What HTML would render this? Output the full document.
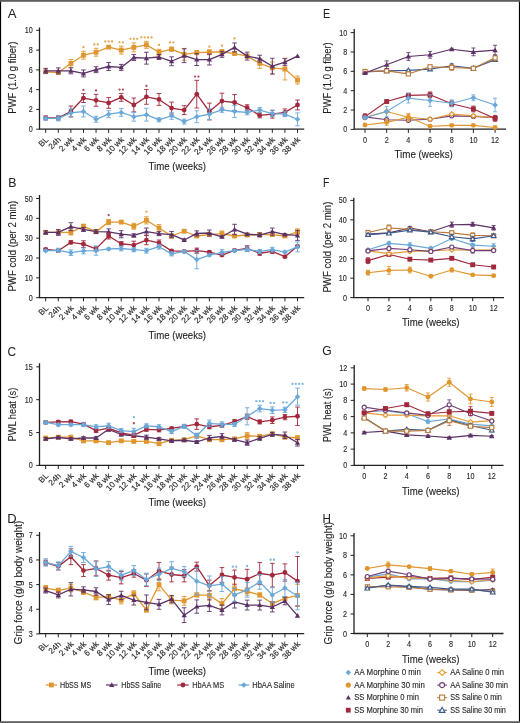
<!DOCTYPE html>
<html><head><meta charset="utf-8"><style>
html,body{margin:0;padding:0;background:#fff;width:520px;height:723px;overflow:hidden}
text{stroke:#231F20}
svg{display:block;will-change:transform}
text{font-family:"Liberation Sans",sans-serif}
</style></head><body>
<svg width="520" height="723" viewBox="0 0 520 723">
<rect x="0" y="0" width="520" height="723" fill="#fff"/>
<path d="M39.5 27.5V129.2H304.2" stroke="#231F20" stroke-width="1.3" fill="none"/>
<path d="M36.2 129.2H39.5" stroke="#231F20" stroke-width="1" fill="none"/>
<text x="32.8" y="132.2" font-size="8.4" text-anchor="end" fill="#231F20" stroke-width="0.12" textLength="4.02" lengthAdjust="spacingAndGlyphs">0</text>
<path d="M36.2 109.42H39.5" stroke="#231F20" stroke-width="1" fill="none"/>
<text x="32.8" y="112.42" font-size="8.4" text-anchor="end" fill="#231F20" stroke-width="0.12" textLength="4.02" lengthAdjust="spacingAndGlyphs">2</text>
<path d="M36.2 89.64H39.5" stroke="#231F20" stroke-width="1" fill="none"/>
<text x="32.8" y="92.64" font-size="8.4" text-anchor="end" fill="#231F20" stroke-width="0.12" textLength="4.02" lengthAdjust="spacingAndGlyphs">4</text>
<path d="M36.2 69.86H39.5" stroke="#231F20" stroke-width="1" fill="none"/>
<text x="32.8" y="72.86" font-size="8.4" text-anchor="end" fill="#231F20" stroke-width="0.12" textLength="4.02" lengthAdjust="spacingAndGlyphs">6</text>
<path d="M36.2 50.08H39.5" stroke="#231F20" stroke-width="1" fill="none"/>
<text x="32.8" y="53.08" font-size="8.4" text-anchor="end" fill="#231F20" stroke-width="0.12" textLength="4.02" lengthAdjust="spacingAndGlyphs">8</text>
<path d="M36.2 30.3H39.5" stroke="#231F20" stroke-width="1" fill="none"/>
<text x="32.8" y="33.3" font-size="8.4" text-anchor="end" fill="#231F20" stroke-width="0.12" textLength="8.03" lengthAdjust="spacingAndGlyphs">10</text>
<path d="M45.7 129.2V132.8" stroke="#231F20" stroke-width="1" fill="none"/>
<text x="48.9" y="140.2" font-size="8.2" text-anchor="end" fill="#231F20" stroke-width="0.14" transform="rotate(-45 48.9 140.2)">BL</text>
<path d="M58.29 129.2V132.8" stroke="#231F20" stroke-width="1" fill="none"/>
<text x="61.49" y="140.2" font-size="8.2" text-anchor="end" fill="#231F20" stroke-width="0.14" transform="rotate(-45 61.49 140.2)">24h</text>
<path d="M70.88 129.2V132.8" stroke="#231F20" stroke-width="1" fill="none"/>
<text x="74.08" y="140.2" font-size="8.2" text-anchor="end" fill="#231F20" stroke-width="0.14" transform="rotate(-45 74.08 140.2)">2 wk</text>
<path d="M83.47 129.2V132.8" stroke="#231F20" stroke-width="1" fill="none"/>
<text x="86.67" y="140.2" font-size="8.2" text-anchor="end" fill="#231F20" stroke-width="0.14" transform="rotate(-45 86.67 140.2)">4 wk</text>
<path d="M96.06 129.2V132.8" stroke="#231F20" stroke-width="1" fill="none"/>
<text x="99.26" y="140.2" font-size="8.2" text-anchor="end" fill="#231F20" stroke-width="0.14" transform="rotate(-45 99.26 140.2)">6 wk</text>
<path d="M108.65 129.2V132.8" stroke="#231F20" stroke-width="1" fill="none"/>
<text x="111.85" y="140.2" font-size="8.2" text-anchor="end" fill="#231F20" stroke-width="0.14" transform="rotate(-45 111.85 140.2)">8 wk</text>
<path d="M121.24 129.2V132.8" stroke="#231F20" stroke-width="1" fill="none"/>
<text x="124.44" y="140.2" font-size="8.2" text-anchor="end" fill="#231F20" stroke-width="0.14" transform="rotate(-45 124.44 140.2)">10 wk</text>
<path d="M133.83 129.2V132.8" stroke="#231F20" stroke-width="1" fill="none"/>
<text x="137.03" y="140.2" font-size="8.2" text-anchor="end" fill="#231F20" stroke-width="0.14" transform="rotate(-45 137.03 140.2)">12 wk</text>
<path d="M146.42 129.2V132.8" stroke="#231F20" stroke-width="1" fill="none"/>
<text x="149.62" y="140.2" font-size="8.2" text-anchor="end" fill="#231F20" stroke-width="0.14" transform="rotate(-45 149.62 140.2)">14 wk</text>
<path d="M159.01 129.2V132.8" stroke="#231F20" stroke-width="1" fill="none"/>
<text x="162.21" y="140.2" font-size="8.2" text-anchor="end" fill="#231F20" stroke-width="0.14" transform="rotate(-45 162.21 140.2)">16 wk</text>
<path d="M171.6 129.2V132.8" stroke="#231F20" stroke-width="1" fill="none"/>
<text x="174.8" y="140.2" font-size="8.2" text-anchor="end" fill="#231F20" stroke-width="0.14" transform="rotate(-45 174.8 140.2)">18 wk</text>
<path d="M184.19 129.2V132.8" stroke="#231F20" stroke-width="1" fill="none"/>
<text x="187.39" y="140.2" font-size="8.2" text-anchor="end" fill="#231F20" stroke-width="0.14" transform="rotate(-45 187.39 140.2)">20 wk</text>
<path d="M196.78 129.2V132.8" stroke="#231F20" stroke-width="1" fill="none"/>
<text x="199.98" y="140.2" font-size="8.2" text-anchor="end" fill="#231F20" stroke-width="0.14" transform="rotate(-45 199.98 140.2)">22 wk</text>
<path d="M209.37 129.2V132.8" stroke="#231F20" stroke-width="1" fill="none"/>
<text x="212.57" y="140.2" font-size="8.2" text-anchor="end" fill="#231F20" stroke-width="0.14" transform="rotate(-45 212.57 140.2)">24 wk</text>
<path d="M221.96 129.2V132.8" stroke="#231F20" stroke-width="1" fill="none"/>
<text x="225.16" y="140.2" font-size="8.2" text-anchor="end" fill="#231F20" stroke-width="0.14" transform="rotate(-45 225.16 140.2)">26 wk</text>
<path d="M234.55 129.2V132.8" stroke="#231F20" stroke-width="1" fill="none"/>
<text x="237.75" y="140.2" font-size="8.2" text-anchor="end" fill="#231F20" stroke-width="0.14" transform="rotate(-45 237.75 140.2)">28 wk</text>
<path d="M247.14 129.2V132.8" stroke="#231F20" stroke-width="1" fill="none"/>
<text x="250.34" y="140.2" font-size="8.2" text-anchor="end" fill="#231F20" stroke-width="0.14" transform="rotate(-45 250.34 140.2)">30 wk</text>
<path d="M259.73 129.2V132.8" stroke="#231F20" stroke-width="1" fill="none"/>
<text x="262.93" y="140.2" font-size="8.2" text-anchor="end" fill="#231F20" stroke-width="0.14" transform="rotate(-45 262.93 140.2)">32 wk</text>
<path d="M272.32 129.2V132.8" stroke="#231F20" stroke-width="1" fill="none"/>
<text x="275.52" y="140.2" font-size="8.2" text-anchor="end" fill="#231F20" stroke-width="0.14" transform="rotate(-45 275.52 140.2)">34 wk</text>
<path d="M284.91 129.2V132.8" stroke="#231F20" stroke-width="1" fill="none"/>
<text x="288.11" y="140.2" font-size="8.2" text-anchor="end" fill="#231F20" stroke-width="0.14" transform="rotate(-45 288.11 140.2)">36 wk</text>
<path d="M297.5 129.2V132.8" stroke="#231F20" stroke-width="1" fill="none"/>
<text x="300.7" y="140.2" font-size="8.2" text-anchor="end" fill="#231F20" stroke-width="0.14" transform="rotate(-45 300.7 140.2)">38 wk</text>
<text x="0" y="0" font-size="10.3" text-anchor="middle" fill="#231F20" stroke-width="0.12" textLength="72" lengthAdjust="spacingAndGlyphs" transform="translate(16.2 77.7) rotate(-90)">PWF (1.0 g fiber)</text>
<text x="7.8" y="17.6" font-size="13.3" text-anchor="start" fill="#231F20" stroke-width="0.05" textLength="8.8" lengthAdjust="spacingAndGlyphs">A</text>
<text x="148.5" y="169.8" font-size="10.6" text-anchor="start" fill="#231F20" stroke-width="0.12" textLength="57.5" lengthAdjust="spacingAndGlyphs">Time (weeks)</text>
<path d="M45.7 70.26V73.22M43.4 70.26H48M43.4 73.22H48" stroke="#E0962E" stroke-width="0.9" fill="none"/>
<path d="M58.29 71.05V74.01M55.99 71.05H60.59M55.99 74.01H60.59" stroke="#E0962E" stroke-width="0.9" fill="none"/>
<path d="M70.88 59.48V67.39M68.58 59.48H73.18M68.58 67.39H73.18" stroke="#E0962E" stroke-width="0.9" fill="none"/>
<path d="M83.47 51.27V59.18M81.17 51.27H85.77M81.17 59.18H85.77" stroke="#E0962E" stroke-width="0.9" fill="none"/>
<path d="M96.06 48.3V56.21M93.76 48.3H98.36M93.76 56.21H98.36" stroke="#E0962E" stroke-width="0.9" fill="none"/>
<path d="M108.65 46.12V48.1M106.35 46.12H110.95M106.35 48.1H110.95" stroke="#E0962E" stroke-width="0.9" fill="none"/>
<path d="M121.24 46.12V54.04M118.94 46.12H123.54M118.94 54.04H123.54" stroke="#E0962E" stroke-width="0.9" fill="none"/>
<path d="M133.83 42.96V51.86M131.53 42.96H136.13M131.53 51.86H136.13" stroke="#E0962E" stroke-width="0.9" fill="none"/>
<path d="M146.42 41.38V48.3M144.12 41.38H148.72M144.12 48.3H148.72" stroke="#E0962E" stroke-width="0.9" fill="none"/>
<path d="M159.01 49.29V55.22M156.71 49.29H161.31M156.71 55.22H161.31" stroke="#E0962E" stroke-width="0.9" fill="none"/>
<path d="M171.6 47.21V51.17M169.3 47.21H173.9M169.3 51.17H173.9" stroke="#E0962E" stroke-width="0.9" fill="none"/>
<path d="M184.19 48.4V60.27M181.89 48.4H186.49M181.89 60.27H186.49" stroke="#E0962E" stroke-width="0.9" fill="none"/>
<path d="M196.78 50.67V54.63M194.48 50.67H199.08M194.48 54.63H199.08" stroke="#E0962E" stroke-width="0.9" fill="none"/>
<path d="M209.37 49.78V54.73M207.07 49.78H211.67M207.07 54.73H211.67" stroke="#E0962E" stroke-width="0.9" fill="none"/>
<path d="M221.96 49.78V53.74M219.66 49.78H224.26M219.66 53.74H224.26" stroke="#E0962E" stroke-width="0.9" fill="none"/>
<path d="M234.55 52.55V54.53M232.25 52.55H236.85M232.25 54.53H236.85" stroke="#E0962E" stroke-width="0.9" fill="none"/>
<path d="M247.14 54.13V58.09M244.84 54.13H249.44M244.84 58.09H249.44" stroke="#E0962E" stroke-width="0.9" fill="none"/>
<path d="M259.73 58.49V68.38M257.43 58.49H262.03M257.43 68.38H262.03" stroke="#E0962E" stroke-width="0.9" fill="none"/>
<path d="M272.32 61.95V73.82M270.02 61.95H274.62M270.02 73.82H274.62" stroke="#E0962E" stroke-width="0.9" fill="none"/>
<path d="M284.91 58.19V79.95M282.61 58.19H287.21M282.61 79.95H287.21" stroke="#E0962E" stroke-width="0.9" fill="none"/>
<path d="M297.5 76.09V84M295.2 76.09H299.8M295.2 84H299.8" stroke="#E0962E" stroke-width="0.9" fill="none"/>
<path d="M45.7 71.74 L58.29 72.53 L70.88 63.43 L83.47 55.22 L96.06 52.26 L108.65 47.11 L121.24 50.08 L133.83 47.41 L146.42 44.84 L159.01 52.26 L171.6 49.19 L184.19 54.33 L196.78 52.65 L209.37 52.26 L221.96 51.76 L234.55 53.54 L247.14 56.11 L259.73 63.43 L272.32 67.88 L284.91 69.07 L297.5 80.05" stroke="#E0962E" stroke-width="1.3" fill="none" stroke-linejoin="round"/>
<rect x="43.3" y="69.34" width="4.8" height="4.8" fill="#E0962E"/>
<rect x="55.89" y="70.13" width="4.8" height="4.8" fill="#E0962E"/>
<rect x="68.48" y="61.03" width="4.8" height="4.8" fill="#E0962E"/>
<rect x="81.07" y="52.82" width="4.8" height="4.8" fill="#E0962E"/>
<rect x="93.66" y="49.86" width="4.8" height="4.8" fill="#E0962E"/>
<rect x="106.25" y="44.71" width="4.8" height="4.8" fill="#E0962E"/>
<rect x="118.84" y="47.68" width="4.8" height="4.8" fill="#E0962E"/>
<rect x="131.43" y="45.01" width="4.8" height="4.8" fill="#E0962E"/>
<rect x="144.02" y="42.44" width="4.8" height="4.8" fill="#E0962E"/>
<rect x="156.61" y="49.86" width="4.8" height="4.8" fill="#E0962E"/>
<rect x="169.2" y="46.79" width="4.8" height="4.8" fill="#E0962E"/>
<rect x="181.79" y="51.93" width="4.8" height="4.8" fill="#E0962E"/>
<rect x="194.38" y="50.25" width="4.8" height="4.8" fill="#E0962E"/>
<rect x="206.97" y="49.86" width="4.8" height="4.8" fill="#E0962E"/>
<rect x="219.56" y="49.36" width="4.8" height="4.8" fill="#E0962E"/>
<rect x="232.15" y="51.14" width="4.8" height="4.8" fill="#E0962E"/>
<rect x="244.74" y="53.71" width="4.8" height="4.8" fill="#E0962E"/>
<rect x="257.33" y="61.03" width="4.8" height="4.8" fill="#E0962E"/>
<rect x="269.92" y="65.48" width="4.8" height="4.8" fill="#E0962E"/>
<rect x="282.51" y="66.67" width="4.8" height="4.8" fill="#E0962E"/>
<rect x="295.1" y="77.65" width="4.8" height="4.8" fill="#E0962E"/>
<path d="M45.7 68.38V73.32M43.4 68.38H48M43.4 73.32H48" stroke="#5C3166" stroke-width="0.9" fill="none"/>
<path d="M58.29 67.88V73.82M55.99 67.88H60.59M55.99 73.82H60.59" stroke="#5C3166" stroke-width="0.9" fill="none"/>
<path d="M70.88 67.88V73.82M68.58 67.88H73.18M68.58 73.82H73.18" stroke="#5C3166" stroke-width="0.9" fill="none"/>
<path d="M83.47 69.96V76.88M81.17 69.96H85.77M81.17 76.88H85.77" stroke="#5C3166" stroke-width="0.9" fill="none"/>
<path d="M96.06 66.7V72.63M93.76 66.7H98.36M93.76 72.63H98.36" stroke="#5C3166" stroke-width="0.9" fill="none"/>
<path d="M108.65 62.54V70.45M106.35 62.54H110.95M106.35 70.45H110.95" stroke="#5C3166" stroke-width="0.9" fill="none"/>
<path d="M121.24 64.42V70.35M118.94 64.42H123.54M118.94 70.35H123.54" stroke="#5C3166" stroke-width="0.9" fill="none"/>
<path d="M133.83 54.53V60.46M131.53 54.53H136.13M131.53 60.46H136.13" stroke="#5C3166" stroke-width="0.9" fill="none"/>
<path d="M146.42 52.26V64.12M144.12 52.26H148.72M144.12 64.12H148.72" stroke="#5C3166" stroke-width="0.9" fill="none"/>
<path d="M159.01 54.53V59.48M156.71 54.53H161.31M156.71 59.48H161.31" stroke="#5C3166" stroke-width="0.9" fill="none"/>
<path d="M171.6 56.81V65.71M169.3 56.81H173.9M169.3 65.71H173.9" stroke="#5C3166" stroke-width="0.9" fill="none"/>
<path d="M184.19 48.79V62.64M181.89 48.79H186.49M181.89 62.64H186.49" stroke="#5C3166" stroke-width="0.9" fill="none"/>
<path d="M196.78 53.64V65.51M194.48 53.64H199.08M194.48 65.51H199.08" stroke="#5C3166" stroke-width="0.9" fill="none"/>
<path d="M209.37 54.13V65.01M207.07 54.13H211.67M207.07 65.01H211.67" stroke="#5C3166" stroke-width="0.9" fill="none"/>
<path d="M221.96 51.37V57.3M219.66 51.37H224.26M219.66 57.3H224.26" stroke="#5C3166" stroke-width="0.9" fill="none"/>
<path d="M234.55 42.96V51.86M232.25 42.96H236.85M232.25 51.86H236.85" stroke="#5C3166" stroke-width="0.9" fill="none"/>
<path d="M247.14 52.16V60.07M244.84 52.16H249.44M244.84 60.07H249.44" stroke="#5C3166" stroke-width="0.9" fill="none"/>
<path d="M259.73 55.22V62.15M257.43 55.22H262.03M257.43 62.15H262.03" stroke="#5C3166" stroke-width="0.9" fill="none"/>
<path d="M272.32 58.29V74.11M270.02 58.29H274.62M270.02 74.11H274.62" stroke="#5C3166" stroke-width="0.9" fill="none"/>
<path d="M284.91 58.68V65.61M282.61 58.68H287.21M282.61 65.61H287.21" stroke="#5C3166" stroke-width="0.9" fill="none"/>
<path d="M45.7 70.85 L58.29 70.85 L70.88 70.85 L83.47 73.42 L96.06 69.66 L108.65 66.5 L121.24 67.39 L133.83 57.5 L146.42 58.19 L159.01 57 L171.6 61.26 L184.19 55.72 L196.78 59.57 L209.37 59.57 L221.96 54.33 L234.55 47.41 L247.14 56.11 L259.73 58.68 L272.32 66.2 L284.91 62.15 L297.5 56.11" stroke="#5C3166" stroke-width="1.3" fill="none" stroke-linejoin="round"/>
<polygon points="45.7,68.21 48.34,72.83 43.06,72.83" fill="#5C3166"/>
<polygon points="58.29,68.21 60.93,72.83 55.65,72.83" fill="#5C3166"/>
<polygon points="70.88,68.21 73.52,72.83 68.24,72.83" fill="#5C3166"/>
<polygon points="83.47,70.78 86.11,75.4 80.83,75.4" fill="#5C3166"/>
<polygon points="96.06,67.02 98.7,71.64 93.42,71.64" fill="#5C3166"/>
<polygon points="108.65,63.86 111.29,68.48 106.01,68.48" fill="#5C3166"/>
<polygon points="121.24,64.75 123.88,69.37 118.6,69.37" fill="#5C3166"/>
<polygon points="133.83,54.86 136.47,59.48 131.19,59.48" fill="#5C3166"/>
<polygon points="146.42,55.55 149.06,60.17 143.78,60.17" fill="#5C3166"/>
<polygon points="159.01,54.36 161.65,58.98 156.37,58.98" fill="#5C3166"/>
<polygon points="171.6,58.62 174.24,63.24 168.96,63.24" fill="#5C3166"/>
<polygon points="184.19,53.08 186.83,57.7 181.55,57.7" fill="#5C3166"/>
<polygon points="196.78,56.93 199.42,61.55 194.14,61.55" fill="#5C3166"/>
<polygon points="209.37,56.93 212.01,61.55 206.73,61.55" fill="#5C3166"/>
<polygon points="221.96,51.69 224.6,56.31 219.32,56.31" fill="#5C3166"/>
<polygon points="234.55,44.77 237.19,49.39 231.91,49.39" fill="#5C3166"/>
<polygon points="247.14,53.47 249.78,58.09 244.5,58.09" fill="#5C3166"/>
<polygon points="259.73,56.04 262.37,60.66 257.09,60.66" fill="#5C3166"/>
<polygon points="272.32,63.56 274.96,68.18 269.68,68.18" fill="#5C3166"/>
<polygon points="284.91,59.51 287.55,64.13 282.27,64.13" fill="#5C3166"/>
<polygon points="297.5,53.47 300.14,58.09 294.86,58.09" fill="#5C3166"/>
<path d="M45.7 115.95V119.9M43.4 115.95H48M43.4 119.9H48" stroke="#A2283C" stroke-width="0.9" fill="none"/>
<path d="M58.29 115.95V119.9M55.99 115.95H60.59M55.99 119.9H60.59" stroke="#A2283C" stroke-width="0.9" fill="none"/>
<path d="M70.88 106.06V116.94M68.58 106.06H73.18M68.58 116.94H73.18" stroke="#A2283C" stroke-width="0.9" fill="none"/>
<path d="M83.47 93.6V102.5M81.17 93.6H85.77M81.17 102.5H85.77" stroke="#A2283C" stroke-width="0.9" fill="none"/>
<path d="M96.06 94.39V106.26M93.76 94.39H98.36M93.76 106.26H98.36" stroke="#A2283C" stroke-width="0.9" fill="none"/>
<path d="M108.65 97.45V108.33M106.35 97.45H110.95M106.35 108.33H110.95" stroke="#A2283C" stroke-width="0.9" fill="none"/>
<path d="M121.24 93.4V101.31M118.94 93.4H123.54M118.94 101.31H123.54" stroke="#A2283C" stroke-width="0.9" fill="none"/>
<path d="M133.83 98.05V111.89M131.53 98.05H136.13M131.53 111.89H136.13" stroke="#A2283C" stroke-width="0.9" fill="none"/>
<path d="M146.42 89.44V104.28M144.12 89.44H148.72M144.12 104.28H148.72" stroke="#A2283C" stroke-width="0.9" fill="none"/>
<path d="M159.01 93.5V105.37M156.71 93.5H161.31M156.71 105.37H161.31" stroke="#A2283C" stroke-width="0.9" fill="none"/>
<path d="M171.6 102.1V113.97M169.3 102.1H173.9M169.3 113.97H173.9" stroke="#A2283C" stroke-width="0.9" fill="none"/>
<path d="M184.19 105.66V114.56M181.89 105.66H186.49M181.89 114.56H186.49" stroke="#A2283C" stroke-width="0.9" fill="none"/>
<path d="M196.78 80.34V108.04M194.48 80.34H199.08M194.48 108.04H199.08" stroke="#A2283C" stroke-width="0.9" fill="none"/>
<path d="M209.37 103.09V119.9M207.07 103.09H211.67M207.07 119.9H211.67" stroke="#A2283C" stroke-width="0.9" fill="none"/>
<path d="M221.96 93.2V109.02M219.66 93.2H224.26M219.66 109.02H224.26" stroke="#A2283C" stroke-width="0.9" fill="none"/>
<path d="M234.55 94.58V110.41M232.25 94.58H236.85M232.25 110.41H236.85" stroke="#A2283C" stroke-width="0.9" fill="none"/>
<path d="M247.14 104.77V110.71M244.84 104.77H249.44M244.84 110.71H249.44" stroke="#A2283C" stroke-width="0.9" fill="none"/>
<path d="M259.73 112.88V117.83M257.43 112.88H262.03M257.43 117.83H262.03" stroke="#A2283C" stroke-width="0.9" fill="none"/>
<path d="M272.32 110.21V118.12M270.02 110.21H274.62M270.02 118.12H274.62" stroke="#A2283C" stroke-width="0.9" fill="none"/>
<path d="M284.91 108.93V115.85M282.61 108.93H287.21M282.61 115.85H287.21" stroke="#A2283C" stroke-width="0.9" fill="none"/>
<path d="M297.5 100.02V109.91M295.2 100.02H299.8M295.2 109.91H299.8" stroke="#A2283C" stroke-width="0.9" fill="none"/>
<path d="M45.7 117.93 L58.29 117.93 L70.88 111.5 L83.47 98.05 L96.06 100.32 L108.65 102.89 L121.24 97.35 L133.83 104.97 L146.42 96.86 L159.01 99.43 L171.6 108.04 L184.19 110.11 L196.78 94.19 L209.37 111.5 L221.96 101.11 L234.55 102.5 L247.14 107.74 L259.73 115.35 L272.32 114.17 L284.91 112.39 L297.5 104.97" stroke="#A2283C" stroke-width="1.3" fill="none" stroke-linejoin="round"/>
<circle cx="45.7" cy="117.93" r="2.4" fill="#A2283C"/>
<circle cx="58.29" cy="117.93" r="2.4" fill="#A2283C"/>
<circle cx="70.88" cy="111.5" r="2.4" fill="#A2283C"/>
<circle cx="83.47" cy="98.05" r="2.4" fill="#A2283C"/>
<circle cx="96.06" cy="100.32" r="2.4" fill="#A2283C"/>
<circle cx="108.65" cy="102.89" r="2.4" fill="#A2283C"/>
<circle cx="121.24" cy="97.35" r="2.4" fill="#A2283C"/>
<circle cx="133.83" cy="104.97" r="2.4" fill="#A2283C"/>
<circle cx="146.42" cy="96.86" r="2.4" fill="#A2283C"/>
<circle cx="159.01" cy="99.43" r="2.4" fill="#A2283C"/>
<circle cx="171.6" cy="108.04" r="2.4" fill="#A2283C"/>
<circle cx="184.19" cy="110.11" r="2.4" fill="#A2283C"/>
<circle cx="196.78" cy="94.19" r="2.4" fill="#A2283C"/>
<circle cx="209.37" cy="111.5" r="2.4" fill="#A2283C"/>
<circle cx="221.96" cy="101.11" r="2.4" fill="#A2283C"/>
<circle cx="234.55" cy="102.5" r="2.4" fill="#A2283C"/>
<circle cx="247.14" cy="107.74" r="2.4" fill="#A2283C"/>
<circle cx="259.73" cy="115.35" r="2.4" fill="#A2283C"/>
<circle cx="272.32" cy="114.17" r="2.4" fill="#A2283C"/>
<circle cx="284.91" cy="112.39" r="2.4" fill="#A2283C"/>
<circle cx="297.5" cy="104.97" r="2.4" fill="#A2283C"/>
<path d="M45.7 116.94V119.9M43.4 116.94H48M43.4 119.9H48" stroke="#6AA8DA" stroke-width="0.9" fill="none"/>
<path d="M58.29 115.95V120.89M55.99 115.95H60.59M55.99 120.89H60.59" stroke="#6AA8DA" stroke-width="0.9" fill="none"/>
<path d="M70.88 108.93V116.84M68.58 108.93H73.18M68.58 116.84H73.18" stroke="#6AA8DA" stroke-width="0.9" fill="none"/>
<path d="M83.47 106.06V116.94M81.17 106.06H85.77M81.17 116.94H85.77" stroke="#6AA8DA" stroke-width="0.9" fill="none"/>
<path d="M96.06 116.34V122.28M93.76 116.34H98.36M93.76 122.28H98.36" stroke="#6AA8DA" stroke-width="0.9" fill="none"/>
<path d="M108.65 110.71V117.63M106.35 110.71H110.95M106.35 117.63H110.95" stroke="#6AA8DA" stroke-width="0.9" fill="none"/>
<path d="M121.24 108.43V116.34M118.94 108.43H123.54M118.94 116.34H123.54" stroke="#6AA8DA" stroke-width="0.9" fill="none"/>
<path d="M133.83 112.29V121.19M131.53 112.29H136.13M131.53 121.19H136.13" stroke="#6AA8DA" stroke-width="0.9" fill="none"/>
<path d="M146.42 108.23V121.09M144.12 108.23H148.72M144.12 121.09H148.72" stroke="#6AA8DA" stroke-width="0.9" fill="none"/>
<path d="M159.01 117.83V121.78M156.71 117.83H161.31M156.71 121.78H161.31" stroke="#6AA8DA" stroke-width="0.9" fill="none"/>
<path d="M171.6 112.39V119.31M169.3 112.39H173.9M169.3 119.31H173.9" stroke="#6AA8DA" stroke-width="0.9" fill="none"/>
<path d="M184.19 119.11V124.06M181.89 119.11H186.49M181.89 124.06H186.49" stroke="#6AA8DA" stroke-width="0.9" fill="none"/>
<path d="M196.78 110.8V122.67M194.48 110.8H199.08M194.48 122.67H199.08" stroke="#6AA8DA" stroke-width="0.9" fill="none"/>
<path d="M209.37 108.73V119.61M207.07 108.73H211.67M207.07 119.61H211.67" stroke="#6AA8DA" stroke-width="0.9" fill="none"/>
<path d="M221.96 107.34V112.29M219.66 107.34H224.26M219.66 112.29H224.26" stroke="#6AA8DA" stroke-width="0.9" fill="none"/>
<path d="M234.55 105.56V117.43M232.25 105.56H236.85M232.25 117.43H236.85" stroke="#6AA8DA" stroke-width="0.9" fill="none"/>
<path d="M247.14 109.91V114.86M244.84 109.91H249.44M244.84 114.86H249.44" stroke="#6AA8DA" stroke-width="0.9" fill="none"/>
<path d="M259.73 107.64V112.58M257.43 107.64H262.03M257.43 112.58H262.03" stroke="#6AA8DA" stroke-width="0.9" fill="none"/>
<path d="M272.32 110.61V116.54M270.02 110.61H274.62M270.02 116.54H274.62" stroke="#6AA8DA" stroke-width="0.9" fill="none"/>
<path d="M284.91 111.69V116.64M282.61 111.69H287.21M282.61 116.64H287.21" stroke="#6AA8DA" stroke-width="0.9" fill="none"/>
<path d="M297.5 112.88V125.74M295.2 112.88H299.8M295.2 125.74H299.8" stroke="#6AA8DA" stroke-width="0.9" fill="none"/>
<path d="M45.7 118.42 L58.29 118.42 L70.88 112.88 L83.47 111.5 L96.06 119.31 L108.65 114.17 L121.24 112.39 L133.83 116.74 L146.42 114.66 L159.01 119.8 L171.6 115.85 L184.19 121.58 L196.78 116.74 L209.37 114.17 L221.96 109.82 L234.55 111.5 L247.14 112.39 L259.73 110.11 L272.32 113.57 L284.91 114.17 L297.5 119.31" stroke="#6AA8DA" stroke-width="1.3" fill="none" stroke-linejoin="round"/>
<polygon points="45.7,115.66 48.46,118.42 45.7,121.18 42.94,118.42" fill="#6AA8DA"/>
<polygon points="58.29,115.66 61.05,118.42 58.29,121.18 55.53,118.42" fill="#6AA8DA"/>
<polygon points="70.88,110.12 73.64,112.88 70.88,115.64 68.12,112.88" fill="#6AA8DA"/>
<polygon points="83.47,108.74 86.23,111.5 83.47,114.26 80.71,111.5" fill="#6AA8DA"/>
<polygon points="96.06,116.55 98.82,119.31 96.06,122.07 93.3,119.31" fill="#6AA8DA"/>
<polygon points="108.65,111.41 111.41,114.17 108.65,116.93 105.89,114.17" fill="#6AA8DA"/>
<polygon points="121.24,109.63 124,112.39 121.24,115.15 118.48,112.39" fill="#6AA8DA"/>
<polygon points="133.83,113.98 136.59,116.74 133.83,119.5 131.07,116.74" fill="#6AA8DA"/>
<polygon points="146.42,111.9 149.18,114.66 146.42,117.42 143.66,114.66" fill="#6AA8DA"/>
<polygon points="159.01,117.04 161.77,119.8 159.01,122.56 156.25,119.8" fill="#6AA8DA"/>
<polygon points="171.6,113.09 174.36,115.85 171.6,118.61 168.84,115.85" fill="#6AA8DA"/>
<polygon points="184.19,118.82 186.95,121.58 184.19,124.34 181.43,121.58" fill="#6AA8DA"/>
<polygon points="196.78,113.98 199.54,116.74 196.78,119.5 194.02,116.74" fill="#6AA8DA"/>
<polygon points="209.37,111.41 212.13,114.17 209.37,116.93 206.61,114.17" fill="#6AA8DA"/>
<polygon points="221.96,107.06 224.72,109.82 221.96,112.58 219.2,109.82" fill="#6AA8DA"/>
<polygon points="234.55,108.74 237.31,111.5 234.55,114.26 231.79,111.5" fill="#6AA8DA"/>
<polygon points="247.14,109.63 249.9,112.39 247.14,115.15 244.38,112.39" fill="#6AA8DA"/>
<polygon points="259.73,107.35 262.49,110.11 259.73,112.87 256.97,110.11" fill="#6AA8DA"/>
<polygon points="272.32,110.81 275.08,113.57 272.32,116.33 269.56,113.57" fill="#6AA8DA"/>
<polygon points="284.91,111.41 287.67,114.17 284.91,116.93 282.15,114.17" fill="#6AA8DA"/>
<polygon points="297.5,116.55 300.26,119.31 297.5,122.07 294.74,119.31" fill="#6AA8DA"/>
<circle cx="83.47" cy="47.15" r="1.15" fill="#E0962E" opacity="0.85"/>
<circle cx="94.36" cy="44.38" r="1.15" fill="#E0962E" opacity="0.85"/>
<circle cx="97.76" cy="44.38" r="1.15" fill="#E0962E" opacity="0.85"/>
<circle cx="105.25" cy="41.44" r="1.15" fill="#E0962E" opacity="0.85"/>
<circle cx="108.65" cy="41.44" r="1.15" fill="#E0962E" opacity="0.85"/>
<circle cx="112.05" cy="41.44" r="1.15" fill="#E0962E" opacity="0.85"/>
<circle cx="119.54" cy="42.31" r="1.15" fill="#E0962E" opacity="0.85"/>
<circle cx="122.94" cy="42.31" r="1.15" fill="#E0962E" opacity="0.85"/>
<circle cx="130.43" cy="38.85" r="1.15" fill="#E0962E" opacity="0.85"/>
<circle cx="133.83" cy="38.85" r="1.15" fill="#E0962E" opacity="0.85"/>
<circle cx="137.23" cy="38.85" r="1.15" fill="#E0962E" opacity="0.85"/>
<circle cx="141.32" cy="37.46" r="1.15" fill="#E0962E" opacity="0.85"/>
<circle cx="144.72" cy="37.46" r="1.15" fill="#E0962E" opacity="0.85"/>
<circle cx="148.12" cy="37.46" r="1.15" fill="#E0962E" opacity="0.85"/>
<circle cx="151.52" cy="37.46" r="1.15" fill="#E0962E" opacity="0.85"/>
<circle cx="159.01" cy="44.9" r="1.15" fill="#E0962E" opacity="0.85"/>
<circle cx="169.9" cy="42.31" r="1.15" fill="#E0962E" opacity="0.85"/>
<circle cx="173.3" cy="42.31" r="1.15" fill="#E0962E" opacity="0.85"/>
<circle cx="209.37" cy="46.63" r="1.15" fill="#E0962E" opacity="0.85"/>
<circle cx="221.96" cy="45.77" r="1.15" fill="#E0962E" opacity="0.85"/>
<circle cx="234.55" cy="38.5" r="1.15" fill="#E0962E" opacity="0.85"/>
<circle cx="83.47" cy="89.9" r="1.15" fill="#A2283C" opacity="0.85"/>
<circle cx="96.06" cy="90.42" r="1.15" fill="#A2283C" opacity="0.85"/>
<circle cx="119.54" cy="89.56" r="1.15" fill="#A2283C" opacity="0.85"/>
<circle cx="122.94" cy="89.56" r="1.15" fill="#A2283C" opacity="0.85"/>
<circle cx="146.42" cy="85.92" r="1.15" fill="#A2283C" opacity="0.85"/>
<circle cx="195.08" cy="76.57" r="1.15" fill="#A2283C" opacity="0.85"/>
<circle cx="198.48" cy="76.57" r="1.15" fill="#A2283C" opacity="0.85"/>
<path d="M39.5 195V297.7H304.2" stroke="#231F20" stroke-width="1.3" fill="none"/>
<path d="M36.2 297.7H39.5" stroke="#231F20" stroke-width="1" fill="none"/>
<text x="32.8" y="300.7" font-size="8.4" text-anchor="end" fill="#231F20" stroke-width="0.12" textLength="4.02" lengthAdjust="spacingAndGlyphs">0</text>
<path d="M36.2 277.86H39.5" stroke="#231F20" stroke-width="1" fill="none"/>
<text x="32.8" y="280.86" font-size="8.4" text-anchor="end" fill="#231F20" stroke-width="0.12" textLength="8.03" lengthAdjust="spacingAndGlyphs">10</text>
<path d="M36.2 258.02H39.5" stroke="#231F20" stroke-width="1" fill="none"/>
<text x="32.8" y="261.02" font-size="8.4" text-anchor="end" fill="#231F20" stroke-width="0.12" textLength="8.03" lengthAdjust="spacingAndGlyphs">20</text>
<path d="M36.2 238.18H39.5" stroke="#231F20" stroke-width="1" fill="none"/>
<text x="32.8" y="241.18" font-size="8.4" text-anchor="end" fill="#231F20" stroke-width="0.12" textLength="8.03" lengthAdjust="spacingAndGlyphs">30</text>
<path d="M36.2 218.34H39.5" stroke="#231F20" stroke-width="1" fill="none"/>
<text x="32.8" y="221.34" font-size="8.4" text-anchor="end" fill="#231F20" stroke-width="0.12" textLength="8.03" lengthAdjust="spacingAndGlyphs">40</text>
<path d="M36.2 198.5H39.5" stroke="#231F20" stroke-width="1" fill="none"/>
<text x="32.8" y="201.5" font-size="8.4" text-anchor="end" fill="#231F20" stroke-width="0.12" textLength="8.03" lengthAdjust="spacingAndGlyphs">50</text>
<path d="M45.7 297.7V301.3" stroke="#231F20" stroke-width="1" fill="none"/>
<text x="48.9" y="308.7" font-size="8.2" text-anchor="end" fill="#231F20" stroke-width="0.14" transform="rotate(-45 48.9 308.7)">BL</text>
<path d="M58.29 297.7V301.3" stroke="#231F20" stroke-width="1" fill="none"/>
<text x="61.49" y="308.7" font-size="8.2" text-anchor="end" fill="#231F20" stroke-width="0.14" transform="rotate(-45 61.49 308.7)">24h</text>
<path d="M70.88 297.7V301.3" stroke="#231F20" stroke-width="1" fill="none"/>
<text x="74.08" y="308.7" font-size="8.2" text-anchor="end" fill="#231F20" stroke-width="0.14" transform="rotate(-45 74.08 308.7)">2 wk</text>
<path d="M83.47 297.7V301.3" stroke="#231F20" stroke-width="1" fill="none"/>
<text x="86.67" y="308.7" font-size="8.2" text-anchor="end" fill="#231F20" stroke-width="0.14" transform="rotate(-45 86.67 308.7)">4 wk</text>
<path d="M96.06 297.7V301.3" stroke="#231F20" stroke-width="1" fill="none"/>
<text x="99.26" y="308.7" font-size="8.2" text-anchor="end" fill="#231F20" stroke-width="0.14" transform="rotate(-45 99.26 308.7)">6 wk</text>
<path d="M108.65 297.7V301.3" stroke="#231F20" stroke-width="1" fill="none"/>
<text x="111.85" y="308.7" font-size="8.2" text-anchor="end" fill="#231F20" stroke-width="0.14" transform="rotate(-45 111.85 308.7)">8 wk</text>
<path d="M121.24 297.7V301.3" stroke="#231F20" stroke-width="1" fill="none"/>
<text x="124.44" y="308.7" font-size="8.2" text-anchor="end" fill="#231F20" stroke-width="0.14" transform="rotate(-45 124.44 308.7)">10 wk</text>
<path d="M133.83 297.7V301.3" stroke="#231F20" stroke-width="1" fill="none"/>
<text x="137.03" y="308.7" font-size="8.2" text-anchor="end" fill="#231F20" stroke-width="0.14" transform="rotate(-45 137.03 308.7)">12 wk</text>
<path d="M146.42 297.7V301.3" stroke="#231F20" stroke-width="1" fill="none"/>
<text x="149.62" y="308.7" font-size="8.2" text-anchor="end" fill="#231F20" stroke-width="0.14" transform="rotate(-45 149.62 308.7)">14 wk</text>
<path d="M159.01 297.7V301.3" stroke="#231F20" stroke-width="1" fill="none"/>
<text x="162.21" y="308.7" font-size="8.2" text-anchor="end" fill="#231F20" stroke-width="0.14" transform="rotate(-45 162.21 308.7)">16 wk</text>
<path d="M171.6 297.7V301.3" stroke="#231F20" stroke-width="1" fill="none"/>
<text x="174.8" y="308.7" font-size="8.2" text-anchor="end" fill="#231F20" stroke-width="0.14" transform="rotate(-45 174.8 308.7)">18 wk</text>
<path d="M184.19 297.7V301.3" stroke="#231F20" stroke-width="1" fill="none"/>
<text x="187.39" y="308.7" font-size="8.2" text-anchor="end" fill="#231F20" stroke-width="0.14" transform="rotate(-45 187.39 308.7)">20 wk</text>
<path d="M196.78 297.7V301.3" stroke="#231F20" stroke-width="1" fill="none"/>
<text x="199.98" y="308.7" font-size="8.2" text-anchor="end" fill="#231F20" stroke-width="0.14" transform="rotate(-45 199.98 308.7)">22 wk</text>
<path d="M209.37 297.7V301.3" stroke="#231F20" stroke-width="1" fill="none"/>
<text x="212.57" y="308.7" font-size="8.2" text-anchor="end" fill="#231F20" stroke-width="0.14" transform="rotate(-45 212.57 308.7)">24 wk</text>
<path d="M221.96 297.7V301.3" stroke="#231F20" stroke-width="1" fill="none"/>
<text x="225.16" y="308.7" font-size="8.2" text-anchor="end" fill="#231F20" stroke-width="0.14" transform="rotate(-45 225.16 308.7)">26 wk</text>
<path d="M234.55 297.7V301.3" stroke="#231F20" stroke-width="1" fill="none"/>
<text x="237.75" y="308.7" font-size="8.2" text-anchor="end" fill="#231F20" stroke-width="0.14" transform="rotate(-45 237.75 308.7)">28 wk</text>
<path d="M247.14 297.7V301.3" stroke="#231F20" stroke-width="1" fill="none"/>
<text x="250.34" y="308.7" font-size="8.2" text-anchor="end" fill="#231F20" stroke-width="0.14" transform="rotate(-45 250.34 308.7)">30 wk</text>
<path d="M259.73 297.7V301.3" stroke="#231F20" stroke-width="1" fill="none"/>
<text x="262.93" y="308.7" font-size="8.2" text-anchor="end" fill="#231F20" stroke-width="0.14" transform="rotate(-45 262.93 308.7)">32 wk</text>
<path d="M272.32 297.7V301.3" stroke="#231F20" stroke-width="1" fill="none"/>
<text x="275.52" y="308.7" font-size="8.2" text-anchor="end" fill="#231F20" stroke-width="0.14" transform="rotate(-45 275.52 308.7)">34 wk</text>
<path d="M284.91 297.7V301.3" stroke="#231F20" stroke-width="1" fill="none"/>
<text x="288.11" y="308.7" font-size="8.2" text-anchor="end" fill="#231F20" stroke-width="0.14" transform="rotate(-45 288.11 308.7)">36 wk</text>
<path d="M297.5 297.7V301.3" stroke="#231F20" stroke-width="1" fill="none"/>
<text x="300.7" y="308.7" font-size="8.2" text-anchor="end" fill="#231F20" stroke-width="0.14" transform="rotate(-45 300.7 308.7)">38 wk</text>
<text x="0" y="0" font-size="10.3" text-anchor="middle" fill="#231F20" stroke-width="0.12" textLength="90.8" lengthAdjust="spacingAndGlyphs" transform="translate(16.4 246.2) rotate(-90)">PWF cold (per 2 min)</text>
<text x="8.2" y="187.2" font-size="13.3" text-anchor="start" fill="#231F20" stroke-width="0.05" textLength="8.2" lengthAdjust="spacingAndGlyphs">B</text>
<text x="148.5" y="338.6" font-size="10.6" text-anchor="start" fill="#231F20" stroke-width="0.12" textLength="57.5" lengthAdjust="spacingAndGlyphs">Time (weeks)</text>
<path d="M45.7 231.43V233.42M43.4 231.43H48M43.4 233.42H48" stroke="#E0962E" stroke-width="0.9" fill="none"/>
<path d="M58.29 231.43V233.42M55.99 231.43H60.59M55.99 233.42H60.59" stroke="#E0962E" stroke-width="0.9" fill="none"/>
<path d="M70.88 229.85V235.01M68.58 229.85H73.18M68.58 235.01H73.18" stroke="#E0962E" stroke-width="0.9" fill="none"/>
<path d="M83.47 224.29V228.26M81.17 224.29H85.77M81.17 228.26H85.77" stroke="#E0962E" stroke-width="0.9" fill="none"/>
<path d="M96.06 230.64V232.62M93.76 230.64H98.36M93.76 232.62H98.36" stroke="#E0962E" stroke-width="0.9" fill="none"/>
<path d="M108.65 219.53V224.69M106.35 219.53H110.95M106.35 224.69H110.95" stroke="#E0962E" stroke-width="0.9" fill="none"/>
<path d="M121.24 221.12V223.1M118.94 221.12H123.54M118.94 223.1H123.54" stroke="#E0962E" stroke-width="0.9" fill="none"/>
<path d="M133.83 223.3V229.25M131.53 223.3H136.13M131.53 229.25H136.13" stroke="#E0962E" stroke-width="0.9" fill="none"/>
<path d="M146.42 216.75V223.9M144.12 216.75H148.72M144.12 223.9H148.72" stroke="#E0962E" stroke-width="0.9" fill="none"/>
<path d="M159.01 224.49V231.63M156.71 224.49H161.31M156.71 231.63H161.31" stroke="#E0962E" stroke-width="0.9" fill="none"/>
<path d="M171.6 234.01V237.98M169.3 234.01H173.9M169.3 237.98H173.9" stroke="#E0962E" stroke-width="0.9" fill="none"/>
<path d="M184.19 230.24V232.23M181.89 230.24H186.49M181.89 232.23H186.49" stroke="#E0962E" stroke-width="0.9" fill="none"/>
<path d="M196.78 234.41V237.58M194.48 234.41H199.08M194.48 237.58H199.08" stroke="#E0962E" stroke-width="0.9" fill="none"/>
<path d="M209.37 233.62V235.6M207.07 233.62H211.67M207.07 235.6H211.67" stroke="#E0962E" stroke-width="0.9" fill="none"/>
<path d="M221.96 231.04V236.2M219.66 231.04H224.26M219.66 236.2H224.26" stroke="#E0962E" stroke-width="0.9" fill="none"/>
<path d="M234.55 235.01V236.99M232.25 235.01H236.85M232.25 236.99H236.85" stroke="#E0962E" stroke-width="0.9" fill="none"/>
<path d="M247.14 234.01V236M244.84 234.01H249.44M244.84 236H249.44" stroke="#E0962E" stroke-width="0.9" fill="none"/>
<path d="M259.73 232.62V236.59M257.43 232.62H262.03M257.43 236.59H262.03" stroke="#E0962E" stroke-width="0.9" fill="none"/>
<path d="M272.32 233.62V235.6M270.02 233.62H274.62M270.02 235.6H274.62" stroke="#E0962E" stroke-width="0.9" fill="none"/>
<path d="M284.91 235.01V236.99M282.61 235.01H287.21M282.61 236.99H287.21" stroke="#E0962E" stroke-width="0.9" fill="none"/>
<path d="M297.5 228.86V234.81M295.2 228.86H299.8M295.2 234.81H299.8" stroke="#E0962E" stroke-width="0.9" fill="none"/>
<path d="M45.7 232.43 L58.29 232.43 L70.88 232.43 L83.47 226.28 L96.06 231.63 L108.65 222.11 L121.24 222.11 L133.83 226.28 L146.42 220.32 L159.01 228.06 L171.6 236 L184.19 231.24 L196.78 236 L209.37 234.61 L221.96 233.62 L234.55 236 L247.14 235.01 L259.73 234.61 L272.32 234.61 L284.91 236 L297.5 231.83" stroke="#E0962E" stroke-width="1.3" fill="none" stroke-linejoin="round"/>
<rect x="43.3" y="230.03" width="4.8" height="4.8" fill="#E0962E"/>
<rect x="55.89" y="230.03" width="4.8" height="4.8" fill="#E0962E"/>
<rect x="68.48" y="230.03" width="4.8" height="4.8" fill="#E0962E"/>
<rect x="81.07" y="223.88" width="4.8" height="4.8" fill="#E0962E"/>
<rect x="93.66" y="229.23" width="4.8" height="4.8" fill="#E0962E"/>
<rect x="106.25" y="219.71" width="4.8" height="4.8" fill="#E0962E"/>
<rect x="118.84" y="219.71" width="4.8" height="4.8" fill="#E0962E"/>
<rect x="131.43" y="223.88" width="4.8" height="4.8" fill="#E0962E"/>
<rect x="144.02" y="217.92" width="4.8" height="4.8" fill="#E0962E"/>
<rect x="156.61" y="225.66" width="4.8" height="4.8" fill="#E0962E"/>
<rect x="169.2" y="233.6" width="4.8" height="4.8" fill="#E0962E"/>
<rect x="181.79" y="228.84" width="4.8" height="4.8" fill="#E0962E"/>
<rect x="194.38" y="233.6" width="4.8" height="4.8" fill="#E0962E"/>
<rect x="206.97" y="232.21" width="4.8" height="4.8" fill="#E0962E"/>
<rect x="219.56" y="231.22" width="4.8" height="4.8" fill="#E0962E"/>
<rect x="232.15" y="233.6" width="4.8" height="4.8" fill="#E0962E"/>
<rect x="244.74" y="232.61" width="4.8" height="4.8" fill="#E0962E"/>
<rect x="257.33" y="232.21" width="4.8" height="4.8" fill="#E0962E"/>
<rect x="269.92" y="232.21" width="4.8" height="4.8" fill="#E0962E"/>
<rect x="282.51" y="233.6" width="4.8" height="4.8" fill="#E0962E"/>
<rect x="295.1" y="229.43" width="4.8" height="4.8" fill="#E0962E"/>
<path d="M45.7 230.84V234.01M43.4 230.84H48M43.4 234.01H48" stroke="#5C3166" stroke-width="0.9" fill="none"/>
<path d="M58.29 229.45V235.4M55.99 229.45H60.59M55.99 235.4H60.59" stroke="#5C3166" stroke-width="0.9" fill="none"/>
<path d="M70.88 222.7V230.64M68.58 222.7H73.18M68.58 230.64H73.18" stroke="#5C3166" stroke-width="0.9" fill="none"/>
<path d="M83.47 227.47V231.43M81.17 227.47H85.77M81.17 231.43H85.77" stroke="#5C3166" stroke-width="0.9" fill="none"/>
<path d="M96.06 229.65V233.62M93.76 229.65H98.36M93.76 233.62H98.36" stroke="#5C3166" stroke-width="0.9" fill="none"/>
<path d="M108.65 228.86V234.81M106.35 228.86H110.95M106.35 234.81H110.95" stroke="#5C3166" stroke-width="0.9" fill="none"/>
<path d="M121.24 230.64V237.78M118.94 230.64H123.54M118.94 237.78H123.54" stroke="#5C3166" stroke-width="0.9" fill="none"/>
<path d="M133.83 233.82V236.99M131.53 233.82H136.13M131.53 236.99H136.13" stroke="#5C3166" stroke-width="0.9" fill="none"/>
<path d="M146.42 228.06V235.2M144.12 228.06H148.72M144.12 235.2H148.72" stroke="#5C3166" stroke-width="0.9" fill="none"/>
<path d="M159.01 231.63V235.6M156.71 231.63H161.31M156.71 235.6H161.31" stroke="#5C3166" stroke-width="0.9" fill="none"/>
<path d="M171.6 231.43V237.78M169.3 231.43H173.9M169.3 237.78H173.9" stroke="#5C3166" stroke-width="0.9" fill="none"/>
<path d="M184.19 238.97V240.96M181.89 238.97H186.49M181.89 240.96H186.49" stroke="#5C3166" stroke-width="0.9" fill="none"/>
<path d="M196.78 230.84V236M194.48 230.84H199.08M194.48 236H199.08" stroke="#5C3166" stroke-width="0.9" fill="none"/>
<path d="M209.37 230.05V236M207.07 230.05H211.67M207.07 236H211.67" stroke="#5C3166" stroke-width="0.9" fill="none"/>
<path d="M221.96 235.8V237.78M219.66 235.8H224.26M219.66 237.78H224.26" stroke="#5C3166" stroke-width="0.9" fill="none"/>
<path d="M234.55 224.29V234.61M232.25 224.29H236.85M232.25 234.61H236.85" stroke="#5C3166" stroke-width="0.9" fill="none"/>
<path d="M247.14 233.22V235.2M244.84 233.22H249.44M244.84 235.2H249.44" stroke="#5C3166" stroke-width="0.9" fill="none"/>
<path d="M259.73 233.02V236.99M257.43 233.02H262.03M257.43 236.99H262.03" stroke="#5C3166" stroke-width="0.9" fill="none"/>
<path d="M272.32 228.06V235.2M270.02 228.06H274.62M270.02 235.2H274.62" stroke="#5C3166" stroke-width="0.9" fill="none"/>
<path d="M284.91 233.62V235.6M282.61 233.62H287.21M282.61 235.6H287.21" stroke="#5C3166" stroke-width="0.9" fill="none"/>
<path d="M297.5 230.44V240.36M295.2 230.44H299.8M295.2 240.36H299.8" stroke="#5C3166" stroke-width="0.9" fill="none"/>
<path d="M45.7 232.43 L58.29 232.43 L70.88 226.67 L83.47 229.45 L96.06 231.63 L108.65 231.83 L121.24 234.21 L133.83 235.4 L146.42 231.63 L159.01 233.62 L171.6 234.61 L184.19 239.97 L196.78 233.42 L209.37 233.02 L221.96 236.79 L234.55 229.45 L247.14 234.21 L259.73 235.01 L272.32 231.63 L284.91 234.61 L297.5 235.4" stroke="#5C3166" stroke-width="1.3" fill="none" stroke-linejoin="round"/>
<polygon points="45.7,229.79 48.34,234.41 43.06,234.41" fill="#5C3166"/>
<polygon points="58.29,229.79 60.93,234.41 55.65,234.41" fill="#5C3166"/>
<polygon points="70.88,224.03 73.52,228.65 68.24,228.65" fill="#5C3166"/>
<polygon points="83.47,226.81 86.11,231.43 80.83,231.43" fill="#5C3166"/>
<polygon points="96.06,228.99 98.7,233.61 93.42,233.61" fill="#5C3166"/>
<polygon points="108.65,229.19 111.29,233.81 106.01,233.81" fill="#5C3166"/>
<polygon points="121.24,231.57 123.88,236.19 118.6,236.19" fill="#5C3166"/>
<polygon points="133.83,232.76 136.47,237.38 131.19,237.38" fill="#5C3166"/>
<polygon points="146.42,228.99 149.06,233.61 143.78,233.61" fill="#5C3166"/>
<polygon points="159.01,230.98 161.65,235.6 156.37,235.6" fill="#5C3166"/>
<polygon points="171.6,231.97 174.24,236.59 168.96,236.59" fill="#5C3166"/>
<polygon points="184.19,237.33 186.83,241.95 181.55,241.95" fill="#5C3166"/>
<polygon points="196.78,230.78 199.42,235.4 194.14,235.4" fill="#5C3166"/>
<polygon points="209.37,230.38 212.01,235 206.73,235" fill="#5C3166"/>
<polygon points="221.96,234.15 224.6,238.77 219.32,238.77" fill="#5C3166"/>
<polygon points="234.55,226.81 237.19,231.43 231.91,231.43" fill="#5C3166"/>
<polygon points="247.14,231.57 249.78,236.19 244.5,236.19" fill="#5C3166"/>
<polygon points="259.73,232.37 262.37,236.99 257.09,236.99" fill="#5C3166"/>
<polygon points="272.32,228.99 274.96,233.61 269.68,233.61" fill="#5C3166"/>
<polygon points="284.91,231.97 287.55,236.59 282.27,236.59" fill="#5C3166"/>
<polygon points="297.5,232.76 300.14,237.38 294.86,237.38" fill="#5C3166"/>
<path d="M45.7 248.3V250.28M43.4 248.3H48M43.4 250.28H48" stroke="#A2283C" stroke-width="0.9" fill="none"/>
<path d="M58.29 249.69V251.67M55.99 249.69H60.59M55.99 251.67H60.59" stroke="#A2283C" stroke-width="0.9" fill="none"/>
<path d="M70.88 240.76V243.93M68.58 240.76H73.18M68.58 243.93H73.18" stroke="#A2283C" stroke-width="0.9" fill="none"/>
<path d="M83.47 240.76V247.5M81.17 240.76H85.77M81.17 247.5H85.77" stroke="#A2283C" stroke-width="0.9" fill="none"/>
<path d="M96.06 246.31V251.47M93.76 246.31H98.36M93.76 251.47H98.36" stroke="#A2283C" stroke-width="0.9" fill="none"/>
<path d="M108.65 233.02V238.97M106.35 233.02H110.95M106.35 238.97H110.95" stroke="#A2283C" stroke-width="0.9" fill="none"/>
<path d="M121.24 241.75V245.72M118.94 241.75H123.54M118.94 245.72H123.54" stroke="#A2283C" stroke-width="0.9" fill="none"/>
<path d="M133.83 241.16V249.09M131.53 241.16H136.13M131.53 249.09H136.13" stroke="#A2283C" stroke-width="0.9" fill="none"/>
<path d="M146.42 235.6V244.73M144.12 235.6H148.72M144.12 244.73H148.72" stroke="#A2283C" stroke-width="0.9" fill="none"/>
<path d="M159.01 239.97V245.92M156.71 239.97H161.31M156.71 245.92H161.31" stroke="#A2283C" stroke-width="0.9" fill="none"/>
<path d="M171.6 249.89V251.87M169.3 249.89H173.9M169.3 251.87H173.9" stroke="#A2283C" stroke-width="0.9" fill="none"/>
<path d="M184.19 250.48V252.46M181.89 250.48H186.49M181.89 252.46H186.49" stroke="#A2283C" stroke-width="0.9" fill="none"/>
<path d="M196.78 248.1V253.26M194.48 248.1H199.08M194.48 253.26H199.08" stroke="#A2283C" stroke-width="0.9" fill="none"/>
<path d="M209.37 251.08V253.06M207.07 251.08H211.67M207.07 253.06H211.67" stroke="#A2283C" stroke-width="0.9" fill="none"/>
<path d="M221.96 254.05V256.04M219.66 254.05H224.26M219.66 256.04H224.26" stroke="#A2283C" stroke-width="0.9" fill="none"/>
<path d="M234.55 249.29V251.27M232.25 249.29H236.85M232.25 251.27H236.85" stroke="#A2283C" stroke-width="0.9" fill="none"/>
<path d="M247.14 245.72V251.27M244.84 245.72H249.44M244.84 251.27H249.44" stroke="#A2283C" stroke-width="0.9" fill="none"/>
<path d="M259.73 251.27V255.24M257.43 251.27H262.03M257.43 255.24H262.03" stroke="#A2283C" stroke-width="0.9" fill="none"/>
<path d="M272.32 249.49V253.46M270.02 249.49H274.62M270.02 253.46H274.62" stroke="#A2283C" stroke-width="0.9" fill="none"/>
<path d="M284.91 255.64V257.62M282.61 255.64H287.21M282.61 257.62H287.21" stroke="#A2283C" stroke-width="0.9" fill="none"/>
<path d="M297.5 245.32V247.31M295.2 245.32H299.8M295.2 247.31H299.8" stroke="#A2283C" stroke-width="0.9" fill="none"/>
<path d="M45.7 249.29 L58.29 250.68 L70.88 242.35 L83.47 244.13 L96.06 248.89 L108.65 236 L121.24 243.74 L133.83 245.12 L146.42 240.16 L159.01 242.94 L171.6 250.88 L184.19 251.47 L196.78 250.68 L209.37 252.07 L221.96 255.04 L234.55 250.28 L247.14 248.5 L259.73 253.26 L272.32 251.47 L284.91 256.63 L297.5 246.31" stroke="#A2283C" stroke-width="1.3" fill="none" stroke-linejoin="round"/>
<circle cx="45.7" cy="249.29" r="2.4" fill="#A2283C"/>
<circle cx="58.29" cy="250.68" r="2.4" fill="#A2283C"/>
<circle cx="70.88" cy="242.35" r="2.4" fill="#A2283C"/>
<circle cx="83.47" cy="244.13" r="2.4" fill="#A2283C"/>
<circle cx="96.06" cy="248.89" r="2.4" fill="#A2283C"/>
<circle cx="108.65" cy="236" r="2.4" fill="#A2283C"/>
<circle cx="121.24" cy="243.74" r="2.4" fill="#A2283C"/>
<circle cx="133.83" cy="245.12" r="2.4" fill="#A2283C"/>
<circle cx="146.42" cy="240.16" r="2.4" fill="#A2283C"/>
<circle cx="159.01" cy="242.94" r="2.4" fill="#A2283C"/>
<circle cx="171.6" cy="250.88" r="2.4" fill="#A2283C"/>
<circle cx="184.19" cy="251.47" r="2.4" fill="#A2283C"/>
<circle cx="196.78" cy="250.68" r="2.4" fill="#A2283C"/>
<circle cx="209.37" cy="252.07" r="2.4" fill="#A2283C"/>
<circle cx="221.96" cy="255.04" r="2.4" fill="#A2283C"/>
<circle cx="234.55" cy="250.28" r="2.4" fill="#A2283C"/>
<circle cx="247.14" cy="248.5" r="2.4" fill="#A2283C"/>
<circle cx="259.73" cy="253.26" r="2.4" fill="#A2283C"/>
<circle cx="272.32" cy="251.47" r="2.4" fill="#A2283C"/>
<circle cx="284.91" cy="256.63" r="2.4" fill="#A2283C"/>
<circle cx="297.5" cy="246.31" r="2.4" fill="#A2283C"/>
<path d="M45.7 249.69V251.67M43.4 249.69H48M43.4 251.67H48" stroke="#6AA8DA" stroke-width="0.9" fill="none"/>
<path d="M58.29 248.3V252.27M55.99 248.3H60.59M55.99 252.27H60.59" stroke="#6AA8DA" stroke-width="0.9" fill="none"/>
<path d="M70.88 249.89V255.44M68.58 249.89H73.18M68.58 255.44H73.18" stroke="#6AA8DA" stroke-width="0.9" fill="none"/>
<path d="M83.47 247.9V253.85M81.17 247.9H85.77M81.17 253.85H85.77" stroke="#6AA8DA" stroke-width="0.9" fill="none"/>
<path d="M96.06 246.12V255.24M93.76 246.12H98.36M93.76 255.24H98.36" stroke="#6AA8DA" stroke-width="0.9" fill="none"/>
<path d="M108.65 247.9V249.89M106.35 247.9H110.95M106.35 249.89H110.95" stroke="#6AA8DA" stroke-width="0.9" fill="none"/>
<path d="M121.24 246.12V250.88M118.94 246.12H123.54M118.94 250.88H123.54" stroke="#6AA8DA" stroke-width="0.9" fill="none"/>
<path d="M133.83 247.7V251.67M131.53 247.7H136.13M131.53 251.67H136.13" stroke="#6AA8DA" stroke-width="0.9" fill="none"/>
<path d="M146.42 248.3V253.06M144.12 248.3H148.72M144.12 253.06H148.72" stroke="#6AA8DA" stroke-width="0.9" fill="none"/>
<path d="M159.01 244.33V249.09M156.71 244.33H161.31M156.71 249.09H161.31" stroke="#6AA8DA" stroke-width="0.9" fill="none"/>
<path d="M171.6 251.87V255.84M169.3 251.87H173.9M169.3 255.84H173.9" stroke="#6AA8DA" stroke-width="0.9" fill="none"/>
<path d="M184.19 250.48V252.46M181.89 250.48H186.49M181.89 252.46H186.49" stroke="#6AA8DA" stroke-width="0.9" fill="none"/>
<path d="M196.78 250.48V268.73M194.48 250.48H199.08M194.48 268.73H199.08" stroke="#6AA8DA" stroke-width="0.9" fill="none"/>
<path d="M209.37 254.05V256.04M207.07 254.05H211.67M207.07 256.04H211.67" stroke="#6AA8DA" stroke-width="0.9" fill="none"/>
<path d="M221.96 249.69V254.85M219.66 249.69H224.26M219.66 254.85H224.26" stroke="#6AA8DA" stroke-width="0.9" fill="none"/>
<path d="M234.55 249.69V251.67M232.25 249.69H236.85M232.25 251.67H236.85" stroke="#6AA8DA" stroke-width="0.9" fill="none"/>
<path d="M247.14 246.91V251.67M244.84 246.91H249.44M244.84 251.67H249.44" stroke="#6AA8DA" stroke-width="0.9" fill="none"/>
<path d="M259.73 249.49V253.46M257.43 249.49H262.03M257.43 253.46H262.03" stroke="#6AA8DA" stroke-width="0.9" fill="none"/>
<path d="M272.32 247.31V252.07M270.02 247.31H274.62M270.02 252.07H274.62" stroke="#6AA8DA" stroke-width="0.9" fill="none"/>
<path d="M284.91 251.08V253.06M282.61 251.08H287.21M282.61 253.06H287.21" stroke="#6AA8DA" stroke-width="0.9" fill="none"/>
<path d="M297.5 241.95V251.87M295.2 241.95H299.8M295.2 251.87H299.8" stroke="#6AA8DA" stroke-width="0.9" fill="none"/>
<path d="M45.7 250.68 L58.29 250.28 L70.88 252.66 L83.47 250.88 L96.06 250.68 L108.65 248.89 L121.24 248.5 L133.83 249.69 L146.42 250.68 L159.01 246.71 L171.6 253.85 L184.19 251.47 L196.78 259.61 L209.37 255.04 L221.96 252.27 L234.55 250.68 L247.14 249.29 L259.73 251.47 L272.32 249.69 L284.91 252.07 L297.5 246.91" stroke="#6AA8DA" stroke-width="1.3" fill="none" stroke-linejoin="round"/>
<polygon points="45.7,247.92 48.46,250.68 45.7,253.44 42.94,250.68" fill="#6AA8DA"/>
<polygon points="58.29,247.52 61.05,250.28 58.29,253.04 55.53,250.28" fill="#6AA8DA"/>
<polygon points="70.88,249.9 73.64,252.66 70.88,255.42 68.12,252.66" fill="#6AA8DA"/>
<polygon points="83.47,248.12 86.23,250.88 83.47,253.64 80.71,250.88" fill="#6AA8DA"/>
<polygon points="96.06,247.92 98.82,250.68 96.06,253.44 93.3,250.68" fill="#6AA8DA"/>
<polygon points="108.65,246.13 111.41,248.89 108.65,251.65 105.89,248.89" fill="#6AA8DA"/>
<polygon points="121.24,245.74 124,248.5 121.24,251.26 118.48,248.5" fill="#6AA8DA"/>
<polygon points="133.83,246.93 136.59,249.69 133.83,252.45 131.07,249.69" fill="#6AA8DA"/>
<polygon points="146.42,247.92 149.18,250.68 146.42,253.44 143.66,250.68" fill="#6AA8DA"/>
<polygon points="159.01,243.95 161.77,246.71 159.01,249.47 156.25,246.71" fill="#6AA8DA"/>
<polygon points="171.6,251.09 174.36,253.85 171.6,256.61 168.84,253.85" fill="#6AA8DA"/>
<polygon points="184.19,248.71 186.95,251.47 184.19,254.23 181.43,251.47" fill="#6AA8DA"/>
<polygon points="196.78,256.85 199.54,259.61 196.78,262.37 194.02,259.61" fill="#6AA8DA"/>
<polygon points="209.37,252.28 212.13,255.04 209.37,257.8 206.61,255.04" fill="#6AA8DA"/>
<polygon points="221.96,249.51 224.72,252.27 221.96,255.03 219.2,252.27" fill="#6AA8DA"/>
<polygon points="234.55,247.92 237.31,250.68 234.55,253.44 231.79,250.68" fill="#6AA8DA"/>
<polygon points="247.14,246.53 249.9,249.29 247.14,252.05 244.38,249.29" fill="#6AA8DA"/>
<polygon points="259.73,248.71 262.49,251.47 259.73,254.23 256.97,251.47" fill="#6AA8DA"/>
<polygon points="272.32,246.93 275.08,249.69 272.32,252.45 269.56,249.69" fill="#6AA8DA"/>
<polygon points="284.91,249.31 287.67,252.07 284.91,254.83 282.15,252.07" fill="#6AA8DA"/>
<polygon points="297.5,244.15 300.26,246.91 297.5,249.67 294.74,246.91" fill="#6AA8DA"/>
<circle cx="108.65" cy="215.1" r="1.15" fill="#A2283C" opacity="0.85"/>
<circle cx="146.42" cy="211.63" r="1.15" fill="#E0962E" opacity="0.85"/>
<path d="M39.5 363.3V465.4H304.2" stroke="#231F20" stroke-width="1.3" fill="none"/>
<path d="M36.2 465.4H39.5" stroke="#231F20" stroke-width="1" fill="none"/>
<text x="32.8" y="468.4" font-size="8.4" text-anchor="end" fill="#231F20" stroke-width="0.12" textLength="4.02" lengthAdjust="spacingAndGlyphs">0</text>
<path d="M36.2 432.55H39.5" stroke="#231F20" stroke-width="1" fill="none"/>
<text x="32.8" y="435.55" font-size="8.4" text-anchor="end" fill="#231F20" stroke-width="0.12" textLength="4.02" lengthAdjust="spacingAndGlyphs">5</text>
<path d="M36.2 399.7H39.5" stroke="#231F20" stroke-width="1" fill="none"/>
<text x="32.8" y="402.7" font-size="8.4" text-anchor="end" fill="#231F20" stroke-width="0.12" textLength="8.03" lengthAdjust="spacingAndGlyphs">10</text>
<path d="M36.2 366.85H39.5" stroke="#231F20" stroke-width="1" fill="none"/>
<text x="32.8" y="369.85" font-size="8.4" text-anchor="end" fill="#231F20" stroke-width="0.12" textLength="8.03" lengthAdjust="spacingAndGlyphs">15</text>
<path d="M45.7 465.4V469" stroke="#231F20" stroke-width="1" fill="none"/>
<text x="48.9" y="476.4" font-size="8.2" text-anchor="end" fill="#231F20" stroke-width="0.14" transform="rotate(-45 48.9 476.4)">BL</text>
<path d="M58.29 465.4V469" stroke="#231F20" stroke-width="1" fill="none"/>
<text x="61.49" y="476.4" font-size="8.2" text-anchor="end" fill="#231F20" stroke-width="0.14" transform="rotate(-45 61.49 476.4)">24h</text>
<path d="M70.88 465.4V469" stroke="#231F20" stroke-width="1" fill="none"/>
<text x="74.08" y="476.4" font-size="8.2" text-anchor="end" fill="#231F20" stroke-width="0.14" transform="rotate(-45 74.08 476.4)">2 wk</text>
<path d="M83.47 465.4V469" stroke="#231F20" stroke-width="1" fill="none"/>
<text x="86.67" y="476.4" font-size="8.2" text-anchor="end" fill="#231F20" stroke-width="0.14" transform="rotate(-45 86.67 476.4)">4 wk</text>
<path d="M96.06 465.4V469" stroke="#231F20" stroke-width="1" fill="none"/>
<text x="99.26" y="476.4" font-size="8.2" text-anchor="end" fill="#231F20" stroke-width="0.14" transform="rotate(-45 99.26 476.4)">6 wk</text>
<path d="M108.65 465.4V469" stroke="#231F20" stroke-width="1" fill="none"/>
<text x="111.85" y="476.4" font-size="8.2" text-anchor="end" fill="#231F20" stroke-width="0.14" transform="rotate(-45 111.85 476.4)">8 wk</text>
<path d="M121.24 465.4V469" stroke="#231F20" stroke-width="1" fill="none"/>
<text x="124.44" y="476.4" font-size="8.2" text-anchor="end" fill="#231F20" stroke-width="0.14" transform="rotate(-45 124.44 476.4)">10 wk</text>
<path d="M133.83 465.4V469" stroke="#231F20" stroke-width="1" fill="none"/>
<text x="137.03" y="476.4" font-size="8.2" text-anchor="end" fill="#231F20" stroke-width="0.14" transform="rotate(-45 137.03 476.4)">12 wk</text>
<path d="M146.42 465.4V469" stroke="#231F20" stroke-width="1" fill="none"/>
<text x="149.62" y="476.4" font-size="8.2" text-anchor="end" fill="#231F20" stroke-width="0.14" transform="rotate(-45 149.62 476.4)">14 wk</text>
<path d="M159.01 465.4V469" stroke="#231F20" stroke-width="1" fill="none"/>
<text x="162.21" y="476.4" font-size="8.2" text-anchor="end" fill="#231F20" stroke-width="0.14" transform="rotate(-45 162.21 476.4)">16 wk</text>
<path d="M171.6 465.4V469" stroke="#231F20" stroke-width="1" fill="none"/>
<text x="174.8" y="476.4" font-size="8.2" text-anchor="end" fill="#231F20" stroke-width="0.14" transform="rotate(-45 174.8 476.4)">18 wk</text>
<path d="M184.19 465.4V469" stroke="#231F20" stroke-width="1" fill="none"/>
<text x="187.39" y="476.4" font-size="8.2" text-anchor="end" fill="#231F20" stroke-width="0.14" transform="rotate(-45 187.39 476.4)">20 wk</text>
<path d="M196.78 465.4V469" stroke="#231F20" stroke-width="1" fill="none"/>
<text x="199.98" y="476.4" font-size="8.2" text-anchor="end" fill="#231F20" stroke-width="0.14" transform="rotate(-45 199.98 476.4)">22 wk</text>
<path d="M209.37 465.4V469" stroke="#231F20" stroke-width="1" fill="none"/>
<text x="212.57" y="476.4" font-size="8.2" text-anchor="end" fill="#231F20" stroke-width="0.14" transform="rotate(-45 212.57 476.4)">24 wk</text>
<path d="M221.96 465.4V469" stroke="#231F20" stroke-width="1" fill="none"/>
<text x="225.16" y="476.4" font-size="8.2" text-anchor="end" fill="#231F20" stroke-width="0.14" transform="rotate(-45 225.16 476.4)">26 wk</text>
<path d="M234.55 465.4V469" stroke="#231F20" stroke-width="1" fill="none"/>
<text x="237.75" y="476.4" font-size="8.2" text-anchor="end" fill="#231F20" stroke-width="0.14" transform="rotate(-45 237.75 476.4)">28 wk</text>
<path d="M247.14 465.4V469" stroke="#231F20" stroke-width="1" fill="none"/>
<text x="250.34" y="476.4" font-size="8.2" text-anchor="end" fill="#231F20" stroke-width="0.14" transform="rotate(-45 250.34 476.4)">30 wk</text>
<path d="M259.73 465.4V469" stroke="#231F20" stroke-width="1" fill="none"/>
<text x="262.93" y="476.4" font-size="8.2" text-anchor="end" fill="#231F20" stroke-width="0.14" transform="rotate(-45 262.93 476.4)">32 wk</text>
<path d="M272.32 465.4V469" stroke="#231F20" stroke-width="1" fill="none"/>
<text x="275.52" y="476.4" font-size="8.2" text-anchor="end" fill="#231F20" stroke-width="0.14" transform="rotate(-45 275.52 476.4)">34 wk</text>
<path d="M284.91 465.4V469" stroke="#231F20" stroke-width="1" fill="none"/>
<text x="288.11" y="476.4" font-size="8.2" text-anchor="end" fill="#231F20" stroke-width="0.14" transform="rotate(-45 288.11 476.4)">36 wk</text>
<path d="M297.5 465.4V469" stroke="#231F20" stroke-width="1" fill="none"/>
<text x="300.7" y="476.4" font-size="8.2" text-anchor="end" fill="#231F20" stroke-width="0.14" transform="rotate(-45 300.7 476.4)">38 wk</text>
<text x="0" y="0" font-size="10.3" text-anchor="middle" fill="#231F20" stroke-width="0.12" textLength="53.7" lengthAdjust="spacingAndGlyphs" transform="translate(16.3 414.6) rotate(-90)">PWL heat (s)</text>
<text x="7.4" y="356" font-size="13.3" text-anchor="start" fill="#231F20" stroke-width="0.05" textLength="8.6" lengthAdjust="spacingAndGlyphs">C</text>
<text x="148.5" y="506.3" font-size="10.6" text-anchor="start" fill="#231F20" stroke-width="0.12" textLength="57.5" lengthAdjust="spacingAndGlyphs">Time (weeks)</text>
<path d="M45.7 436.69V439.32M43.4 436.69H48M43.4 439.32H48" stroke="#E0962E" stroke-width="0.9" fill="none"/>
<path d="M58.29 435.83V438.46M55.99 435.83H60.59M55.99 438.46H60.59" stroke="#E0962E" stroke-width="0.9" fill="none"/>
<path d="M70.88 435.83V438.46M68.58 435.83H73.18M68.58 438.46H73.18" stroke="#E0962E" stroke-width="0.9" fill="none"/>
<path d="M83.47 439.58V442.21M81.17 439.58H85.77M81.17 442.21H85.77" stroke="#E0962E" stroke-width="0.9" fill="none"/>
<path d="M96.06 439.58V442.21M93.76 439.58H98.36M93.76 442.21H98.36" stroke="#E0962E" stroke-width="0.9" fill="none"/>
<path d="M108.65 441.35V443.98M106.35 441.35H110.95M106.35 443.98H110.95" stroke="#E0962E" stroke-width="0.9" fill="none"/>
<path d="M121.24 439.58V442.21M118.94 439.58H123.54M118.94 442.21H123.54" stroke="#E0962E" stroke-width="0.9" fill="none"/>
<path d="M133.83 440.11V442.73M131.53 440.11H136.13M131.53 442.73H136.13" stroke="#E0962E" stroke-width="0.9" fill="none"/>
<path d="M146.42 440.11V442.73M144.12 440.11H148.72M144.12 442.73H148.72" stroke="#E0962E" stroke-width="0.9" fill="none"/>
<path d="M159.01 442.4V445.03M156.71 442.4H161.31M156.71 445.03H161.31" stroke="#E0962E" stroke-width="0.9" fill="none"/>
<path d="M171.6 438.92V441.55M169.3 438.92H173.9M169.3 441.55H173.9" stroke="#E0962E" stroke-width="0.9" fill="none"/>
<path d="M184.19 438.4V441.03M181.89 438.4H186.49M181.89 441.03H186.49" stroke="#E0962E" stroke-width="0.9" fill="none"/>
<path d="M196.78 433.8V437.74M194.48 433.8H199.08M194.48 437.74H199.08" stroke="#E0962E" stroke-width="0.9" fill="none"/>
<path d="M209.37 438.4V441.03M207.07 438.4H211.67M207.07 441.03H211.67" stroke="#E0962E" stroke-width="0.9" fill="none"/>
<path d="M221.96 438.4V441.03M219.66 438.4H224.26M219.66 441.03H224.26" stroke="#E0962E" stroke-width="0.9" fill="none"/>
<path d="M234.55 437.54V440.17M232.25 437.54H236.85M232.25 440.17H236.85" stroke="#E0962E" stroke-width="0.9" fill="none"/>
<path d="M247.14 432.48V439.05M244.84 432.48H249.44M244.84 439.05H249.44" stroke="#E0962E" stroke-width="0.9" fill="none"/>
<path d="M259.73 434.98V437.61M257.43 434.98H262.03M257.43 437.61H262.03" stroke="#E0962E" stroke-width="0.9" fill="none"/>
<path d="M272.32 432.35V434.98M270.02 432.35H274.62M270.02 434.98H274.62" stroke="#E0962E" stroke-width="0.9" fill="none"/>
<path d="M284.91 435.05V438.99M282.61 435.05H287.21M282.61 438.99H287.21" stroke="#E0962E" stroke-width="0.9" fill="none"/>
<path d="M297.5 435.9V439.84M295.2 435.9H299.8M295.2 439.84H299.8" stroke="#E0962E" stroke-width="0.9" fill="none"/>
<path d="M45.7 438 L58.29 437.15 L70.88 437.15 L83.47 440.89 L96.06 440.89 L108.65 442.67 L121.24 440.89 L133.83 441.42 L146.42 441.42 L159.01 443.72 L171.6 440.24 L184.19 439.71 L196.78 435.77 L209.37 439.71 L221.96 439.71 L234.55 438.86 L247.14 435.77 L259.73 436.29 L272.32 433.67 L284.91 437.02 L297.5 437.87" stroke="#E0962E" stroke-width="1.3" fill="none" stroke-linejoin="round"/>
<rect x="43.3" y="435.6" width="4.8" height="4.8" fill="#E0962E"/>
<rect x="55.89" y="434.75" width="4.8" height="4.8" fill="#E0962E"/>
<rect x="68.48" y="434.75" width="4.8" height="4.8" fill="#E0962E"/>
<rect x="81.07" y="438.49" width="4.8" height="4.8" fill="#E0962E"/>
<rect x="93.66" y="438.49" width="4.8" height="4.8" fill="#E0962E"/>
<rect x="106.25" y="440.27" width="4.8" height="4.8" fill="#E0962E"/>
<rect x="118.84" y="438.49" width="4.8" height="4.8" fill="#E0962E"/>
<rect x="131.43" y="439.02" width="4.8" height="4.8" fill="#E0962E"/>
<rect x="144.02" y="439.02" width="4.8" height="4.8" fill="#E0962E"/>
<rect x="156.61" y="441.32" width="4.8" height="4.8" fill="#E0962E"/>
<rect x="169.2" y="437.84" width="4.8" height="4.8" fill="#E0962E"/>
<rect x="181.79" y="437.31" width="4.8" height="4.8" fill="#E0962E"/>
<rect x="194.38" y="433.37" width="4.8" height="4.8" fill="#E0962E"/>
<rect x="206.97" y="437.31" width="4.8" height="4.8" fill="#E0962E"/>
<rect x="219.56" y="437.31" width="4.8" height="4.8" fill="#E0962E"/>
<rect x="232.15" y="436.46" width="4.8" height="4.8" fill="#E0962E"/>
<rect x="244.74" y="433.37" width="4.8" height="4.8" fill="#E0962E"/>
<rect x="257.33" y="433.89" width="4.8" height="4.8" fill="#E0962E"/>
<rect x="269.92" y="431.27" width="4.8" height="4.8" fill="#E0962E"/>
<rect x="282.51" y="434.62" width="4.8" height="4.8" fill="#E0962E"/>
<rect x="295.1" y="435.47" width="4.8" height="4.8" fill="#E0962E"/>
<path d="M45.7 437.54V440.17M43.4 437.54H48M43.4 440.17H48" stroke="#5C3166" stroke-width="0.9" fill="none"/>
<path d="M58.29 436.16V438.79M55.99 436.16H60.59M55.99 438.79H60.59" stroke="#5C3166" stroke-width="0.9" fill="none"/>
<path d="M70.88 437.54V440.17M68.58 437.54H73.18M68.58 440.17H73.18" stroke="#5C3166" stroke-width="0.9" fill="none"/>
<path d="M83.47 436.69V439.32M81.17 436.69H85.77M81.17 439.32H85.77" stroke="#5C3166" stroke-width="0.9" fill="none"/>
<path d="M96.06 436.69V439.32M93.76 436.69H98.36M93.76 439.32H98.36" stroke="#5C3166" stroke-width="0.9" fill="none"/>
<path d="M108.65 427.36V431.3M106.35 427.36H110.95M106.35 431.3H110.95" stroke="#5C3166" stroke-width="0.9" fill="none"/>
<path d="M121.24 433.21V435.83M118.94 433.21H123.54M118.94 435.83H123.54" stroke="#5C3166" stroke-width="0.9" fill="none"/>
<path d="M133.83 434.46V437.08M131.53 434.46H136.13M131.53 437.08H136.13" stroke="#5C3166" stroke-width="0.9" fill="none"/>
<path d="M146.42 435.18V439.12M144.12 435.18H148.72M144.12 439.12H148.72" stroke="#5C3166" stroke-width="0.9" fill="none"/>
<path d="M159.01 437.54V440.17M156.71 437.54H161.31M156.71 440.17H161.31" stroke="#5C3166" stroke-width="0.9" fill="none"/>
<path d="M171.6 439.58V442.21M169.3 439.58H173.9M169.3 442.21H173.9" stroke="#5C3166" stroke-width="0.9" fill="none"/>
<path d="M184.19 438.92V441.55M181.89 438.92H186.49M181.89 441.55H186.49" stroke="#5C3166" stroke-width="0.9" fill="none"/>
<path d="M196.78 440.63V443.26M194.48 440.63H199.08M194.48 443.26H199.08" stroke="#5C3166" stroke-width="0.9" fill="none"/>
<path d="M209.37 435.38V440.63M207.07 435.38H211.67M207.07 440.63H211.67" stroke="#5C3166" stroke-width="0.9" fill="none"/>
<path d="M221.96 433.67V438.92M219.66 433.67H224.26M219.66 438.92H224.26" stroke="#5C3166" stroke-width="0.9" fill="none"/>
<path d="M234.55 438.4V441.03M232.25 438.4H236.85M232.25 441.03H236.85" stroke="#5C3166" stroke-width="0.9" fill="none"/>
<path d="M247.14 440.04V445.3M244.84 440.04H249.44M244.84 445.3H249.44" stroke="#5C3166" stroke-width="0.9" fill="none"/>
<path d="M259.73 436.36V440.3M257.43 436.36H262.03M257.43 440.3H262.03" stroke="#5C3166" stroke-width="0.9" fill="none"/>
<path d="M272.32 432.42V436.36M270.02 432.42H274.62M270.02 436.36H274.62" stroke="#5C3166" stroke-width="0.9" fill="none"/>
<path d="M284.91 432.02V438.59M282.61 432.02H287.21M282.61 438.59H287.21" stroke="#5C3166" stroke-width="0.9" fill="none"/>
<path d="M297.5 439.45V446.02M295.2 439.45H299.8M295.2 446.02H299.8" stroke="#5C3166" stroke-width="0.9" fill="none"/>
<path d="M45.7 438.86 L58.29 437.48 L70.88 438.86 L83.47 438 L96.06 438 L108.65 429.33 L121.24 434.52 L133.83 435.77 L146.42 437.15 L159.01 438.86 L171.6 440.89 L184.19 440.24 L196.78 441.95 L209.37 438 L221.96 436.29 L234.55 439.71 L247.14 442.67 L259.73 438.33 L272.32 434.39 L284.91 435.31 L297.5 442.73" stroke="#5C3166" stroke-width="1.3" fill="none" stroke-linejoin="round"/>
<polygon points="45.7,436.22 48.34,440.84 43.06,440.84" fill="#5C3166"/>
<polygon points="58.29,434.84 60.93,439.46 55.65,439.46" fill="#5C3166"/>
<polygon points="70.88,436.22 73.52,440.84 68.24,440.84" fill="#5C3166"/>
<polygon points="83.47,435.36 86.11,439.98 80.83,439.98" fill="#5C3166"/>
<polygon points="96.06,435.36 98.7,439.98 93.42,439.98" fill="#5C3166"/>
<polygon points="108.65,426.69 111.29,431.31 106.01,431.31" fill="#5C3166"/>
<polygon points="121.24,431.88 123.88,436.5 118.6,436.5" fill="#5C3166"/>
<polygon points="133.83,433.13 136.47,437.75 131.19,437.75" fill="#5C3166"/>
<polygon points="146.42,434.51 149.06,439.13 143.78,439.13" fill="#5C3166"/>
<polygon points="159.01,436.22 161.65,440.84 156.37,440.84" fill="#5C3166"/>
<polygon points="171.6,438.25 174.24,442.87 168.96,442.87" fill="#5C3166"/>
<polygon points="184.19,437.6 186.83,442.22 181.55,442.22" fill="#5C3166"/>
<polygon points="196.78,439.31 199.42,443.93 194.14,443.93" fill="#5C3166"/>
<polygon points="209.37,435.36 212.01,439.98 206.73,439.98" fill="#5C3166"/>
<polygon points="221.96,433.65 224.6,438.27 219.32,438.27" fill="#5C3166"/>
<polygon points="234.55,437.07 237.19,441.69 231.91,441.69" fill="#5C3166"/>
<polygon points="247.14,440.03 249.78,444.65 244.5,444.65" fill="#5C3166"/>
<polygon points="259.73,435.69 262.37,440.31 257.09,440.31" fill="#5C3166"/>
<polygon points="272.32,431.75 274.96,436.37 269.68,436.37" fill="#5C3166"/>
<polygon points="284.91,432.67 287.55,437.29 282.27,437.29" fill="#5C3166"/>
<polygon points="297.5,440.09 300.14,444.71 294.86,444.71" fill="#5C3166"/>
<path d="M45.7 421.12V423.75M43.4 421.12H48M43.4 423.75H48" stroke="#A2283C" stroke-width="0.9" fill="none"/>
<path d="M58.29 420.59V423.22M55.99 420.59H60.59M55.99 423.22H60.59" stroke="#A2283C" stroke-width="0.9" fill="none"/>
<path d="M70.88 420.26V422.89M68.58 420.26H73.18M68.58 422.89H73.18" stroke="#A2283C" stroke-width="0.9" fill="none"/>
<path d="M83.47 422.83V425.45M81.17 422.83H85.77M81.17 425.45H85.77" stroke="#A2283C" stroke-width="0.9" fill="none"/>
<path d="M96.06 428.61V432.55M93.76 428.61H98.36M93.76 432.55H98.36" stroke="#A2283C" stroke-width="0.9" fill="none"/>
<path d="M108.65 425.52V430.78M106.35 425.52H110.95M106.35 430.78H110.95" stroke="#A2283C" stroke-width="0.9" fill="none"/>
<path d="M121.24 430.84V434.78M118.94 430.84H123.54M118.94 434.78H123.54" stroke="#A2283C" stroke-width="0.9" fill="none"/>
<path d="M133.83 433.08V437.02M131.53 433.08H136.13M131.53 437.02H136.13" stroke="#A2283C" stroke-width="0.9" fill="none"/>
<path d="M146.42 427.36V431.3M144.12 427.36H148.72M144.12 431.3H148.72" stroke="#A2283C" stroke-width="0.9" fill="none"/>
<path d="M159.01 427.89V431.83M156.71 427.89H161.31M156.71 431.83H161.31" stroke="#A2283C" stroke-width="0.9" fill="none"/>
<path d="M171.6 427.16V429.79M169.3 427.16H173.9M169.3 429.79H173.9" stroke="#A2283C" stroke-width="0.9" fill="none"/>
<path d="M184.19 425.06V427.69M181.89 425.06H186.49M181.89 427.69H186.49" stroke="#A2283C" stroke-width="0.9" fill="none"/>
<path d="M196.78 418.88V429.4M194.48 418.88H199.08M194.48 429.4H199.08" stroke="#A2283C" stroke-width="0.9" fill="none"/>
<path d="M209.37 424.8V428.74M207.07 424.8H211.67M207.07 428.74H211.67" stroke="#A2283C" stroke-width="0.9" fill="none"/>
<path d="M221.96 423.35V427.29M219.66 423.35H224.26M219.66 427.29H224.26" stroke="#A2283C" stroke-width="0.9" fill="none"/>
<path d="M234.55 419.61V423.55M232.25 419.61H236.85M232.25 423.55H236.85" stroke="#A2283C" stroke-width="0.9" fill="none"/>
<path d="M247.14 414.09V419.34M244.84 414.09H249.44M244.84 419.34H249.44" stroke="#A2283C" stroke-width="0.9" fill="none"/>
<path d="M259.73 419.94V423.88M257.43 419.94H262.03M257.43 423.88H262.03" stroke="#A2283C" stroke-width="0.9" fill="none"/>
<path d="M272.32 416.91V423.48M270.02 416.91H274.62M270.02 423.48H274.62" stroke="#A2283C" stroke-width="0.9" fill="none"/>
<path d="M284.91 414.48V419.74M282.61 414.48H287.21M282.61 419.74H287.21" stroke="#A2283C" stroke-width="0.9" fill="none"/>
<path d="M297.5 407.06V425.45M295.2 407.06H299.8M295.2 425.45H299.8" stroke="#A2283C" stroke-width="0.9" fill="none"/>
<path d="M45.7 422.43 L58.29 421.91 L70.88 421.58 L83.47 424.14 L96.06 430.58 L108.65 428.15 L121.24 432.81 L133.83 435.05 L146.42 429.33 L159.01 429.86 L171.6 428.48 L184.19 426.37 L196.78 424.14 L209.37 426.77 L221.96 425.32 L234.55 421.58 L247.14 416.72 L259.73 421.91 L272.32 420.2 L284.91 417.11 L297.5 416.26" stroke="#A2283C" stroke-width="1.3" fill="none" stroke-linejoin="round"/>
<circle cx="45.7" cy="422.43" r="2.4" fill="#A2283C"/>
<circle cx="58.29" cy="421.91" r="2.4" fill="#A2283C"/>
<circle cx="70.88" cy="421.58" r="2.4" fill="#A2283C"/>
<circle cx="83.47" cy="424.14" r="2.4" fill="#A2283C"/>
<circle cx="96.06" cy="430.58" r="2.4" fill="#A2283C"/>
<circle cx="108.65" cy="428.15" r="2.4" fill="#A2283C"/>
<circle cx="121.24" cy="432.81" r="2.4" fill="#A2283C"/>
<circle cx="133.83" cy="435.05" r="2.4" fill="#A2283C"/>
<circle cx="146.42" cy="429.33" r="2.4" fill="#A2283C"/>
<circle cx="159.01" cy="429.86" r="2.4" fill="#A2283C"/>
<circle cx="171.6" cy="428.48" r="2.4" fill="#A2283C"/>
<circle cx="184.19" cy="426.37" r="2.4" fill="#A2283C"/>
<circle cx="196.78" cy="424.14" r="2.4" fill="#A2283C"/>
<circle cx="209.37" cy="426.77" r="2.4" fill="#A2283C"/>
<circle cx="221.96" cy="425.32" r="2.4" fill="#A2283C"/>
<circle cx="234.55" cy="421.58" r="2.4" fill="#A2283C"/>
<circle cx="247.14" cy="416.72" r="2.4" fill="#A2283C"/>
<circle cx="259.73" cy="421.91" r="2.4" fill="#A2283C"/>
<circle cx="272.32" cy="420.2" r="2.4" fill="#A2283C"/>
<circle cx="284.91" cy="417.11" r="2.4" fill="#A2283C"/>
<circle cx="297.5" cy="416.26" r="2.4" fill="#A2283C"/>
<path d="M45.7 421.12V423.75M43.4 421.12H48M43.4 423.75H48" stroke="#6AA8DA" stroke-width="0.9" fill="none"/>
<path d="M58.29 423.35V425.98M55.99 423.35H60.59M55.99 425.98H60.59" stroke="#6AA8DA" stroke-width="0.9" fill="none"/>
<path d="M70.88 423.35V425.98M68.58 423.35H73.18M68.58 425.98H73.18" stroke="#6AA8DA" stroke-width="0.9" fill="none"/>
<path d="M83.47 422.69V426.64M81.17 422.69H85.77M81.17 426.64H85.77" stroke="#6AA8DA" stroke-width="0.9" fill="none"/>
<path d="M96.06 424.8V428.74M93.76 424.8H98.36M93.76 428.74H98.36" stroke="#6AA8DA" stroke-width="0.9" fill="none"/>
<path d="M108.65 423.22V428.48M106.35 423.22H110.95M106.35 428.48H110.95" stroke="#6AA8DA" stroke-width="0.9" fill="none"/>
<path d="M121.24 428.61V432.55M118.94 428.61H123.54M118.94 432.55H123.54" stroke="#6AA8DA" stroke-width="0.9" fill="none"/>
<path d="M133.83 428.28V434.85M131.53 428.28H136.13M131.53 434.85H136.13" stroke="#6AA8DA" stroke-width="0.9" fill="none"/>
<path d="M146.42 423.88V427.82M144.12 423.88H148.72M144.12 427.82H148.72" stroke="#6AA8DA" stroke-width="0.9" fill="none"/>
<path d="M159.01 424.8V428.74M156.71 424.8H161.31M156.71 428.74H161.31" stroke="#6AA8DA" stroke-width="0.9" fill="none"/>
<path d="M171.6 429.59V433.54M169.3 429.59H173.9M169.3 433.54H173.9" stroke="#6AA8DA" stroke-width="0.9" fill="none"/>
<path d="M184.19 424.4V428.35M181.89 424.4H186.49M181.89 428.35H186.49" stroke="#6AA8DA" stroke-width="0.9" fill="none"/>
<path d="M196.78 433.14V438.4M194.48 433.14H199.08M194.48 438.4H199.08" stroke="#6AA8DA" stroke-width="0.9" fill="none"/>
<path d="M209.37 420V426.57M207.07 420H211.67M207.07 426.57H211.67" stroke="#6AA8DA" stroke-width="0.9" fill="none"/>
<path d="M221.96 421.84V427.1M219.66 421.84H224.26M219.66 427.1H224.26" stroke="#6AA8DA" stroke-width="0.9" fill="none"/>
<path d="M234.55 422.5V426.44M232.25 422.5H236.85M232.25 426.44H236.85" stroke="#6AA8DA" stroke-width="0.9" fill="none"/>
<path d="M247.14 407.78V424.86M244.84 407.78H249.44M244.84 424.86H249.44" stroke="#6AA8DA" stroke-width="0.9" fill="none"/>
<path d="M259.73 405.28V411.85M257.43 405.28H262.03M257.43 411.85H262.03" stroke="#6AA8DA" stroke-width="0.9" fill="none"/>
<path d="M272.32 406.93V413.5M270.02 406.93H274.62M270.02 413.5H274.62" stroke="#6AA8DA" stroke-width="0.9" fill="none"/>
<path d="M284.91 407.19V412.45M282.61 407.19H287.21M282.61 412.45H287.21" stroke="#6AA8DA" stroke-width="0.9" fill="none"/>
<path d="M297.5 388.14V405.22M295.2 388.14H299.8M295.2 405.22H299.8" stroke="#6AA8DA" stroke-width="0.9" fill="none"/>
<path d="M45.7 422.43 L58.29 424.67 L70.88 424.67 L83.47 424.67 L96.06 426.77 L108.65 425.85 L121.24 430.58 L133.83 431.56 L146.42 425.85 L159.01 426.77 L171.6 431.56 L184.19 426.37 L196.78 435.77 L209.37 423.29 L221.96 424.47 L234.55 424.47 L247.14 416.32 L259.73 408.57 L272.32 410.21 L284.91 409.82 L297.5 396.68" stroke="#6AA8DA" stroke-width="1.3" fill="none" stroke-linejoin="round"/>
<polygon points="45.7,419.67 48.46,422.43 45.7,425.19 42.94,422.43" fill="#6AA8DA"/>
<polygon points="58.29,421.91 61.05,424.67 58.29,427.43 55.53,424.67" fill="#6AA8DA"/>
<polygon points="70.88,421.91 73.64,424.67 70.88,427.43 68.12,424.67" fill="#6AA8DA"/>
<polygon points="83.47,421.91 86.23,424.67 83.47,427.43 80.71,424.67" fill="#6AA8DA"/>
<polygon points="96.06,424.01 98.82,426.77 96.06,429.53 93.3,426.77" fill="#6AA8DA"/>
<polygon points="108.65,423.09 111.41,425.85 108.65,428.61 105.89,425.85" fill="#6AA8DA"/>
<polygon points="121.24,427.82 124,430.58 121.24,433.34 118.48,430.58" fill="#6AA8DA"/>
<polygon points="133.83,428.8 136.59,431.56 133.83,434.32 131.07,431.56" fill="#6AA8DA"/>
<polygon points="146.42,423.09 149.18,425.85 146.42,428.61 143.66,425.85" fill="#6AA8DA"/>
<polygon points="159.01,424.01 161.77,426.77 159.01,429.53 156.25,426.77" fill="#6AA8DA"/>
<polygon points="171.6,428.8 174.36,431.56 171.6,434.32 168.84,431.56" fill="#6AA8DA"/>
<polygon points="184.19,423.61 186.95,426.37 184.19,429.13 181.43,426.37" fill="#6AA8DA"/>
<polygon points="196.78,433.01 199.54,435.77 196.78,438.53 194.02,435.77" fill="#6AA8DA"/>
<polygon points="209.37,420.53 212.13,423.29 209.37,426.05 206.61,423.29" fill="#6AA8DA"/>
<polygon points="221.96,421.71 224.72,424.47 221.96,427.23 219.2,424.47" fill="#6AA8DA"/>
<polygon points="234.55,421.71 237.31,424.47 234.55,427.23 231.79,424.47" fill="#6AA8DA"/>
<polygon points="247.14,413.56 249.9,416.32 247.14,419.08 244.38,416.32" fill="#6AA8DA"/>
<polygon points="259.73,405.81 262.49,408.57 259.73,411.33 256.97,408.57" fill="#6AA8DA"/>
<polygon points="272.32,407.45 275.08,410.21 272.32,412.97 269.56,410.21" fill="#6AA8DA"/>
<polygon points="284.91,407.06 287.67,409.82 284.91,412.58 282.15,409.82" fill="#6AA8DA"/>
<polygon points="297.5,393.92 300.26,396.68 297.5,399.44 294.74,396.68" fill="#6AA8DA"/>
<circle cx="133.83" cy="417.21" r="1.15" fill="#6AA8DA" opacity="0.85"/>
<circle cx="133.83" cy="423.27" r="1.15" fill="#A2283C" opacity="0.85"/>
<circle cx="256.33" cy="401.19" r="1.15" fill="#6AA8DA" opacity="0.85"/>
<circle cx="259.73" cy="401.19" r="1.15" fill="#6AA8DA" opacity="0.85"/>
<circle cx="263.13" cy="401.19" r="1.15" fill="#6AA8DA" opacity="0.85"/>
<circle cx="270.62" cy="402.92" r="1.15" fill="#6AA8DA" opacity="0.85"/>
<circle cx="274.02" cy="402.92" r="1.15" fill="#6AA8DA" opacity="0.85"/>
<circle cx="283.21" cy="402.4" r="1.15" fill="#6AA8DA" opacity="0.85"/>
<circle cx="286.61" cy="402.4" r="1.15" fill="#6AA8DA" opacity="0.85"/>
<circle cx="292.4" cy="383.88" r="1.15" fill="#6AA8DA" opacity="0.85"/>
<circle cx="295.8" cy="383.88" r="1.15" fill="#6AA8DA" opacity="0.85"/>
<circle cx="299.2" cy="383.88" r="1.15" fill="#6AA8DA" opacity="0.85"/>
<circle cx="302.6" cy="383.88" r="1.15" fill="#6AA8DA" opacity="0.85"/>
<path d="M39.5 532V633.7H304.2" stroke="#231F20" stroke-width="1.3" fill="none"/>
<path d="M36.2 633.9H39.5" stroke="#231F20" stroke-width="1" fill="none"/>
<text x="32.8" y="636.9" font-size="8.4" text-anchor="end" fill="#231F20" stroke-width="0.12" textLength="4.02" lengthAdjust="spacingAndGlyphs">3</text>
<path d="M36.2 609.25H39.5" stroke="#231F20" stroke-width="1" fill="none"/>
<text x="32.8" y="612.25" font-size="8.4" text-anchor="end" fill="#231F20" stroke-width="0.12" textLength="4.02" lengthAdjust="spacingAndGlyphs">4</text>
<path d="M36.2 584.6H39.5" stroke="#231F20" stroke-width="1" fill="none"/>
<text x="32.8" y="587.6" font-size="8.4" text-anchor="end" fill="#231F20" stroke-width="0.12" textLength="4.02" lengthAdjust="spacingAndGlyphs">5</text>
<path d="M36.2 559.95H39.5" stroke="#231F20" stroke-width="1" fill="none"/>
<text x="32.8" y="562.95" font-size="8.4" text-anchor="end" fill="#231F20" stroke-width="0.12" textLength="4.02" lengthAdjust="spacingAndGlyphs">6</text>
<path d="M36.2 535.3H39.5" stroke="#231F20" stroke-width="1" fill="none"/>
<text x="32.8" y="538.3" font-size="8.4" text-anchor="end" fill="#231F20" stroke-width="0.12" textLength="4.02" lengthAdjust="spacingAndGlyphs">7</text>
<path d="M45.7 633.7V637.3" stroke="#231F20" stroke-width="1" fill="none"/>
<text x="48.9" y="644.7" font-size="8.2" text-anchor="end" fill="#231F20" stroke-width="0.14" transform="rotate(-45 48.9 644.7)">BL</text>
<path d="M58.29 633.7V637.3" stroke="#231F20" stroke-width="1" fill="none"/>
<text x="61.49" y="644.7" font-size="8.2" text-anchor="end" fill="#231F20" stroke-width="0.14" transform="rotate(-45 61.49 644.7)">24h</text>
<path d="M70.88 633.7V637.3" stroke="#231F20" stroke-width="1" fill="none"/>
<text x="74.08" y="644.7" font-size="8.2" text-anchor="end" fill="#231F20" stroke-width="0.14" transform="rotate(-45 74.08 644.7)">2 wk</text>
<path d="M83.47 633.7V637.3" stroke="#231F20" stroke-width="1" fill="none"/>
<text x="86.67" y="644.7" font-size="8.2" text-anchor="end" fill="#231F20" stroke-width="0.14" transform="rotate(-45 86.67 644.7)">4 wk</text>
<path d="M96.06 633.7V637.3" stroke="#231F20" stroke-width="1" fill="none"/>
<text x="99.26" y="644.7" font-size="8.2" text-anchor="end" fill="#231F20" stroke-width="0.14" transform="rotate(-45 99.26 644.7)">6 wk</text>
<path d="M108.65 633.7V637.3" stroke="#231F20" stroke-width="1" fill="none"/>
<text x="111.85" y="644.7" font-size="8.2" text-anchor="end" fill="#231F20" stroke-width="0.14" transform="rotate(-45 111.85 644.7)">8 wk</text>
<path d="M121.24 633.7V637.3" stroke="#231F20" stroke-width="1" fill="none"/>
<text x="124.44" y="644.7" font-size="8.2" text-anchor="end" fill="#231F20" stroke-width="0.14" transform="rotate(-45 124.44 644.7)">10 wk</text>
<path d="M133.83 633.7V637.3" stroke="#231F20" stroke-width="1" fill="none"/>
<text x="137.03" y="644.7" font-size="8.2" text-anchor="end" fill="#231F20" stroke-width="0.14" transform="rotate(-45 137.03 644.7)">12 wk</text>
<path d="M146.42 633.7V637.3" stroke="#231F20" stroke-width="1" fill="none"/>
<text x="149.62" y="644.7" font-size="8.2" text-anchor="end" fill="#231F20" stroke-width="0.14" transform="rotate(-45 149.62 644.7)">14 wk</text>
<path d="M159.01 633.7V637.3" stroke="#231F20" stroke-width="1" fill="none"/>
<text x="162.21" y="644.7" font-size="8.2" text-anchor="end" fill="#231F20" stroke-width="0.14" transform="rotate(-45 162.21 644.7)">16 wk</text>
<path d="M171.6 633.7V637.3" stroke="#231F20" stroke-width="1" fill="none"/>
<text x="174.8" y="644.7" font-size="8.2" text-anchor="end" fill="#231F20" stroke-width="0.14" transform="rotate(-45 174.8 644.7)">18 wk</text>
<path d="M184.19 633.7V637.3" stroke="#231F20" stroke-width="1" fill="none"/>
<text x="187.39" y="644.7" font-size="8.2" text-anchor="end" fill="#231F20" stroke-width="0.14" transform="rotate(-45 187.39 644.7)">20 wk</text>
<path d="M196.78 633.7V637.3" stroke="#231F20" stroke-width="1" fill="none"/>
<text x="199.98" y="644.7" font-size="8.2" text-anchor="end" fill="#231F20" stroke-width="0.14" transform="rotate(-45 199.98 644.7)">22 wk</text>
<path d="M209.37 633.7V637.3" stroke="#231F20" stroke-width="1" fill="none"/>
<text x="212.57" y="644.7" font-size="8.2" text-anchor="end" fill="#231F20" stroke-width="0.14" transform="rotate(-45 212.57 644.7)">24 wk</text>
<path d="M221.96 633.7V637.3" stroke="#231F20" stroke-width="1" fill="none"/>
<text x="225.16" y="644.7" font-size="8.2" text-anchor="end" fill="#231F20" stroke-width="0.14" transform="rotate(-45 225.16 644.7)">26 wk</text>
<path d="M234.55 633.7V637.3" stroke="#231F20" stroke-width="1" fill="none"/>
<text x="237.75" y="644.7" font-size="8.2" text-anchor="end" fill="#231F20" stroke-width="0.14" transform="rotate(-45 237.75 644.7)">28 wk</text>
<path d="M247.14 633.7V637.3" stroke="#231F20" stroke-width="1" fill="none"/>
<text x="250.34" y="644.7" font-size="8.2" text-anchor="end" fill="#231F20" stroke-width="0.14" transform="rotate(-45 250.34 644.7)">30 wk</text>
<path d="M259.73 633.7V637.3" stroke="#231F20" stroke-width="1" fill="none"/>
<text x="262.93" y="644.7" font-size="8.2" text-anchor="end" fill="#231F20" stroke-width="0.14" transform="rotate(-45 262.93 644.7)">32 wk</text>
<path d="M272.32 633.7V637.3" stroke="#231F20" stroke-width="1" fill="none"/>
<text x="275.52" y="644.7" font-size="8.2" text-anchor="end" fill="#231F20" stroke-width="0.14" transform="rotate(-45 275.52 644.7)">34 wk</text>
<path d="M284.91 633.7V637.3" stroke="#231F20" stroke-width="1" fill="none"/>
<text x="288.11" y="644.7" font-size="8.2" text-anchor="end" fill="#231F20" stroke-width="0.14" transform="rotate(-45 288.11 644.7)">36 wk</text>
<path d="M297.5 633.7V637.3" stroke="#231F20" stroke-width="1" fill="none"/>
<text x="300.7" y="644.7" font-size="8.2" text-anchor="end" fill="#231F20" stroke-width="0.14" transform="rotate(-45 300.7 644.7)">38 wk</text>
<text x="0" y="0" font-size="10.3" text-anchor="middle" fill="#231F20" stroke-width="0.12" textLength="123.7" lengthAdjust="spacingAndGlyphs" transform="translate(22 582.6) rotate(-90)">Grip force (g/g body weight)</text>
<text x="7.2" y="523.3" font-size="13.3" text-anchor="start" fill="#231F20" stroke-width="0.05" textLength="9.4" lengthAdjust="spacingAndGlyphs">D</text>
<text x="148.5" y="674.6" font-size="10.6" text-anchor="start" fill="#231F20" stroke-width="0.12" textLength="57.5" lengthAdjust="spacingAndGlyphs">Time (weeks)</text>
<path d="M45.7 585.59V590.52M43.4 585.59H48M43.4 590.52H48" stroke="#E0962E" stroke-width="0.9" fill="none"/>
<path d="M58.29 588.3V592.24M55.99 588.3H60.59M55.99 592.24H60.59" stroke="#E0962E" stroke-width="0.9" fill="none"/>
<path d="M70.88 584.35V591.75M68.58 584.35H73.18M68.58 591.75H73.18" stroke="#E0962E" stroke-width="0.9" fill="none"/>
<path d="M83.47 589.53V594.46M81.17 589.53H85.77M81.17 594.46H85.77" stroke="#E0962E" stroke-width="0.9" fill="none"/>
<path d="M96.06 594.95V599.88M93.76 594.95H98.36M93.76 599.88H98.36" stroke="#E0962E" stroke-width="0.9" fill="none"/>
<path d="M108.65 594.71V598.65M106.35 594.71H110.95M106.35 598.65H110.95" stroke="#E0962E" stroke-width="0.9" fill="none"/>
<path d="M121.24 596.43V603.83M118.94 596.43H123.54M118.94 603.83H123.54" stroke="#E0962E" stroke-width="0.9" fill="none"/>
<path d="M133.83 590.76V596.68M131.53 590.76H136.13M131.53 596.68H136.13" stroke="#E0962E" stroke-width="0.9" fill="none"/>
<path d="M146.42 608.02V611.96M144.12 608.02H148.72M144.12 611.96H148.72" stroke="#E0962E" stroke-width="0.9" fill="none"/>
<path d="M159.01 578.44V590.76M156.71 578.44H161.31M156.71 590.76H161.31" stroke="#E0962E" stroke-width="0.9" fill="none"/>
<path d="M171.6 596.43V603.83M169.3 596.43H173.9M169.3 603.83H173.9" stroke="#E0962E" stroke-width="0.9" fill="none"/>
<path d="M184.19 596.43V605.31M181.89 596.43H186.49M181.89 605.31H186.49" stroke="#E0962E" stroke-width="0.9" fill="none"/>
<path d="M196.78 592.98V596.92M194.48 592.98H199.08M194.48 596.92H199.08" stroke="#E0962E" stroke-width="0.9" fill="none"/>
<path d="M209.37 590.52V600.38M207.07 590.52H211.67M207.07 600.38H211.67" stroke="#E0962E" stroke-width="0.9" fill="none"/>
<path d="M221.96 598.65V608.51M219.66 598.65H224.26M219.66 608.51H224.26" stroke="#E0962E" stroke-width="0.9" fill="none"/>
<path d="M234.55 583.86V593.72M232.25 583.86H236.85M232.25 593.72H236.85" stroke="#E0962E" stroke-width="0.9" fill="none"/>
<path d="M247.14 587.8V595.2M244.84 587.8H249.44M244.84 595.2H249.44" stroke="#E0962E" stroke-width="0.9" fill="none"/>
<path d="M259.73 592.98V596.92M257.43 592.98H262.03M257.43 596.92H262.03" stroke="#E0962E" stroke-width="0.9" fill="none"/>
<path d="M272.32 601.61V605.55M270.02 601.61H274.62M270.02 605.55H274.62" stroke="#E0962E" stroke-width="0.9" fill="none"/>
<path d="M284.91 596.43V600.38M282.61 596.43H287.21M282.61 600.38H287.21" stroke="#E0962E" stroke-width="0.9" fill="none"/>
<path d="M297.5 584.35V606.54M295.2 584.35H299.8M295.2 606.54H299.8" stroke="#E0962E" stroke-width="0.9" fill="none"/>
<path d="M45.7 588.05 L58.29 590.27 L70.88 588.05 L83.47 592 L96.06 597.42 L108.65 596.68 L121.24 600.13 L133.83 593.72 L146.42 609.99 L159.01 584.6 L171.6 600.13 L184.19 600.87 L196.78 594.95 L209.37 595.45 L221.96 603.58 L234.55 588.79 L247.14 591.5 L259.73 594.95 L272.32 603.58 L284.91 598.4 L297.5 595.45" stroke="#E0962E" stroke-width="1.3" fill="none" stroke-linejoin="round"/>
<rect x="43.3" y="585.65" width="4.8" height="4.8" fill="#E0962E"/>
<rect x="55.89" y="587.87" width="4.8" height="4.8" fill="#E0962E"/>
<rect x="68.48" y="585.65" width="4.8" height="4.8" fill="#E0962E"/>
<rect x="81.07" y="589.6" width="4.8" height="4.8" fill="#E0962E"/>
<rect x="93.66" y="595.02" width="4.8" height="4.8" fill="#E0962E"/>
<rect x="106.25" y="594.28" width="4.8" height="4.8" fill="#E0962E"/>
<rect x="118.84" y="597.73" width="4.8" height="4.8" fill="#E0962E"/>
<rect x="131.43" y="591.32" width="4.8" height="4.8" fill="#E0962E"/>
<rect x="144.02" y="607.59" width="4.8" height="4.8" fill="#E0962E"/>
<rect x="156.61" y="582.2" width="4.8" height="4.8" fill="#E0962E"/>
<rect x="169.2" y="597.73" width="4.8" height="4.8" fill="#E0962E"/>
<rect x="181.79" y="598.47" width="4.8" height="4.8" fill="#E0962E"/>
<rect x="194.38" y="592.55" width="4.8" height="4.8" fill="#E0962E"/>
<rect x="206.97" y="593.05" width="4.8" height="4.8" fill="#E0962E"/>
<rect x="219.56" y="601.18" width="4.8" height="4.8" fill="#E0962E"/>
<rect x="232.15" y="586.39" width="4.8" height="4.8" fill="#E0962E"/>
<rect x="244.74" y="589.1" width="4.8" height="4.8" fill="#E0962E"/>
<rect x="257.33" y="592.55" width="4.8" height="4.8" fill="#E0962E"/>
<rect x="269.92" y="601.18" width="4.8" height="4.8" fill="#E0962E"/>
<rect x="282.51" y="596" width="4.8" height="4.8" fill="#E0962E"/>
<rect x="295.1" y="593.05" width="4.8" height="4.8" fill="#E0962E"/>
<path d="M45.7 588.05V592.98M43.4 588.05H48M43.4 592.98H48" stroke="#5C3166" stroke-width="0.9" fill="none"/>
<path d="M58.29 592V597.91M55.99 592H60.59M55.99 597.91H60.59" stroke="#5C3166" stroke-width="0.9" fill="none"/>
<path d="M70.88 582.63V595.94M68.58 582.63H73.18M68.58 595.94H73.18" stroke="#5C3166" stroke-width="0.9" fill="none"/>
<path d="M83.47 586.82V592.73M81.17 586.82H85.77M81.17 592.73H85.77" stroke="#5C3166" stroke-width="0.9" fill="none"/>
<path d="M96.06 587.8V595.2M93.76 587.8H98.36M93.76 595.2H98.36" stroke="#5C3166" stroke-width="0.9" fill="none"/>
<path d="M108.65 594.71V604.57M106.35 594.71H110.95M106.35 604.57H110.95" stroke="#5C3166" stroke-width="0.9" fill="none"/>
<path d="M121.24 591.26V599.64M118.94 591.26H123.54M118.94 599.64H123.54" stroke="#5C3166" stroke-width="0.9" fill="none"/>
<path d="M133.83 595.2V605.06M131.53 595.2H136.13M131.53 605.06H136.13" stroke="#5C3166" stroke-width="0.9" fill="none"/>
<path d="M146.42 594.95V609.74M144.12 594.95H148.72M144.12 609.74H148.72" stroke="#5C3166" stroke-width="0.9" fill="none"/>
<path d="M159.01 599.39V609.25M156.71 599.39H161.31M156.71 609.25H161.31" stroke="#5C3166" stroke-width="0.9" fill="none"/>
<path d="M171.6 595.45V602.84M169.3 595.45H173.9M169.3 602.84H173.9" stroke="#5C3166" stroke-width="0.9" fill="none"/>
<path d="M184.19 607.77V622.56M181.89 607.77H186.49M181.89 622.56H186.49" stroke="#5C3166" stroke-width="0.9" fill="none"/>
<path d="M196.78 599.88V613.19M194.48 599.88H199.08M194.48 613.19H199.08" stroke="#5C3166" stroke-width="0.9" fill="none"/>
<path d="M209.37 599.14V611.47M207.07 599.14H211.67M207.07 611.47H211.67" stroke="#5C3166" stroke-width="0.9" fill="none"/>
<path d="M221.96 605.06V614.92M219.66 605.06H224.26M219.66 614.92H224.26" stroke="#5C3166" stroke-width="0.9" fill="none"/>
<path d="M234.55 595.69V608.02M232.25 595.69H236.85M232.25 608.02H236.85" stroke="#5C3166" stroke-width="0.9" fill="none"/>
<path d="M247.14 600.13V609.99M244.84 600.13H249.44M244.84 609.99H249.44" stroke="#5C3166" stroke-width="0.9" fill="none"/>
<path d="M259.73 600.13V609.99M257.43 600.13H262.03M257.43 609.99H262.03" stroke="#5C3166" stroke-width="0.9" fill="none"/>
<path d="M272.32 602.1V611.96M270.02 602.1H274.62M270.02 611.96H274.62" stroke="#5C3166" stroke-width="0.9" fill="none"/>
<path d="M284.91 597.42V604.81M282.61 597.42H287.21M282.61 604.81H287.21" stroke="#5C3166" stroke-width="0.9" fill="none"/>
<path d="M45.7 590.52 L58.29 594.95 L70.88 589.28 L83.47 589.78 L96.06 591.5 L108.65 599.64 L121.24 595.45 L133.83 600.13 L146.42 602.35 L159.01 604.32 L171.6 599.14 L184.19 615.17 L196.78 606.54 L209.37 605.31 L221.96 609.99 L234.55 601.86 L247.14 605.06 L259.73 605.06 L272.32 607.03 L284.91 601.12 L297.5 615.66" stroke="#5C3166" stroke-width="1.3" fill="none" stroke-linejoin="round"/>
<polygon points="45.7,587.88 48.34,592.5 43.06,592.5" fill="#5C3166"/>
<polygon points="58.29,592.31 60.93,596.93 55.65,596.93" fill="#5C3166"/>
<polygon points="70.88,586.64 73.52,591.26 68.24,591.26" fill="#5C3166"/>
<polygon points="83.47,587.14 86.11,591.76 80.83,591.76" fill="#5C3166"/>
<polygon points="96.06,588.86 98.7,593.48 93.42,593.48" fill="#5C3166"/>
<polygon points="108.65,597 111.29,601.62 106.01,601.62" fill="#5C3166"/>
<polygon points="121.24,592.81 123.88,597.43 118.6,597.43" fill="#5C3166"/>
<polygon points="133.83,597.49 136.47,602.11 131.19,602.11" fill="#5C3166"/>
<polygon points="146.42,599.71 149.06,604.33 143.78,604.33" fill="#5C3166"/>
<polygon points="159.01,601.68 161.65,606.3 156.37,606.3" fill="#5C3166"/>
<polygon points="171.6,596.5 174.24,601.12 168.96,601.12" fill="#5C3166"/>
<polygon points="184.19,612.53 186.83,617.15 181.55,617.15" fill="#5C3166"/>
<polygon points="196.78,603.9 199.42,608.52 194.14,608.52" fill="#5C3166"/>
<polygon points="209.37,602.67 212.01,607.29 206.73,607.29" fill="#5C3166"/>
<polygon points="221.96,607.35 224.6,611.97 219.32,611.97" fill="#5C3166"/>
<polygon points="234.55,599.22 237.19,603.84 231.91,603.84" fill="#5C3166"/>
<polygon points="247.14,602.42 249.78,607.04 244.5,607.04" fill="#5C3166"/>
<polygon points="259.73,602.42 262.37,607.04 257.09,607.04" fill="#5C3166"/>
<polygon points="272.32,604.39 274.96,609.01 269.68,609.01" fill="#5C3166"/>
<polygon points="284.91,598.48 287.55,603.1 282.27,603.1" fill="#5C3166"/>
<polygon points="297.5,613.02 300.14,617.64 294.86,617.64" fill="#5C3166"/>
<path d="M45.7 560.2V565.13M43.4 560.2H48M43.4 565.13H48" stroke="#A2283C" stroke-width="0.9" fill="none"/>
<path d="M58.29 562.66V570.06M55.99 562.66H60.59M55.99 570.06H60.59" stroke="#A2283C" stroke-width="0.9" fill="none"/>
<path d="M70.88 548.86V564.63M68.58 548.86H73.18M68.58 564.63H73.18" stroke="#A2283C" stroke-width="0.9" fill="none"/>
<path d="M83.47 564.63V576.47M81.17 564.63H85.77M81.17 576.47H85.77" stroke="#A2283C" stroke-width="0.9" fill="none"/>
<path d="M96.06 560.94V575.73M93.76 560.94H98.36M93.76 575.73H98.36" stroke="#A2283C" stroke-width="0.9" fill="none"/>
<path d="M108.65 570.3V580.16M106.35 570.3H110.95M106.35 580.16H110.95" stroke="#A2283C" stroke-width="0.9" fill="none"/>
<path d="M121.24 571.54V583.86M118.94 571.54H123.54M118.94 583.86H123.54" stroke="#A2283C" stroke-width="0.9" fill="none"/>
<path d="M133.83 569.81V577.2M131.53 569.81H136.13M131.53 577.2H136.13" stroke="#A2283C" stroke-width="0.9" fill="none"/>
<path d="M146.42 574V586.33M144.12 574H148.72M144.12 586.33H148.72" stroke="#A2283C" stroke-width="0.9" fill="none"/>
<path d="M159.01 562.41V579.67M156.71 562.41H161.31M156.71 579.67H161.31" stroke="#A2283C" stroke-width="0.9" fill="none"/>
<path d="M171.6 567.1V581.89M169.3 567.1H173.9M169.3 581.89H173.9" stroke="#A2283C" stroke-width="0.9" fill="none"/>
<path d="M184.19 569.56V581.89M181.89 569.56H186.49M181.89 581.89H186.49" stroke="#A2283C" stroke-width="0.9" fill="none"/>
<path d="M196.78 562.17V571.04M194.48 562.17H199.08M194.48 571.04H199.08" stroke="#A2283C" stroke-width="0.9" fill="none"/>
<path d="M209.37 580.16V591.01M207.07 580.16H211.67M207.07 591.01H211.67" stroke="#A2283C" stroke-width="0.9" fill="none"/>
<path d="M221.96 567.59V582.38M219.66 567.59H224.26M219.66 582.38H224.26" stroke="#A2283C" stroke-width="0.9" fill="none"/>
<path d="M234.55 570.06V584.85M232.25 570.06H236.85M232.25 584.85H236.85" stroke="#A2283C" stroke-width="0.9" fill="none"/>
<path d="M247.14 569.32V589.04M244.84 569.32H249.44M244.84 589.04H249.44" stroke="#A2283C" stroke-width="0.9" fill="none"/>
<path d="M259.73 562.41V584.6M257.43 562.41H262.03M257.43 584.6H262.03" stroke="#A2283C" stroke-width="0.9" fill="none"/>
<path d="M272.32 563.4V587.06M270.02 563.4H274.62M270.02 587.06H274.62" stroke="#A2283C" stroke-width="0.9" fill="none"/>
<path d="M284.91 563.89V581.15M282.61 563.89H287.21M282.61 581.15H287.21" stroke="#A2283C" stroke-width="0.9" fill="none"/>
<path d="M297.5 556.5V605.8M295.2 556.5H299.8M295.2 605.8H299.8" stroke="#A2283C" stroke-width="0.9" fill="none"/>
<path d="M45.7 562.66 L58.29 566.36 L70.88 556.75 L83.47 570.55 L96.06 568.33 L108.65 575.23 L121.24 577.7 L133.83 573.51 L146.42 580.16 L159.01 571.04 L171.6 574.49 L184.19 575.73 L196.78 566.61 L209.37 585.59 L221.96 574.99 L234.55 577.45 L247.14 579.18 L259.73 573.51 L272.32 575.23 L284.91 572.52 L297.5 581.15" stroke="#A2283C" stroke-width="1.3" fill="none" stroke-linejoin="round"/>
<circle cx="45.7" cy="562.66" r="2.4" fill="#A2283C"/>
<circle cx="58.29" cy="566.36" r="2.4" fill="#A2283C"/>
<circle cx="70.88" cy="556.75" r="2.4" fill="#A2283C"/>
<circle cx="83.47" cy="570.55" r="2.4" fill="#A2283C"/>
<circle cx="96.06" cy="568.33" r="2.4" fill="#A2283C"/>
<circle cx="108.65" cy="575.23" r="2.4" fill="#A2283C"/>
<circle cx="121.24" cy="577.7" r="2.4" fill="#A2283C"/>
<circle cx="133.83" cy="573.51" r="2.4" fill="#A2283C"/>
<circle cx="146.42" cy="580.16" r="2.4" fill="#A2283C"/>
<circle cx="159.01" cy="571.04" r="2.4" fill="#A2283C"/>
<circle cx="171.6" cy="574.49" r="2.4" fill="#A2283C"/>
<circle cx="184.19" cy="575.73" r="2.4" fill="#A2283C"/>
<circle cx="196.78" cy="566.61" r="2.4" fill="#A2283C"/>
<circle cx="209.37" cy="585.59" r="2.4" fill="#A2283C"/>
<circle cx="221.96" cy="574.99" r="2.4" fill="#A2283C"/>
<circle cx="234.55" cy="577.45" r="2.4" fill="#A2283C"/>
<circle cx="247.14" cy="579.18" r="2.4" fill="#A2283C"/>
<circle cx="259.73" cy="573.51" r="2.4" fill="#A2283C"/>
<circle cx="272.32" cy="575.23" r="2.4" fill="#A2283C"/>
<circle cx="284.91" cy="572.52" r="2.4" fill="#A2283C"/>
<circle cx="297.5" cy="581.15" r="2.4" fill="#A2283C"/>
<path d="M45.7 558.72V566.11M43.4 558.72H48M43.4 566.11H48" stroke="#6AA8DA" stroke-width="0.9" fill="none"/>
<path d="M58.29 561.92V569.32M55.99 561.92H60.59M55.99 569.32H60.59" stroke="#6AA8DA" stroke-width="0.9" fill="none"/>
<path d="M70.88 546.39V556.25M68.58 546.39H73.18M68.58 556.25H73.18" stroke="#6AA8DA" stroke-width="0.9" fill="none"/>
<path d="M83.47 552.55V562.41M81.17 552.55H85.77M81.17 562.41H85.77" stroke="#6AA8DA" stroke-width="0.9" fill="none"/>
<path d="M96.06 561.68V576.47M93.76 561.68H98.36M93.76 576.47H98.36" stroke="#6AA8DA" stroke-width="0.9" fill="none"/>
<path d="M108.65 561.68V571.54M106.35 561.68H110.95M106.35 571.54H110.95" stroke="#6AA8DA" stroke-width="0.9" fill="none"/>
<path d="M121.24 570.3V580.16M118.94 570.3H123.54M118.94 580.16H123.54" stroke="#6AA8DA" stroke-width="0.9" fill="none"/>
<path d="M133.83 565.62V575.48M131.53 565.62H136.13M131.53 575.48H136.13" stroke="#6AA8DA" stroke-width="0.9" fill="none"/>
<path d="M146.42 573.26V585.59M144.12 573.26H148.72M144.12 585.59H148.72" stroke="#6AA8DA" stroke-width="0.9" fill="none"/>
<path d="M159.01 568.08V580.41M156.71 568.08H161.31M156.71 580.41H161.31" stroke="#6AA8DA" stroke-width="0.9" fill="none"/>
<path d="M171.6 561.68V574.99M169.3 561.68H173.9M169.3 574.99H173.9" stroke="#6AA8DA" stroke-width="0.9" fill="none"/>
<path d="M184.19 566.61V576.47M181.89 566.61H186.49M181.89 576.47H186.49" stroke="#6AA8DA" stroke-width="0.9" fill="none"/>
<path d="M196.78 567.59V594.71M194.48 567.59H199.08M194.48 594.71H199.08" stroke="#6AA8DA" stroke-width="0.9" fill="none"/>
<path d="M209.37 575.97V595.69M207.07 575.97H211.67M207.07 595.69H211.67" stroke="#6AA8DA" stroke-width="0.9" fill="none"/>
<path d="M221.96 576.71V591.5M219.66 576.71H224.26M219.66 591.5H224.26" stroke="#6AA8DA" stroke-width="0.9" fill="none"/>
<path d="M234.55 588.3V601.61M232.25 588.3H236.85M232.25 601.61H236.85" stroke="#6AA8DA" stroke-width="0.9" fill="none"/>
<path d="M247.14 582.38V597.17M244.84 582.38H249.44M244.84 597.17H249.44" stroke="#6AA8DA" stroke-width="0.9" fill="none"/>
<path d="M259.73 574.49V589.28M257.43 574.49H262.03M257.43 589.28H262.03" stroke="#6AA8DA" stroke-width="0.9" fill="none"/>
<path d="M272.32 587.56V602.35M270.02 587.56H274.62M270.02 602.35H274.62" stroke="#6AA8DA" stroke-width="0.9" fill="none"/>
<path d="M284.91 579.42V596.68M282.61 579.42H287.21M282.61 596.68H287.21" stroke="#6AA8DA" stroke-width="0.9" fill="none"/>
<path d="M297.5 582.13V609.74M295.2 582.13H299.8M295.2 609.74H299.8" stroke="#6AA8DA" stroke-width="0.9" fill="none"/>
<path d="M45.7 562.41 L58.29 565.62 L70.88 551.32 L83.47 557.49 L96.06 569.07 L108.65 566.61 L121.24 575.23 L133.83 570.55 L146.42 579.42 L159.01 574.25 L171.6 568.33 L184.19 571.54 L196.78 581.15 L209.37 585.83 L221.96 584.11 L234.55 594.95 L247.14 589.78 L259.73 581.89 L272.32 594.95 L284.91 588.05 L297.5 595.94" stroke="#6AA8DA" stroke-width="1.3" fill="none" stroke-linejoin="round"/>
<polygon points="45.7,559.65 48.46,562.41 45.7,565.17 42.94,562.41" fill="#6AA8DA"/>
<polygon points="58.29,562.86 61.05,565.62 58.29,568.38 55.53,565.62" fill="#6AA8DA"/>
<polygon points="70.88,548.56 73.64,551.32 70.88,554.08 68.12,551.32" fill="#6AA8DA"/>
<polygon points="83.47,554.73 86.23,557.49 83.47,560.25 80.71,557.49" fill="#6AA8DA"/>
<polygon points="96.06,566.31 98.82,569.07 96.06,571.83 93.3,569.07" fill="#6AA8DA"/>
<polygon points="108.65,563.85 111.41,566.61 108.65,569.37 105.89,566.61" fill="#6AA8DA"/>
<polygon points="121.24,572.47 124,575.23 121.24,577.99 118.48,575.23" fill="#6AA8DA"/>
<polygon points="133.83,567.79 136.59,570.55 133.83,573.31 131.07,570.55" fill="#6AA8DA"/>
<polygon points="146.42,576.66 149.18,579.42 146.42,582.18 143.66,579.42" fill="#6AA8DA"/>
<polygon points="159.01,571.49 161.77,574.25 159.01,577.01 156.25,574.25" fill="#6AA8DA"/>
<polygon points="171.6,565.57 174.36,568.33 171.6,571.09 168.84,568.33" fill="#6AA8DA"/>
<polygon points="184.19,568.78 186.95,571.54 184.19,574.3 181.43,571.54" fill="#6AA8DA"/>
<polygon points="196.78,578.39 199.54,581.15 196.78,583.91 194.02,581.15" fill="#6AA8DA"/>
<polygon points="209.37,583.07 212.13,585.83 209.37,588.59 206.61,585.83" fill="#6AA8DA"/>
<polygon points="221.96,581.35 224.72,584.11 221.96,586.87 219.2,584.11" fill="#6AA8DA"/>
<polygon points="234.55,592.19 237.31,594.95 234.55,597.71 231.79,594.95" fill="#6AA8DA"/>
<polygon points="247.14,587.02 249.9,589.78 247.14,592.54 244.38,589.78" fill="#6AA8DA"/>
<polygon points="259.73,579.13 262.49,581.89 259.73,584.65 256.97,581.89" fill="#6AA8DA"/>
<polygon points="272.32,592.19 275.08,594.95 272.32,597.71 269.56,594.95" fill="#6AA8DA"/>
<polygon points="284.91,585.29 287.67,588.05 284.91,590.81 282.15,588.05" fill="#6AA8DA"/>
<polygon points="297.5,593.18 300.26,595.94 297.5,598.7 294.74,595.94" fill="#6AA8DA"/>
<circle cx="232.85" cy="566.69" r="1.15" fill="#6AA8DA" opacity="0.85"/>
<circle cx="236.25" cy="566.69" r="1.15" fill="#6AA8DA" opacity="0.85"/>
<circle cx="247.14" cy="566" r="1.15" fill="#6AA8DA" opacity="0.85"/>
<circle cx="270.62" cy="559.77" r="1.15" fill="#6AA8DA" opacity="0.85"/>
<circle cx="274.02" cy="559.77" r="1.15" fill="#6AA8DA" opacity="0.85"/>
<circle cx="297.5" cy="552.5" r="1.15" fill="#6AA8DA" opacity="0.85"/>
<path d="M45.7 685H57" stroke="#E0962E" stroke-width="1.2"/>
<rect x="48.95" y="682.6" width="4.8" height="4.8" fill="#E0962E"/>
<text x="60" y="687.7" font-size="8.4" text-anchor="start" fill="#231F20" stroke-width="0.12" textLength="31.2" lengthAdjust="spacingAndGlyphs">HbSS MS</text>
<path d="M106 685H117.5" stroke="#5C3166" stroke-width="1.2"/>
<polygon points="111.75,682.36 114.39,686.98 109.11,686.98" fill="#5C3166"/>
<text x="121.3" y="687.7" font-size="8.4" text-anchor="start" fill="#231F20" stroke-width="0.12" textLength="40" lengthAdjust="spacingAndGlyphs">HbSS Saline</text>
<path d="M177.2 685H188.7" stroke="#A2283C" stroke-width="1.2"/>
<circle cx="182.95" cy="685" r="2.4" fill="#A2283C"/>
<text x="192.2" y="687.7" font-size="8.4" text-anchor="start" fill="#231F20" stroke-width="0.12" textLength="32" lengthAdjust="spacingAndGlyphs">HbAA MS</text>
<path d="M238.4 685H249.3" stroke="#6AA8DA" stroke-width="1.2"/>
<polygon points="243.85,682.24 246.61,685 243.85,687.76 241.09,685" fill="#6AA8DA"/>
<text x="252.2" y="687.7" font-size="8.4" text-anchor="start" fill="#231F20" stroke-width="0.12" textLength="42.4" lengthAdjust="spacingAndGlyphs">HbAA Saline</text>
<path d="M354.2 29.1V129.2H506" stroke="#231F20" stroke-width="1.3" fill="none"/>
<path d="M350.7 129.4H354.2" stroke="#231F20" stroke-width="1" fill="none"/>
<text x="347.3" y="132.4" font-size="8.4" text-anchor="end" fill="#231F20" stroke-width="0.12" textLength="4.02" lengthAdjust="spacingAndGlyphs">0</text>
<path d="M350.7 110.04H354.2" stroke="#231F20" stroke-width="1" fill="none"/>
<text x="347.3" y="113.04" font-size="8.4" text-anchor="end" fill="#231F20" stroke-width="0.12" textLength="4.02" lengthAdjust="spacingAndGlyphs">2</text>
<path d="M350.7 90.68H354.2" stroke="#231F20" stroke-width="1" fill="none"/>
<text x="347.3" y="93.68" font-size="8.4" text-anchor="end" fill="#231F20" stroke-width="0.12" textLength="4.02" lengthAdjust="spacingAndGlyphs">4</text>
<path d="M350.7 71.32H354.2" stroke="#231F20" stroke-width="1" fill="none"/>
<text x="347.3" y="74.32" font-size="8.4" text-anchor="end" fill="#231F20" stroke-width="0.12" textLength="4.02" lengthAdjust="spacingAndGlyphs">6</text>
<path d="M350.7 51.96H354.2" stroke="#231F20" stroke-width="1" fill="none"/>
<text x="347.3" y="54.96" font-size="8.4" text-anchor="end" fill="#231F20" stroke-width="0.12" textLength="4.02" lengthAdjust="spacingAndGlyphs">8</text>
<path d="M350.7 32.6H354.2" stroke="#231F20" stroke-width="1" fill="none"/>
<text x="347.3" y="35.6" font-size="8.4" text-anchor="end" fill="#231F20" stroke-width="0.12" textLength="8.03" lengthAdjust="spacingAndGlyphs">10</text>
<path d="M365 129.2V132.8" stroke="#231F20" stroke-width="1" fill="none"/>
<text x="365" y="142.8" font-size="8.4" text-anchor="middle" fill="#231F20" stroke-width="0.12" textLength="4.02" lengthAdjust="spacingAndGlyphs">0</text>
<path d="M386.68 129.2V132.8" stroke="#231F20" stroke-width="1" fill="none"/>
<text x="386.68" y="142.8" font-size="8.4" text-anchor="middle" fill="#231F20" stroke-width="0.12" textLength="4.02" lengthAdjust="spacingAndGlyphs">2</text>
<path d="M408.36 129.2V132.8" stroke="#231F20" stroke-width="1" fill="none"/>
<text x="408.36" y="142.8" font-size="8.4" text-anchor="middle" fill="#231F20" stroke-width="0.12" textLength="4.02" lengthAdjust="spacingAndGlyphs">4</text>
<path d="M430.04 129.2V132.8" stroke="#231F20" stroke-width="1" fill="none"/>
<text x="430.04" y="142.8" font-size="8.4" text-anchor="middle" fill="#231F20" stroke-width="0.12" textLength="4.02" lengthAdjust="spacingAndGlyphs">6</text>
<path d="M451.72 129.2V132.8" stroke="#231F20" stroke-width="1" fill="none"/>
<text x="451.72" y="142.8" font-size="8.4" text-anchor="middle" fill="#231F20" stroke-width="0.12" textLength="4.02" lengthAdjust="spacingAndGlyphs">8</text>
<path d="M473.4 129.2V132.8" stroke="#231F20" stroke-width="1" fill="none"/>
<text x="473.4" y="142.8" font-size="8.4" text-anchor="middle" fill="#231F20" stroke-width="0.12" textLength="8.03" lengthAdjust="spacingAndGlyphs">10</text>
<path d="M495.08 129.2V132.8" stroke="#231F20" stroke-width="1" fill="none"/>
<text x="495.08" y="142.8" font-size="8.4" text-anchor="middle" fill="#231F20" stroke-width="0.12" textLength="8.03" lengthAdjust="spacingAndGlyphs">12</text>
<text x="0" y="0" font-size="10.3" text-anchor="middle" fill="#231F20" stroke-width="0.12" textLength="71.5" lengthAdjust="spacingAndGlyphs" transform="translate(331 78) rotate(-90)">PWF (1.0 g fiber)</text>
<text x="322.9" y="18.2" font-size="13.3" text-anchor="start" fill="#231F20" stroke-width="0.05" textLength="7.2" lengthAdjust="spacingAndGlyphs">E</text>
<text x="394.5" y="157.6" font-size="10.6" text-anchor="start" fill="#231F20" stroke-width="0.12" textLength="58.3" lengthAdjust="spacingAndGlyphs">Time (weeks)</text>
<path d="M365 70.93V72.87M363 70.93H367M363 72.87H367" stroke="#3D5A8C" stroke-width="0.85" fill="none"/>
<path d="M386.68 69.87V71.8M384.68 69.87H388.68M384.68 71.8H388.68" stroke="#3D5A8C" stroke-width="0.85" fill="none"/>
<path d="M408.36 69.38V71.32M406.36 69.38H410.36M406.36 71.32H410.36" stroke="#3D5A8C" stroke-width="0.85" fill="none"/>
<path d="M430.04 68.13V70.06M428.04 68.13H432.04M428.04 70.06H432.04" stroke="#3D5A8C" stroke-width="0.85" fill="none"/>
<path d="M451.72 63.77V67.64M449.72 63.77H453.72M449.72 67.64H453.72" stroke="#3D5A8C" stroke-width="0.85" fill="none"/>
<path d="M473.4 67.35V69.29M471.4 67.35H475.4M471.4 69.29H475.4" stroke="#3D5A8C" stroke-width="0.85" fill="none"/>
<path d="M495.08 58.64V60.58M493.08 58.64H497.08M493.08 60.58H497.08" stroke="#3D5A8C" stroke-width="0.85" fill="none"/>
<path d="M365 71.9 L386.68 70.84 L408.36 70.35 L430.04 69.09 L451.72 65.71 L473.4 68.32 L495.08 59.61" stroke="#3D5A8C" stroke-width="1.15" fill="none" stroke-linejoin="round"/>
<polygon points="365,69.54 367.36,73.67 362.64,73.67" fill="#fff" stroke="#3D5A8C" stroke-width="1.1"/>
<polygon points="386.68,68.48 389.04,72.6 384.32,72.6" fill="#fff" stroke="#3D5A8C" stroke-width="1.1"/>
<polygon points="408.36,67.99 410.72,72.12 406,72.12" fill="#fff" stroke="#3D5A8C" stroke-width="1.1"/>
<polygon points="430.04,66.74 432.4,70.86 427.68,70.86" fill="#fff" stroke="#3D5A8C" stroke-width="1.1"/>
<polygon points="451.72,63.35 454.08,67.47 449.36,67.47" fill="#fff" stroke="#3D5A8C" stroke-width="1.1"/>
<polygon points="473.4,65.96 475.76,70.09 471.04,70.09" fill="#fff" stroke="#3D5A8C" stroke-width="1.1"/>
<polygon points="495.08,57.25 497.44,61.38 492.72,61.38" fill="#fff" stroke="#3D5A8C" stroke-width="1.1"/>
<path d="M365 70.55V72.48M363 70.55H367M363 72.48H367" stroke="#B97A3C" stroke-width="0.85" fill="none"/>
<path d="M386.68 69.87V71.8M384.68 69.87H388.68M384.68 71.8H388.68" stroke="#B97A3C" stroke-width="0.85" fill="none"/>
<path d="M408.36 72.97V74.9M406.36 72.97H410.36M406.36 74.9H410.36" stroke="#B97A3C" stroke-width="0.85" fill="none"/>
<path d="M430.04 65.8V67.74M428.04 65.8H432.04M428.04 67.74H432.04" stroke="#B97A3C" stroke-width="0.85" fill="none"/>
<path d="M451.72 64.54V70.35M449.72 64.54H453.72M449.72 70.35H453.72" stroke="#B97A3C" stroke-width="0.85" fill="none"/>
<path d="M473.4 67.35V69.29M471.4 67.35H475.4M471.4 69.29H475.4" stroke="#B97A3C" stroke-width="0.85" fill="none"/>
<path d="M495.08 54.96V60.77M493.08 54.96H497.08M493.08 60.77H497.08" stroke="#B97A3C" stroke-width="0.85" fill="none"/>
<path d="M365 71.51 L386.68 70.84 L408.36 73.93 L430.04 66.77 L451.72 67.45 L473.4 68.32 L495.08 57.86" stroke="#B97A3C" stroke-width="1.15" fill="none" stroke-linejoin="round"/>
<rect x="362.95" y="69.46" width="4.1" height="4.1" fill="#fff" stroke="#B97A3C" stroke-width="1.1"/>
<rect x="384.63" y="68.79" width="4.1" height="4.1" fill="#fff" stroke="#B97A3C" stroke-width="1.1"/>
<rect x="406.31" y="71.88" width="4.1" height="4.1" fill="#fff" stroke="#B97A3C" stroke-width="1.1"/>
<rect x="427.99" y="64.72" width="4.1" height="4.1" fill="#fff" stroke="#B97A3C" stroke-width="1.1"/>
<rect x="449.67" y="65.4" width="4.1" height="4.1" fill="#fff" stroke="#B97A3C" stroke-width="1.1"/>
<rect x="471.35" y="66.27" width="4.1" height="4.1" fill="#fff" stroke="#B97A3C" stroke-width="1.1"/>
<rect x="493.03" y="55.81" width="4.1" height="4.1" fill="#fff" stroke="#B97A3C" stroke-width="1.1"/>
<path d="M365 115.85V117.78M363 115.85H367M363 117.78H367" stroke="#6E3F78" stroke-width="0.85" fill="none"/>
<path d="M386.68 118.75V120.69M384.68 118.75H388.68M384.68 120.69H388.68" stroke="#6E3F78" stroke-width="0.85" fill="none"/>
<path d="M408.36 119.33V121.27M406.36 119.33H410.36M406.36 121.27H410.36" stroke="#6E3F78" stroke-width="0.85" fill="none"/>
<path d="M430.04 118.27V120.2M428.04 118.27H432.04M428.04 120.2H432.04" stroke="#6E3F78" stroke-width="0.85" fill="none"/>
<path d="M451.72 114.88V116.82M449.72 114.88H453.72M449.72 116.82H453.72" stroke="#6E3F78" stroke-width="0.85" fill="none"/>
<path d="M473.4 115.46V117.4M471.4 115.46H475.4M471.4 117.4H475.4" stroke="#6E3F78" stroke-width="0.85" fill="none"/>
<path d="M495.08 116.62V118.56M493.08 116.62H497.08M493.08 118.56H497.08" stroke="#6E3F78" stroke-width="0.85" fill="none"/>
<path d="M365 116.82 L386.68 119.72 L408.36 120.3 L430.04 119.24 L451.72 115.85 L473.4 116.43 L495.08 117.59" stroke="#6E3F78" stroke-width="1.15" fill="none" stroke-linejoin="round"/>
<circle cx="365" cy="116.82" r="2.05" fill="#fff" stroke="#6E3F78" stroke-width="1.1"/>
<circle cx="386.68" cy="119.72" r="2.05" fill="#fff" stroke="#6E3F78" stroke-width="1.1"/>
<circle cx="408.36" cy="120.3" r="2.05" fill="#fff" stroke="#6E3F78" stroke-width="1.1"/>
<circle cx="430.04" cy="119.24" r="2.05" fill="#fff" stroke="#6E3F78" stroke-width="1.1"/>
<circle cx="451.72" cy="115.85" r="2.05" fill="#fff" stroke="#6E3F78" stroke-width="1.1"/>
<circle cx="473.4" cy="116.43" r="2.05" fill="#fff" stroke="#6E3F78" stroke-width="1.1"/>
<circle cx="495.08" cy="117.59" r="2.05" fill="#fff" stroke="#6E3F78" stroke-width="1.1"/>
<path d="M365 116.33V118.27M363 116.33H367M363 118.27H367" stroke="#E39A35" stroke-width="0.85" fill="none"/>
<path d="M386.68 110.52V112.46M384.68 110.52H388.68M384.68 112.46H388.68" stroke="#E39A35" stroke-width="0.85" fill="none"/>
<path d="M408.36 114.4V120.2M406.36 114.4H410.36M406.36 120.2H410.36" stroke="#E39A35" stroke-width="0.85" fill="none"/>
<path d="M430.04 118.27V120.2M428.04 118.27H432.04M428.04 120.2H432.04" stroke="#E39A35" stroke-width="0.85" fill="none"/>
<path d="M451.72 113.14V115.07M449.72 113.14H453.72M449.72 115.07H453.72" stroke="#E39A35" stroke-width="0.85" fill="none"/>
<path d="M473.4 114.88V116.82M471.4 114.88H475.4M471.4 116.82H475.4" stroke="#E39A35" stroke-width="0.85" fill="none"/>
<path d="M495.08 116.62V118.56M493.08 116.62H497.08M493.08 118.56H497.08" stroke="#E39A35" stroke-width="0.85" fill="none"/>
<path d="M365 117.3 L386.68 111.49 L408.36 117.3 L430.04 119.24 L451.72 114.11 L473.4 115.85 L495.08 117.59" stroke="#E39A35" stroke-width="1.15" fill="none" stroke-linejoin="round"/>
<polygon points="365,114.94 367.36,117.3 365,119.66 362.64,117.3" fill="#fff" stroke="#E39A35" stroke-width="1.1"/>
<polygon points="386.68,109.13 389.04,111.49 386.68,113.85 384.32,111.49" fill="#fff" stroke="#E39A35" stroke-width="1.1"/>
<polygon points="408.36,114.94 410.72,117.3 408.36,119.66 406,117.3" fill="#fff" stroke="#E39A35" stroke-width="1.1"/>
<polygon points="430.04,116.88 432.4,119.24 430.04,121.59 427.68,119.24" fill="#fff" stroke="#E39A35" stroke-width="1.1"/>
<polygon points="451.72,111.75 454.08,114.11 451.72,116.46 449.36,114.11" fill="#fff" stroke="#E39A35" stroke-width="1.1"/>
<polygon points="473.4,113.49 475.76,115.85 473.4,118.21 471.04,115.85" fill="#fff" stroke="#E39A35" stroke-width="1.1"/>
<polygon points="495.08,115.23 497.44,117.59 495.08,119.95 492.72,117.59" fill="#fff" stroke="#E39A35" stroke-width="1.1"/>
<path d="M365 113.72V119.53M363 113.72H367M363 119.53H367" stroke="#A2283C" stroke-width="0.85" fill="none"/>
<path d="M386.68 100.55V102.49M384.68 100.55H388.68M384.68 102.49H388.68" stroke="#A2283C" stroke-width="0.85" fill="none"/>
<path d="M408.36 93.39V97.26M406.36 93.39H410.36M406.36 97.26H410.36" stroke="#A2283C" stroke-width="0.85" fill="none"/>
<path d="M430.04 91.94V97.75M428.04 91.94H432.04M428.04 97.75H432.04" stroke="#A2283C" stroke-width="0.85" fill="none"/>
<path d="M451.72 100.84V106.65M449.72 100.84H453.72M449.72 106.65H453.72" stroke="#A2283C" stroke-width="0.85" fill="none"/>
<path d="M473.4 106.07V111.88M471.4 106.07H475.4M471.4 111.88H475.4" stroke="#A2283C" stroke-width="0.85" fill="none"/>
<path d="M495.08 115.56V121.37M493.08 115.56H497.08M493.08 121.37H497.08" stroke="#A2283C" stroke-width="0.85" fill="none"/>
<path d="M365 116.62 L386.68 101.52 L408.36 95.33 L430.04 94.84 L451.72 103.75 L473.4 108.98 L495.08 118.46" stroke="#A2283C" stroke-width="1.15" fill="none" stroke-linejoin="round"/>
<rect x="362.55" y="114.17" width="4.9" height="4.9" fill="#A2283C"/>
<rect x="384.23" y="99.07" width="4.9" height="4.9" fill="#A2283C"/>
<rect x="405.91" y="92.88" width="4.9" height="4.9" fill="#A2283C"/>
<rect x="427.59" y="92.39" width="4.9" height="4.9" fill="#A2283C"/>
<rect x="449.27" y="101.3" width="4.9" height="4.9" fill="#A2283C"/>
<rect x="470.95" y="106.53" width="4.9" height="4.9" fill="#A2283C"/>
<rect x="492.63" y="116.01" width="4.9" height="4.9" fill="#A2283C"/>
<path d="M365 72.09V74.03M363 72.09H367M363 74.03H367" stroke="#5C3166" stroke-width="0.85" fill="none"/>
<path d="M386.68 60.87V68.61M384.68 60.87H388.68M384.68 68.61H388.68" stroke="#5C3166" stroke-width="0.85" fill="none"/>
<path d="M408.36 52.64V60.38M406.36 52.64H410.36M406.36 60.38H410.36" stroke="#5C3166" stroke-width="0.85" fill="none"/>
<path d="M430.04 51.38V58.16M428.04 51.38H432.04M428.04 58.16H432.04" stroke="#5C3166" stroke-width="0.85" fill="none"/>
<path d="M451.72 48.28V50.22M449.72 48.28H453.72M449.72 50.22H453.72" stroke="#5C3166" stroke-width="0.85" fill="none"/>
<path d="M473.4 47.99V55.74M471.4 47.99H475.4M471.4 55.74H475.4" stroke="#5C3166" stroke-width="0.85" fill="none"/>
<path d="M495.08 45.28V54.96M493.08 45.28H497.08M493.08 54.96H497.08" stroke="#5C3166" stroke-width="0.85" fill="none"/>
<path d="M365 73.06 L386.68 64.74 L408.36 56.51 L430.04 54.77 L451.72 49.25 L473.4 51.86 L495.08 50.12" stroke="#5C3166" stroke-width="1.15" fill="none" stroke-linejoin="round"/>
<polygon points="365,70.37 367.69,75.08 362.31,75.08" fill="#5C3166"/>
<polygon points="386.68,62.04 389.38,66.76 383.99,66.76" fill="#5C3166"/>
<polygon points="408.36,53.81 411.06,58.53 405.67,58.53" fill="#5C3166"/>
<polygon points="430.04,52.07 432.73,56.79 427.34,56.79" fill="#5C3166"/>
<polygon points="451.72,46.55 454.42,51.27 449.03,51.27" fill="#5C3166"/>
<polygon points="473.4,49.17 476.09,53.88 470.7,53.88" fill="#5C3166"/>
<polygon points="495.08,47.43 497.77,52.14 492.38,52.14" fill="#5C3166"/>
<path d="M365 123.98V125.92M363 123.98H367M363 125.92H367" stroke="#E0962E" stroke-width="0.85" fill="none"/>
<path d="M386.68 119.43V125.24M384.68 119.43H388.68M384.68 125.24H388.68" stroke="#E0962E" stroke-width="0.85" fill="none"/>
<path d="M408.36 113.43V121.17M406.36 113.43H410.36M406.36 121.17H410.36" stroke="#E0962E" stroke-width="0.85" fill="none"/>
<path d="M430.04 125.24V127.17M428.04 125.24H432.04M428.04 127.17H432.04" stroke="#E0962E" stroke-width="0.85" fill="none"/>
<path d="M451.72 124.37V126.3M449.72 124.37H453.72M449.72 126.3H453.72" stroke="#E0962E" stroke-width="0.85" fill="none"/>
<path d="M473.4 124.37V126.3M471.4 124.37H475.4M471.4 126.3H475.4" stroke="#E0962E" stroke-width="0.85" fill="none"/>
<path d="M495.08 126.5V128.43M493.08 126.5H497.08M493.08 128.43H497.08" stroke="#E0962E" stroke-width="0.85" fill="none"/>
<path d="M365 124.95 L386.68 122.33 L408.36 117.3 L430.04 126.21 L451.72 125.33 L473.4 125.33 L495.08 127.46" stroke="#E0962E" stroke-width="1.15" fill="none" stroke-linejoin="round"/>
<circle cx="365" cy="124.95" r="2.45" fill="#E0962E"/>
<circle cx="386.68" cy="122.33" r="2.45" fill="#E0962E"/>
<circle cx="408.36" cy="117.3" r="2.45" fill="#E0962E"/>
<circle cx="430.04" cy="126.21" r="2.45" fill="#E0962E"/>
<circle cx="451.72" cy="125.33" r="2.45" fill="#E0962E"/>
<circle cx="473.4" cy="125.33" r="2.45" fill="#E0962E"/>
<circle cx="495.08" cy="127.46" r="2.45" fill="#E0962E"/>
<path d="M365 116.24V119.14M363 116.24H367M363 119.14H367" stroke="#6AA8DA" stroke-width="0.85" fill="none"/>
<path d="M386.68 106.65V116.33M384.68 106.65H388.68M384.68 116.33H388.68" stroke="#6AA8DA" stroke-width="0.85" fill="none"/>
<path d="M408.36 93.29V102.97M406.36 93.29H410.36M406.36 102.97H410.36" stroke="#6AA8DA" stroke-width="0.85" fill="none"/>
<path d="M430.04 94.75V106.36M428.04 94.75H432.04M428.04 106.36H432.04" stroke="#6AA8DA" stroke-width="0.85" fill="none"/>
<path d="M451.72 99.88V106.65M449.72 99.88H453.72M449.72 106.65H453.72" stroke="#6AA8DA" stroke-width="0.85" fill="none"/>
<path d="M473.4 94.84V100.65M471.4 94.84H475.4M471.4 100.65H475.4" stroke="#6AA8DA" stroke-width="0.85" fill="none"/>
<path d="M495.08 98.23V111.78M493.08 98.23H497.08M493.08 111.78H497.08" stroke="#6AA8DA" stroke-width="0.85" fill="none"/>
<path d="M365 117.69 L386.68 111.49 L408.36 98.13 L430.04 100.55 L451.72 103.26 L473.4 97.75 L495.08 105.01" stroke="#6AA8DA" stroke-width="1.15" fill="none" stroke-linejoin="round"/>
<polygon points="365,114.87 367.82,117.69 365,120.5 362.18,117.69" fill="#6AA8DA"/>
<polygon points="386.68,108.67 389.5,111.49 386.68,114.31 383.86,111.49" fill="#6AA8DA"/>
<polygon points="408.36,95.32 411.18,98.13 408.36,100.95 405.54,98.13" fill="#6AA8DA"/>
<polygon points="430.04,97.74 432.86,100.55 430.04,103.37 427.22,100.55" fill="#6AA8DA"/>
<polygon points="451.72,100.45 454.54,103.26 451.72,106.08 448.9,103.26" fill="#6AA8DA"/>
<polygon points="473.4,94.93 476.22,97.75 473.4,100.56 470.58,97.75" fill="#6AA8DA"/>
<polygon points="495.08,102.19 497.9,105.01 495.08,107.82 492.26,105.01" fill="#6AA8DA"/>
<path d="M353.8 197.8V297.6H504" stroke="#231F20" stroke-width="1.3" fill="none"/>
<path d="M350.3 297.6H353.8" stroke="#231F20" stroke-width="1" fill="none"/>
<text x="346.9" y="300.6" font-size="8.4" text-anchor="end" fill="#231F20" stroke-width="0.12" textLength="4.02" lengthAdjust="spacingAndGlyphs">0</text>
<path d="M350.3 278.16H353.8" stroke="#231F20" stroke-width="1" fill="none"/>
<text x="346.9" y="281.16" font-size="8.4" text-anchor="end" fill="#231F20" stroke-width="0.12" textLength="8.03" lengthAdjust="spacingAndGlyphs">10</text>
<path d="M350.3 258.72H353.8" stroke="#231F20" stroke-width="1" fill="none"/>
<text x="346.9" y="261.72" font-size="8.4" text-anchor="end" fill="#231F20" stroke-width="0.12" textLength="8.03" lengthAdjust="spacingAndGlyphs">20</text>
<path d="M350.3 239.28H353.8" stroke="#231F20" stroke-width="1" fill="none"/>
<text x="346.9" y="242.28" font-size="8.4" text-anchor="end" fill="#231F20" stroke-width="0.12" textLength="8.03" lengthAdjust="spacingAndGlyphs">30</text>
<path d="M350.3 219.84H353.8" stroke="#231F20" stroke-width="1" fill="none"/>
<text x="346.9" y="222.84" font-size="8.4" text-anchor="end" fill="#231F20" stroke-width="0.12" textLength="8.03" lengthAdjust="spacingAndGlyphs">40</text>
<path d="M350.3 200.4H353.8" stroke="#231F20" stroke-width="1" fill="none"/>
<text x="346.9" y="203.4" font-size="8.4" text-anchor="end" fill="#231F20" stroke-width="0.12" textLength="8.03" lengthAdjust="spacingAndGlyphs">50</text>
<path d="M368 297.6V301.2" stroke="#231F20" stroke-width="1" fill="none"/>
<text x="368" y="311.2" font-size="8.4" text-anchor="middle" fill="#231F20" stroke-width="0.12" textLength="4.02" lengthAdjust="spacingAndGlyphs">0</text>
<path d="M388.94 297.6V301.2" stroke="#231F20" stroke-width="1" fill="none"/>
<text x="388.94" y="311.2" font-size="8.4" text-anchor="middle" fill="#231F20" stroke-width="0.12" textLength="4.02" lengthAdjust="spacingAndGlyphs">2</text>
<path d="M409.88 297.6V301.2" stroke="#231F20" stroke-width="1" fill="none"/>
<text x="409.88" y="311.2" font-size="8.4" text-anchor="middle" fill="#231F20" stroke-width="0.12" textLength="4.02" lengthAdjust="spacingAndGlyphs">4</text>
<path d="M430.82 297.6V301.2" stroke="#231F20" stroke-width="1" fill="none"/>
<text x="430.82" y="311.2" font-size="8.4" text-anchor="middle" fill="#231F20" stroke-width="0.12" textLength="4.02" lengthAdjust="spacingAndGlyphs">6</text>
<path d="M451.76 297.6V301.2" stroke="#231F20" stroke-width="1" fill="none"/>
<text x="451.76" y="311.2" font-size="8.4" text-anchor="middle" fill="#231F20" stroke-width="0.12" textLength="4.02" lengthAdjust="spacingAndGlyphs">8</text>
<path d="M472.7 297.6V301.2" stroke="#231F20" stroke-width="1" fill="none"/>
<text x="472.7" y="311.2" font-size="8.4" text-anchor="middle" fill="#231F20" stroke-width="0.12" textLength="8.03" lengthAdjust="spacingAndGlyphs">10</text>
<path d="M493.64 297.6V301.2" stroke="#231F20" stroke-width="1" fill="none"/>
<text x="493.64" y="311.2" font-size="8.4" text-anchor="middle" fill="#231F20" stroke-width="0.12" textLength="8.03" lengthAdjust="spacingAndGlyphs">12</text>
<text x="0" y="0" font-size="10.3" text-anchor="middle" fill="#231F20" stroke-width="0.12" textLength="91" lengthAdjust="spacingAndGlyphs" transform="translate(330.8 247.1) rotate(-90)">PWF cold (per 2 min)</text>
<text x="322.9" y="187.2" font-size="13.3" text-anchor="start" fill="#231F20" stroke-width="0.05" textLength="6.4" lengthAdjust="spacingAndGlyphs">F</text>
<text x="402" y="326.4" font-size="10.6" text-anchor="start" fill="#231F20" stroke-width="0.12" textLength="57.6" lengthAdjust="spacingAndGlyphs">Time (weeks)</text>
<path d="M368 248.81V250.75M366 248.81H370M366 250.75H370" stroke="#6AA8DA" stroke-width="0.85" fill="none"/>
<path d="M388.94 241.81V244.92M386.94 241.81H390.94M386.94 244.92H390.94" stroke="#6AA8DA" stroke-width="0.85" fill="none"/>
<path d="M409.88 242.78V247.44M407.88 242.78H411.88M407.88 247.44H411.88" stroke="#6AA8DA" stroke-width="0.85" fill="none"/>
<path d="M430.82 246.86V249.97M428.82 246.86H432.82M428.82 249.97H432.82" stroke="#6AA8DA" stroke-width="0.85" fill="none"/>
<path d="M451.76 236.95V240.06M449.76 236.95H453.76M449.76 240.06H453.76" stroke="#6AA8DA" stroke-width="0.85" fill="none"/>
<path d="M472.7 243.56V246.67M470.7 243.56H474.7M470.7 246.67H474.7" stroke="#6AA8DA" stroke-width="0.85" fill="none"/>
<path d="M493.64 243.75V248.81M491.64 243.75H495.64M491.64 248.81H495.64" stroke="#6AA8DA" stroke-width="0.85" fill="none"/>
<path d="M368 249.78 L388.94 243.36 L409.88 245.11 L430.82 248.42 L451.76 238.5 L472.7 245.11 L493.64 246.28" stroke="#6AA8DA" stroke-width="1.15" fill="none" stroke-linejoin="round"/>
<polygon points="368,246.96 370.82,249.78 368,252.6 365.18,249.78" fill="#6AA8DA"/>
<polygon points="388.94,240.54 391.76,243.36 388.94,246.18 386.12,243.36" fill="#6AA8DA"/>
<polygon points="409.88,242.29 412.7,245.11 409.88,247.93 407.06,245.11" fill="#6AA8DA"/>
<polygon points="430.82,245.6 433.64,248.42 430.82,251.23 428,248.42" fill="#6AA8DA"/>
<polygon points="451.76,235.68 454.58,238.5 451.76,241.32 448.94,238.5" fill="#6AA8DA"/>
<polygon points="472.7,242.29 475.52,245.11 472.7,247.93 469.88,245.11" fill="#6AA8DA"/>
<polygon points="493.64,243.46 496.46,246.28 493.64,249.1 490.82,246.28" fill="#6AA8DA"/>
<path d="M368 270.38V275.05M366 270.38H370M366 275.05H370" stroke="#E0962E" stroke-width="0.85" fill="none"/>
<path d="M388.94 266.5V274.27M386.94 266.5H390.94M386.94 274.27H390.94" stroke="#E0962E" stroke-width="0.85" fill="none"/>
<path d="M409.88 267.08V272.91M407.88 267.08H411.88M407.88 272.91H411.88" stroke="#E0962E" stroke-width="0.85" fill="none"/>
<path d="M430.82 275.24V277.19M428.82 275.24H432.82M428.82 277.19H432.82" stroke="#E0962E" stroke-width="0.85" fill="none"/>
<path d="M451.76 268.05V271.94M449.76 268.05H453.76M449.76 271.94H453.76" stroke="#E0962E" stroke-width="0.85" fill="none"/>
<path d="M472.7 273.88V275.83M470.7 273.88H474.7M470.7 275.83H474.7" stroke="#E0962E" stroke-width="0.85" fill="none"/>
<path d="M493.64 274.66V276.6M491.64 274.66H495.64M491.64 276.6H495.64" stroke="#E0962E" stroke-width="0.85" fill="none"/>
<path d="M368 272.72 L388.94 270.38 L409.88 270 L430.82 276.22 L451.76 270 L472.7 274.86 L493.64 275.63" stroke="#E0962E" stroke-width="1.15" fill="none" stroke-linejoin="round"/>
<circle cx="368" cy="272.72" r="2.45" fill="#E0962E"/>
<circle cx="388.94" cy="270.38" r="2.45" fill="#E0962E"/>
<circle cx="409.88" cy="270" r="2.45" fill="#E0962E"/>
<circle cx="430.82" cy="276.22" r="2.45" fill="#E0962E"/>
<circle cx="451.76" cy="270" r="2.45" fill="#E0962E"/>
<circle cx="472.7" cy="274.86" r="2.45" fill="#E0962E"/>
<circle cx="493.64" cy="275.63" r="2.45" fill="#E0962E"/>
<path d="M368 233.16V235.1M366 233.16H370M366 235.1H370" stroke="#5C3166" stroke-width="0.85" fill="none"/>
<path d="M388.94 231.89V233.84M386.94 231.89H390.94M386.94 233.84H390.94" stroke="#5C3166" stroke-width="0.85" fill="none"/>
<path d="M409.88 226.45V229.56M407.88 226.45H411.88M407.88 229.56H411.88" stroke="#5C3166" stroke-width="0.85" fill="none"/>
<path d="M430.82 230.73V232.67M428.82 230.73H432.82M428.82 232.67H432.82" stroke="#5C3166" stroke-width="0.85" fill="none"/>
<path d="M451.76 222.17V227.23M449.76 222.17H453.76M449.76 227.23H453.76" stroke="#5C3166" stroke-width="0.85" fill="none"/>
<path d="M472.7 222.37V226.26M470.7 222.37H474.7M470.7 226.26H474.7" stroke="#5C3166" stroke-width="0.85" fill="none"/>
<path d="M493.64 225.48V230.14M491.64 225.48H495.64M491.64 230.14H495.64" stroke="#5C3166" stroke-width="0.85" fill="none"/>
<path d="M368 234.13 L388.94 232.86 L409.88 228 L430.82 231.7 L451.76 224.7 L472.7 224.31 L493.64 227.81" stroke="#5C3166" stroke-width="1.15" fill="none" stroke-linejoin="round"/>
<polygon points="368,231.43 370.69,236.15 365.31,236.15" fill="#5C3166"/>
<polygon points="388.94,230.17 391.63,234.89 386.25,234.89" fill="#5C3166"/>
<polygon points="409.88,225.31 412.57,230.03 407.19,230.03" fill="#5C3166"/>
<polygon points="430.82,229 433.51,233.72 428.12,233.72" fill="#5C3166"/>
<polygon points="451.76,222.01 454.45,226.72 449.06,226.72" fill="#5C3166"/>
<polygon points="472.7,221.62 475.39,226.33 470,226.33" fill="#5C3166"/>
<polygon points="493.64,225.12 496.33,229.83 490.94,229.83" fill="#5C3166"/>
<path d="M368 257.75V263.58M366 257.75H370M366 263.58H370" stroke="#A2283C" stroke-width="0.85" fill="none"/>
<path d="M388.94 253.47V255.42M386.94 253.47H390.94M386.94 255.42H390.94" stroke="#A2283C" stroke-width="0.85" fill="none"/>
<path d="M409.88 258.23V260.18M407.88 258.23H411.88M407.88 260.18H411.88" stroke="#A2283C" stroke-width="0.85" fill="none"/>
<path d="M430.82 259.11V261.05M428.82 259.11H432.82M428.82 261.05H432.82" stroke="#A2283C" stroke-width="0.85" fill="none"/>
<path d="M451.76 257.36V259.3M449.76 257.36H453.76M449.76 259.3H453.76" stroke="#A2283C" stroke-width="0.85" fill="none"/>
<path d="M472.7 263.77V265.72M470.7 263.77H474.7M470.7 265.72H474.7" stroke="#A2283C" stroke-width="0.85" fill="none"/>
<path d="M493.64 266.01V267.95M491.64 266.01H495.64M491.64 267.95H495.64" stroke="#A2283C" stroke-width="0.85" fill="none"/>
<path d="M368 260.66 L388.94 254.44 L409.88 259.21 L430.82 260.08 L451.76 258.33 L472.7 264.75 L493.64 266.98" stroke="#A2283C" stroke-width="1.15" fill="none" stroke-linejoin="round"/>
<rect x="365.55" y="258.21" width="4.9" height="4.9" fill="#A2283C"/>
<rect x="386.49" y="251.99" width="4.9" height="4.9" fill="#A2283C"/>
<rect x="407.43" y="256.76" width="4.9" height="4.9" fill="#A2283C"/>
<rect x="428.37" y="257.63" width="4.9" height="4.9" fill="#A2283C"/>
<rect x="449.31" y="255.88" width="4.9" height="4.9" fill="#A2283C"/>
<rect x="470.25" y="262.3" width="4.9" height="4.9" fill="#A2283C"/>
<rect x="491.19" y="264.53" width="4.9" height="4.9" fill="#A2283C"/>
<path d="M368 249.97V251.92M366 249.97H370M366 251.92H370" stroke="#E39A35" stroke-width="0.85" fill="none"/>
<path d="M388.94 252.69V254.64M386.94 252.69H390.94M386.94 254.64H390.94" stroke="#E39A35" stroke-width="0.85" fill="none"/>
<path d="M409.88 250.46V252.4M407.88 250.46H411.88M407.88 252.4H411.88" stroke="#E39A35" stroke-width="0.85" fill="none"/>
<path d="M430.82 249.97V251.92M428.82 249.97H432.82M428.82 251.92H432.82" stroke="#E39A35" stroke-width="0.85" fill="none"/>
<path d="M451.76 248.81V250.75M449.76 248.81H453.76M449.76 250.75H453.76" stroke="#E39A35" stroke-width="0.85" fill="none"/>
<path d="M472.7 249.19V251.14M470.7 249.19H474.7M470.7 251.14H474.7" stroke="#E39A35" stroke-width="0.85" fill="none"/>
<path d="M493.64 248.81V250.75M491.64 248.81H495.64M491.64 250.75H495.64" stroke="#E39A35" stroke-width="0.85" fill="none"/>
<path d="M368 250.94 L388.94 253.67 L409.88 251.43 L430.82 250.94 L451.76 249.78 L472.7 250.17 L493.64 249.78" stroke="#E39A35" stroke-width="1.15" fill="none" stroke-linejoin="round"/>
<polygon points="368,248.59 370.36,250.94 368,253.3 365.64,250.94" fill="#fff" stroke="#E39A35" stroke-width="1.1"/>
<polygon points="388.94,251.31 391.3,253.67 388.94,256.02 386.58,253.67" fill="#fff" stroke="#E39A35" stroke-width="1.1"/>
<polygon points="409.88,249.07 412.24,251.43 409.88,253.79 407.52,251.43" fill="#fff" stroke="#E39A35" stroke-width="1.1"/>
<polygon points="430.82,248.59 433.18,250.94 430.82,253.3 428.46,250.94" fill="#fff" stroke="#E39A35" stroke-width="1.1"/>
<polygon points="451.76,247.42 454.12,249.78 451.76,252.14 449.4,249.78" fill="#fff" stroke="#E39A35" stroke-width="1.1"/>
<polygon points="472.7,247.81 475.06,250.17 472.7,252.52 470.34,250.17" fill="#fff" stroke="#E39A35" stroke-width="1.1"/>
<polygon points="493.64,247.42 496,249.78 493.64,252.14 491.28,249.78" fill="#fff" stroke="#E39A35" stroke-width="1.1"/>
<path d="M368 249.97V251.92M366 249.97H370M366 251.92H370" stroke="#6E3F78" stroke-width="0.85" fill="none"/>
<path d="M388.94 247.44V249.39M386.94 247.44H390.94M386.94 249.39H390.94" stroke="#6E3F78" stroke-width="0.85" fill="none"/>
<path d="M409.88 248.81V250.75M407.88 248.81H411.88M407.88 250.75H411.88" stroke="#6E3F78" stroke-width="0.85" fill="none"/>
<path d="M430.82 250.46V252.4M428.82 250.46H432.82M428.82 252.4H432.82" stroke="#6E3F78" stroke-width="0.85" fill="none"/>
<path d="M451.76 246.08V248.03M449.76 246.08H453.76M449.76 248.03H453.76" stroke="#6E3F78" stroke-width="0.85" fill="none"/>
<path d="M472.7 248.03V253.08M470.7 248.03H474.7M470.7 253.08H474.7" stroke="#6E3F78" stroke-width="0.85" fill="none"/>
<path d="M493.64 249.58V251.53M491.64 249.58H495.64M491.64 251.53H495.64" stroke="#6E3F78" stroke-width="0.85" fill="none"/>
<path d="M368 250.94 L388.94 248.42 L409.88 249.78 L430.82 251.43 L451.76 247.06 L472.7 250.56 L493.64 250.56" stroke="#6E3F78" stroke-width="1.15" fill="none" stroke-linejoin="round"/>
<circle cx="368" cy="250.94" r="2.05" fill="#fff" stroke="#6E3F78" stroke-width="1.1"/>
<circle cx="388.94" cy="248.42" r="2.05" fill="#fff" stroke="#6E3F78" stroke-width="1.1"/>
<circle cx="409.88" cy="249.78" r="2.05" fill="#fff" stroke="#6E3F78" stroke-width="1.1"/>
<circle cx="430.82" cy="251.43" r="2.05" fill="#fff" stroke="#6E3F78" stroke-width="1.1"/>
<circle cx="451.76" cy="247.06" r="2.05" fill="#fff" stroke="#6E3F78" stroke-width="1.1"/>
<circle cx="472.7" cy="250.56" r="2.05" fill="#fff" stroke="#6E3F78" stroke-width="1.1"/>
<circle cx="493.64" cy="250.56" r="2.05" fill="#fff" stroke="#6E3F78" stroke-width="1.1"/>
<path d="M368 230.92V234.03M366 230.92H370M366 234.03H370" stroke="#B97A3C" stroke-width="0.85" fill="none"/>
<path d="M388.94 224.89V230.73M386.94 224.89H390.94M386.94 230.73H390.94" stroke="#B97A3C" stroke-width="0.85" fill="none"/>
<path d="M409.88 228.49V230.43M407.88 228.49H411.88M407.88 230.43H411.88" stroke="#B97A3C" stroke-width="0.85" fill="none"/>
<path d="M430.82 230.73V232.67M428.82 230.73H432.82M428.82 232.67H432.82" stroke="#B97A3C" stroke-width="0.85" fill="none"/>
<path d="M451.76 230.92V234.81M449.76 230.92H453.76M449.76 234.81H453.76" stroke="#B97A3C" stroke-width="0.85" fill="none"/>
<path d="M472.7 232.86V237.92M470.7 232.86H474.7M470.7 237.92H474.7" stroke="#B97A3C" stroke-width="0.85" fill="none"/>
<path d="M493.64 234.81V236.75M491.64 234.81H495.64M491.64 236.75H495.64" stroke="#B97A3C" stroke-width="0.85" fill="none"/>
<path d="M368 232.48 L388.94 227.81 L409.88 229.46 L430.82 231.7 L451.76 232.86 L472.7 235.39 L493.64 235.78" stroke="#B97A3C" stroke-width="1.15" fill="none" stroke-linejoin="round"/>
<rect x="365.95" y="230.43" width="4.1" height="4.1" fill="#fff" stroke="#B97A3C" stroke-width="1.1"/>
<rect x="386.89" y="225.76" width="4.1" height="4.1" fill="#fff" stroke="#B97A3C" stroke-width="1.1"/>
<rect x="407.83" y="227.41" width="4.1" height="4.1" fill="#fff" stroke="#B97A3C" stroke-width="1.1"/>
<rect x="428.77" y="229.65" width="4.1" height="4.1" fill="#fff" stroke="#B97A3C" stroke-width="1.1"/>
<rect x="449.71" y="230.81" width="4.1" height="4.1" fill="#fff" stroke="#B97A3C" stroke-width="1.1"/>
<rect x="470.65" y="233.34" width="4.1" height="4.1" fill="#fff" stroke="#B97A3C" stroke-width="1.1"/>
<rect x="491.59" y="233.73" width="4.1" height="4.1" fill="#fff" stroke="#B97A3C" stroke-width="1.1"/>
<path d="M368 233.64V235.59M366 233.64H370M366 235.59H370" stroke="#3D5A8C" stroke-width="0.85" fill="none"/>
<path d="M388.94 232.28V234.23M386.94 232.28H390.94M386.94 234.23H390.94" stroke="#3D5A8C" stroke-width="0.85" fill="none"/>
<path d="M409.88 229.17V231.12M407.88 229.17H411.88M407.88 231.12H411.88" stroke="#3D5A8C" stroke-width="0.85" fill="none"/>
<path d="M430.82 231.12V233.06M428.82 231.12H432.82M428.82 233.06H432.82" stroke="#3D5A8C" stroke-width="0.85" fill="none"/>
<path d="M451.76 234.23V239.28M449.76 234.23H453.76M449.76 239.28H453.76" stroke="#3D5A8C" stroke-width="0.85" fill="none"/>
<path d="M472.7 236.36V241.42M470.7 236.36H474.7M470.7 241.42H474.7" stroke="#3D5A8C" stroke-width="0.85" fill="none"/>
<path d="M493.64 234.81V236.75M491.64 234.81H495.64M491.64 236.75H495.64" stroke="#3D5A8C" stroke-width="0.85" fill="none"/>
<path d="M368 234.61 L388.94 233.25 L409.88 230.14 L430.82 232.09 L451.76 236.75 L472.7 238.89 L493.64 235.78" stroke="#3D5A8C" stroke-width="1.15" fill="none" stroke-linejoin="round"/>
<polygon points="368,232.26 370.36,236.38 365.64,236.38" fill="#fff" stroke="#3D5A8C" stroke-width="1.1"/>
<polygon points="388.94,230.9 391.3,235.02 386.58,235.02" fill="#fff" stroke="#3D5A8C" stroke-width="1.1"/>
<polygon points="409.88,227.79 412.24,231.91 407.52,231.91" fill="#fff" stroke="#3D5A8C" stroke-width="1.1"/>
<polygon points="430.82,229.73 433.18,233.86 428.46,233.86" fill="#fff" stroke="#3D5A8C" stroke-width="1.1"/>
<polygon points="451.76,234.4 454.12,238.52 449.4,238.52" fill="#fff" stroke="#3D5A8C" stroke-width="1.1"/>
<polygon points="472.7,236.53 475.06,240.66 470.34,240.66" fill="#fff" stroke="#3D5A8C" stroke-width="1.1"/>
<polygon points="493.64,233.42 496,237.55 491.28,237.55" fill="#fff" stroke="#3D5A8C" stroke-width="1.1"/>
<path d="M354.2 365V465.4H503.5" stroke="#231F20" stroke-width="1.3" fill="none"/>
<path d="M350.7 465.4H354.2" stroke="#231F20" stroke-width="1" fill="none"/>
<text x="347.3" y="468.4" font-size="8.4" text-anchor="end" fill="#231F20" stroke-width="0.12" textLength="4.02" lengthAdjust="spacingAndGlyphs">0</text>
<path d="M350.7 449.14H354.2" stroke="#231F20" stroke-width="1" fill="none"/>
<text x="347.3" y="452.14" font-size="8.4" text-anchor="end" fill="#231F20" stroke-width="0.12" textLength="4.02" lengthAdjust="spacingAndGlyphs">2</text>
<path d="M350.7 432.88H354.2" stroke="#231F20" stroke-width="1" fill="none"/>
<text x="347.3" y="435.88" font-size="8.4" text-anchor="end" fill="#231F20" stroke-width="0.12" textLength="4.02" lengthAdjust="spacingAndGlyphs">4</text>
<path d="M350.7 416.62H354.2" stroke="#231F20" stroke-width="1" fill="none"/>
<text x="347.3" y="419.62" font-size="8.4" text-anchor="end" fill="#231F20" stroke-width="0.12" textLength="4.02" lengthAdjust="spacingAndGlyphs">6</text>
<path d="M350.7 400.36H354.2" stroke="#231F20" stroke-width="1" fill="none"/>
<text x="347.3" y="403.36" font-size="8.4" text-anchor="end" fill="#231F20" stroke-width="0.12" textLength="4.02" lengthAdjust="spacingAndGlyphs">8</text>
<path d="M350.7 384.1H354.2" stroke="#231F20" stroke-width="1" fill="none"/>
<text x="347.3" y="387.1" font-size="8.4" text-anchor="end" fill="#231F20" stroke-width="0.12" textLength="8.03" lengthAdjust="spacingAndGlyphs">10</text>
<path d="M350.7 367.84H354.2" stroke="#231F20" stroke-width="1" fill="none"/>
<text x="347.3" y="370.84" font-size="8.4" text-anchor="end" fill="#231F20" stroke-width="0.12" textLength="8.03" lengthAdjust="spacingAndGlyphs">12</text>
<path d="M364.2 465.4V469" stroke="#231F20" stroke-width="1" fill="none"/>
<text x="364.2" y="479" font-size="8.4" text-anchor="middle" fill="#231F20" stroke-width="0.12" textLength="4.02" lengthAdjust="spacingAndGlyphs">0</text>
<path d="M385.46 465.4V469" stroke="#231F20" stroke-width="1" fill="none"/>
<text x="385.46" y="479" font-size="8.4" text-anchor="middle" fill="#231F20" stroke-width="0.12" textLength="4.02" lengthAdjust="spacingAndGlyphs">2</text>
<path d="M406.72 465.4V469" stroke="#231F20" stroke-width="1" fill="none"/>
<text x="406.72" y="479" font-size="8.4" text-anchor="middle" fill="#231F20" stroke-width="0.12" textLength="4.02" lengthAdjust="spacingAndGlyphs">4</text>
<path d="M427.98 465.4V469" stroke="#231F20" stroke-width="1" fill="none"/>
<text x="427.98" y="479" font-size="8.4" text-anchor="middle" fill="#231F20" stroke-width="0.12" textLength="4.02" lengthAdjust="spacingAndGlyphs">6</text>
<path d="M449.24 465.4V469" stroke="#231F20" stroke-width="1" fill="none"/>
<text x="449.24" y="479" font-size="8.4" text-anchor="middle" fill="#231F20" stroke-width="0.12" textLength="4.02" lengthAdjust="spacingAndGlyphs">8</text>
<path d="M470.5 465.4V469" stroke="#231F20" stroke-width="1" fill="none"/>
<text x="470.5" y="479" font-size="8.4" text-anchor="middle" fill="#231F20" stroke-width="0.12" textLength="8.03" lengthAdjust="spacingAndGlyphs">10</text>
<path d="M491.76 465.4V469" stroke="#231F20" stroke-width="1" fill="none"/>
<text x="491.76" y="479" font-size="8.4" text-anchor="middle" fill="#231F20" stroke-width="0.12" textLength="8.03" lengthAdjust="spacingAndGlyphs">12</text>
<text x="0" y="0" font-size="10.3" text-anchor="middle" fill="#231F20" stroke-width="0.12" textLength="54" lengthAdjust="spacingAndGlyphs" transform="translate(331.3 415.2) rotate(-90)">PWL heat (s)</text>
<text x="322.2" y="355.4" font-size="13.3" text-anchor="start" fill="#231F20" stroke-width="0.05" textLength="9.4" lengthAdjust="spacingAndGlyphs">G</text>
<text x="402" y="494.5" font-size="10.6" text-anchor="start" fill="#231F20" stroke-width="0.12" textLength="57.6" lengthAdjust="spacingAndGlyphs">Time (weeks)</text>
<path d="M364.2 410.77V413.21M362.2 410.77H366.2M362.2 413.21H366.2" stroke="#6AA8DA" stroke-width="0.85" fill="none"/>
<path d="M385.46 409.38V411.82M383.46 409.38H387.46M383.46 411.82H387.46" stroke="#6AA8DA" stroke-width="0.85" fill="none"/>
<path d="M406.72 412.15V415.4M404.72 412.15H408.72M404.72 415.4H408.72" stroke="#6AA8DA" stroke-width="0.85" fill="none"/>
<path d="M427.98 419.95V423.21M425.98 419.95H429.98M425.98 423.21H429.98" stroke="#6AA8DA" stroke-width="0.85" fill="none"/>
<path d="M449.24 417.35V420.6M447.24 417.35H451.24M447.24 420.6H451.24" stroke="#6AA8DA" stroke-width="0.85" fill="none"/>
<path d="M470.5 422.55V425.81M468.5 422.55H472.5M468.5 425.81H472.5" stroke="#6AA8DA" stroke-width="0.85" fill="none"/>
<path d="M491.76 424.26V427.51M489.76 424.26H493.76M489.76 427.51H493.76" stroke="#6AA8DA" stroke-width="0.85" fill="none"/>
<path d="M364.2 411.99 L385.46 410.6 L406.72 413.77 L427.98 421.58 L449.24 418.98 L470.5 424.18 L491.76 425.89" stroke="#6AA8DA" stroke-width="1.15" fill="none" stroke-linejoin="round"/>
<polygon points="364.2,409.17 367.02,411.99 364.2,414.8 361.38,411.99" fill="#6AA8DA"/>
<polygon points="385.46,407.79 388.28,410.6 385.46,413.42 382.64,410.6" fill="#6AA8DA"/>
<polygon points="406.72,410.96 409.54,413.77 406.72,416.59 403.9,413.77" fill="#6AA8DA"/>
<polygon points="427.98,418.76 430.8,421.58 427.98,424.4 425.16,421.58" fill="#6AA8DA"/>
<polygon points="449.24,416.16 452.06,418.98 449.24,421.8 446.42,418.98" fill="#6AA8DA"/>
<polygon points="470.5,421.36 473.32,424.18 470.5,427 467.68,424.18" fill="#6AA8DA"/>
<polygon points="491.76,423.07 494.58,425.89 491.76,428.71 488.94,425.89" fill="#6AA8DA"/>
<path d="M364.2 412.07V413.69M362.2 412.07H366.2M362.2 413.69H366.2" stroke="#E39A35" stroke-width="0.85" fill="none"/>
<path d="M385.46 413.53V416.78M383.46 413.53H387.46M383.46 416.78H387.46" stroke="#E39A35" stroke-width="0.85" fill="none"/>
<path d="M406.72 413.53V416.78M404.72 413.53H408.72M404.72 416.78H408.72" stroke="#E39A35" stroke-width="0.85" fill="none"/>
<path d="M427.98 414.99V416.62M425.98 414.99H429.98M425.98 416.62H429.98" stroke="#E39A35" stroke-width="0.85" fill="none"/>
<path d="M449.24 414.99V416.62M447.24 414.99H451.24M447.24 416.62H451.24" stroke="#E39A35" stroke-width="0.85" fill="none"/>
<path d="M470.5 420.44V423.69M468.5 420.44H472.5M468.5 423.69H472.5" stroke="#E39A35" stroke-width="0.85" fill="none"/>
<path d="M491.76 419.06V422.31M489.76 419.06H493.76M489.76 422.31H493.76" stroke="#E39A35" stroke-width="0.85" fill="none"/>
<path d="M364.2 412.88 L385.46 415.16 L406.72 415.16 L427.98 415.81 L449.24 415.81 L470.5 422.07 L491.76 420.68" stroke="#E39A35" stroke-width="1.15" fill="none" stroke-linejoin="round"/>
<polygon points="364.2,410.52 366.56,412.88 364.2,415.24 361.84,412.88" fill="#fff" stroke="#E39A35" stroke-width="1.1"/>
<polygon points="385.46,412.8 387.82,415.16 385.46,417.51 383.1,415.16" fill="#fff" stroke="#E39A35" stroke-width="1.1"/>
<polygon points="406.72,412.8 409.08,415.16 406.72,417.51 404.36,415.16" fill="#fff" stroke="#E39A35" stroke-width="1.1"/>
<polygon points="427.98,413.45 430.34,415.81 427.98,418.16 425.62,415.81" fill="#fff" stroke="#E39A35" stroke-width="1.1"/>
<polygon points="449.24,413.45 451.6,415.81 449.24,418.16 446.88,415.81" fill="#fff" stroke="#E39A35" stroke-width="1.1"/>
<polygon points="470.5,419.71 472.86,422.07 470.5,424.42 468.14,422.07" fill="#fff" stroke="#E39A35" stroke-width="1.1"/>
<polygon points="491.76,418.33 494.12,420.68 491.76,423.04 489.4,420.68" fill="#fff" stroke="#E39A35" stroke-width="1.1"/>
<path d="M364.2 386.95V390.2M362.2 386.95H366.2M362.2 390.2H366.2" stroke="#E0962E" stroke-width="0.85" fill="none"/>
<path d="M385.46 387.84V391.09M383.46 387.84H387.46M383.46 391.09H387.46" stroke="#E0962E" stroke-width="0.85" fill="none"/>
<path d="M406.72 384.51V391.01M404.72 384.51H408.72M404.72 391.01H408.72" stroke="#E0962E" stroke-width="0.85" fill="none"/>
<path d="M427.98 392.96V401.09M425.98 392.96H429.98M425.98 401.09H429.98" stroke="#E0962E" stroke-width="0.85" fill="none"/>
<path d="M449.24 378.17V386.3M447.24 378.17H451.24M447.24 386.3H451.24" stroke="#E0962E" stroke-width="0.85" fill="none"/>
<path d="M470.5 394.1V403.86M468.5 394.1H472.5M468.5 403.86H472.5" stroke="#E0962E" stroke-width="0.85" fill="none"/>
<path d="M491.76 397.51V406.46M489.76 397.51H493.76M489.76 406.46H493.76" stroke="#E0962E" stroke-width="0.85" fill="none"/>
<path d="M364.2 388.57 L385.46 389.47 L406.72 387.76 L427.98 397.03 L449.24 382.23 L470.5 398.98 L491.76 401.99" stroke="#E0962E" stroke-width="1.15" fill="none" stroke-linejoin="round"/>
<circle cx="364.2" cy="388.57" r="2.45" fill="#E0962E"/>
<circle cx="385.46" cy="389.47" r="2.45" fill="#E0962E"/>
<circle cx="406.72" cy="387.76" r="2.45" fill="#E0962E"/>
<circle cx="427.98" cy="397.03" r="2.45" fill="#E0962E"/>
<circle cx="449.24" cy="382.23" r="2.45" fill="#E0962E"/>
<circle cx="470.5" cy="398.98" r="2.45" fill="#E0962E"/>
<circle cx="491.76" cy="401.99" r="2.45" fill="#E0962E"/>
<path d="M364.2 406.38V408M362.2 406.38H366.2M362.2 408H366.2" stroke="#6E3F78" stroke-width="0.85" fill="none"/>
<path d="M385.46 409.47V411.09M383.46 409.47H387.46M383.46 411.09H387.46" stroke="#6E3F78" stroke-width="0.85" fill="none"/>
<path d="M406.72 412.07V413.69M404.72 412.07H408.72M404.72 413.69H408.72" stroke="#6E3F78" stroke-width="0.85" fill="none"/>
<path d="M427.98 414.51V416.13M425.98 414.51H429.98M425.98 416.13H429.98" stroke="#6E3F78" stroke-width="0.85" fill="none"/>
<path d="M449.24 399.87V409.63M447.24 399.87H451.24M447.24 409.63H451.24" stroke="#6E3F78" stroke-width="0.85" fill="none"/>
<path d="M470.5 412.96V414.59M468.5 412.96H472.5M468.5 414.59H472.5" stroke="#6E3F78" stroke-width="0.85" fill="none"/>
<path d="M491.76 420.2V421.82M489.76 420.2H493.76M489.76 421.82H493.76" stroke="#6E3F78" stroke-width="0.85" fill="none"/>
<path d="M364.2 407.19 L385.46 410.28 L406.72 412.88 L427.98 415.32 L449.24 404.75 L470.5 413.77 L491.76 421.01" stroke="#6E3F78" stroke-width="1.15" fill="none" stroke-linejoin="round"/>
<circle cx="364.2" cy="407.19" r="2.05" fill="#fff" stroke="#6E3F78" stroke-width="1.1"/>
<circle cx="385.46" cy="410.28" r="2.05" fill="#fff" stroke="#6E3F78" stroke-width="1.1"/>
<circle cx="406.72" cy="412.88" r="2.05" fill="#fff" stroke="#6E3F78" stroke-width="1.1"/>
<circle cx="427.98" cy="415.32" r="2.05" fill="#fff" stroke="#6E3F78" stroke-width="1.1"/>
<circle cx="449.24" cy="404.75" r="2.05" fill="#fff" stroke="#6E3F78" stroke-width="1.1"/>
<circle cx="470.5" cy="413.77" r="2.05" fill="#fff" stroke="#6E3F78" stroke-width="1.1"/>
<circle cx="491.76" cy="421.01" r="2.05" fill="#fff" stroke="#6E3F78" stroke-width="1.1"/>
<path d="M364.2 431.66V433.29M362.2 431.66H366.2M362.2 433.29H366.2" stroke="#5C3166" stroke-width="0.85" fill="none"/>
<path d="M385.46 430.28V431.9M383.46 430.28H387.46M383.46 431.9H387.46" stroke="#5C3166" stroke-width="0.85" fill="none"/>
<path d="M406.72 434.1V435.73M404.72 434.1H408.72M404.72 435.73H408.72" stroke="#5C3166" stroke-width="0.85" fill="none"/>
<path d="M427.98 435.16V436.78M425.98 435.16H429.98M425.98 436.78H429.98" stroke="#5C3166" stroke-width="0.85" fill="none"/>
<path d="M449.24 436.86V438.49M447.24 436.86H451.24M447.24 438.49H451.24" stroke="#5C3166" stroke-width="0.85" fill="none"/>
<path d="M470.5 434.18V436.62M468.5 434.18H472.5M468.5 436.62H472.5" stroke="#5C3166" stroke-width="0.85" fill="none"/>
<path d="M491.76 435.48V437.11M489.76 435.48H493.76M489.76 437.11H493.76" stroke="#5C3166" stroke-width="0.85" fill="none"/>
<path d="M364.2 432.47 L385.46 431.09 L406.72 434.91 L427.98 435.97 L449.24 437.68 L470.5 435.4 L491.76 436.29" stroke="#5C3166" stroke-width="1.15" fill="none" stroke-linejoin="round"/>
<polygon points="364.2,429.78 366.89,434.49 361.5,434.49" fill="#5C3166"/>
<polygon points="385.46,428.4 388.15,433.11 382.76,433.11" fill="#5C3166"/>
<polygon points="406.72,432.22 409.41,436.93 404.02,436.93" fill="#5C3166"/>
<polygon points="427.98,433.27 430.68,437.99 425.29,437.99" fill="#5C3166"/>
<polygon points="449.24,434.98 451.94,439.7 446.55,439.7" fill="#5C3166"/>
<polygon points="470.5,432.71 473.19,437.42 467.81,437.42" fill="#5C3166"/>
<polygon points="491.76,433.6 494.45,438.32 489.06,438.32" fill="#5C3166"/>
<path d="M364.2 411.66V414.1M362.2 411.66H366.2M362.2 414.1H366.2" stroke="#A2283C" stroke-width="0.85" fill="none"/>
<path d="M385.46 406.86V410.12M383.46 406.86H387.46M383.46 410.12H387.46" stroke="#A2283C" stroke-width="0.85" fill="none"/>
<path d="M406.72 403.12V406.38M404.72 403.12H408.72M404.72 406.38H408.72" stroke="#A2283C" stroke-width="0.85" fill="none"/>
<path d="M427.98 412.15V415.4M425.98 412.15H429.98M425.98 415.4H429.98" stroke="#A2283C" stroke-width="0.85" fill="none"/>
<path d="M449.24 410.36V413.61M447.24 410.36H451.24M447.24 413.61H451.24" stroke="#A2283C" stroke-width="0.85" fill="none"/>
<path d="M470.5 406.7V415.64M468.5 406.7H472.5M468.5 415.64H472.5" stroke="#A2283C" stroke-width="0.85" fill="none"/>
<path d="M491.76 411.74V414.99M489.76 411.74H493.76M489.76 414.99H493.76" stroke="#A2283C" stroke-width="0.85" fill="none"/>
<path d="M364.2 412.88 L385.46 408.49 L406.72 404.75 L427.98 413.77 L449.24 411.99 L470.5 411.17 L491.76 413.37" stroke="#A2283C" stroke-width="1.15" fill="none" stroke-linejoin="round"/>
<rect x="361.75" y="410.43" width="4.9" height="4.9" fill="#A2283C"/>
<rect x="383.01" y="406.04" width="4.9" height="4.9" fill="#A2283C"/>
<rect x="404.27" y="402.3" width="4.9" height="4.9" fill="#A2283C"/>
<rect x="425.53" y="411.32" width="4.9" height="4.9" fill="#A2283C"/>
<rect x="446.79" y="409.54" width="4.9" height="4.9" fill="#A2283C"/>
<rect x="468.05" y="408.72" width="4.9" height="4.9" fill="#A2283C"/>
<rect x="489.31" y="410.92" width="4.9" height="4.9" fill="#A2283C"/>
<path d="M364.2 416.62V418.25M362.2 416.62H366.2M362.2 418.25H366.2" stroke="#3D5A8C" stroke-width="0.85" fill="none"/>
<path d="M385.46 430.28V431.9M383.46 430.28H387.46M383.46 431.9H387.46" stroke="#3D5A8C" stroke-width="0.85" fill="none"/>
<path d="M406.72 428.57V430.2M404.72 428.57H408.72M404.72 430.2H408.72" stroke="#3D5A8C" stroke-width="0.85" fill="none"/>
<path d="M427.98 429.38V431.01M425.98 429.38H429.98M425.98 431.01H429.98" stroke="#3D5A8C" stroke-width="0.85" fill="none"/>
<path d="M449.24 418.25V421.5M447.24 418.25H451.24M447.24 421.5H451.24" stroke="#3D5A8C" stroke-width="0.85" fill="none"/>
<path d="M470.5 423.94V427.19M468.5 423.94H472.5M468.5 427.19H472.5" stroke="#3D5A8C" stroke-width="0.85" fill="none"/>
<path d="M491.76 428.57V431.82M489.76 428.57H493.76M489.76 431.82H493.76" stroke="#3D5A8C" stroke-width="0.85" fill="none"/>
<path d="M364.2 417.43 L385.46 431.09 L406.72 429.38 L427.98 430.2 L449.24 419.87 L470.5 425.56 L491.76 430.2" stroke="#3D5A8C" stroke-width="1.15" fill="none" stroke-linejoin="round"/>
<polygon points="364.2,415.08 366.56,419.2 361.84,419.2" fill="#fff" stroke="#3D5A8C" stroke-width="1.1"/>
<polygon points="385.46,428.73 387.82,432.86 383.1,432.86" fill="#fff" stroke="#3D5A8C" stroke-width="1.1"/>
<polygon points="406.72,427.03 409.08,431.15 404.36,431.15" fill="#fff" stroke="#3D5A8C" stroke-width="1.1"/>
<polygon points="427.98,427.84 430.34,431.97 425.62,431.97" fill="#fff" stroke="#3D5A8C" stroke-width="1.1"/>
<polygon points="449.24,417.51 451.6,421.64 446.88,421.64" fill="#fff" stroke="#3D5A8C" stroke-width="1.1"/>
<polygon points="470.5,423.21 472.86,427.33 468.14,427.33" fill="#fff" stroke="#3D5A8C" stroke-width="1.1"/>
<polygon points="491.76,427.84 494.12,431.97 489.4,431.97" fill="#fff" stroke="#3D5A8C" stroke-width="1.1"/>
<path d="M364.2 417.27V418.9M362.2 417.27H366.2M362.2 418.9H366.2" stroke="#B97A3C" stroke-width="0.85" fill="none"/>
<path d="M385.46 430.28V431.9M383.46 430.28H387.46M383.46 431.9H387.46" stroke="#B97A3C" stroke-width="0.85" fill="none"/>
<path d="M406.72 430.28V431.9M404.72 430.28H408.72M404.72 431.9H408.72" stroke="#B97A3C" stroke-width="0.85" fill="none"/>
<path d="M427.98 429.63V431.25M425.98 429.63H429.98M425.98 431.25H429.98" stroke="#B97A3C" stroke-width="0.85" fill="none"/>
<path d="M449.24 415.81V425.56M447.24 415.81H451.24M447.24 425.56H451.24" stroke="#B97A3C" stroke-width="0.85" fill="none"/>
<path d="M470.5 424.59V427.84M468.5 424.59H472.5M468.5 427.84H472.5" stroke="#B97A3C" stroke-width="0.85" fill="none"/>
<path d="M491.76 425.97V429.22M489.76 425.97H493.76M489.76 429.22H493.76" stroke="#B97A3C" stroke-width="0.85" fill="none"/>
<path d="M364.2 418.08 L385.46 431.09 L406.72 431.09 L427.98 430.44 L449.24 420.68 L470.5 426.21 L491.76 427.6" stroke="#B97A3C" stroke-width="1.15" fill="none" stroke-linejoin="round"/>
<rect x="362.15" y="416.03" width="4.1" height="4.1" fill="#fff" stroke="#B97A3C" stroke-width="1.1"/>
<rect x="383.41" y="429.04" width="4.1" height="4.1" fill="#fff" stroke="#B97A3C" stroke-width="1.1"/>
<rect x="404.67" y="429.04" width="4.1" height="4.1" fill="#fff" stroke="#B97A3C" stroke-width="1.1"/>
<rect x="425.93" y="428.39" width="4.1" height="4.1" fill="#fff" stroke="#B97A3C" stroke-width="1.1"/>
<rect x="447.19" y="418.63" width="4.1" height="4.1" fill="#fff" stroke="#B97A3C" stroke-width="1.1"/>
<rect x="468.45" y="424.16" width="4.1" height="4.1" fill="#fff" stroke="#B97A3C" stroke-width="1.1"/>
<rect x="489.71" y="425.55" width="4.1" height="4.1" fill="#fff" stroke="#B97A3C" stroke-width="1.1"/>
<path d="M354 532.9V633.5H503.5" stroke="#231F20" stroke-width="1.3" fill="none"/>
<path d="M350.5 633.5H354" stroke="#231F20" stroke-width="1" fill="none"/>
<text x="347.1" y="636.5" font-size="8.4" text-anchor="end" fill="#231F20" stroke-width="0.12" textLength="4.02" lengthAdjust="spacingAndGlyphs">0</text>
<path d="M350.5 613.96H354" stroke="#231F20" stroke-width="1" fill="none"/>
<text x="347.1" y="616.96" font-size="8.4" text-anchor="end" fill="#231F20" stroke-width="0.12" textLength="4.02" lengthAdjust="spacingAndGlyphs">2</text>
<path d="M350.5 594.42H354" stroke="#231F20" stroke-width="1" fill="none"/>
<text x="347.1" y="597.42" font-size="8.4" text-anchor="end" fill="#231F20" stroke-width="0.12" textLength="4.02" lengthAdjust="spacingAndGlyphs">4</text>
<path d="M350.5 574.88H354" stroke="#231F20" stroke-width="1" fill="none"/>
<text x="347.1" y="577.88" font-size="8.4" text-anchor="end" fill="#231F20" stroke-width="0.12" textLength="4.02" lengthAdjust="spacingAndGlyphs">6</text>
<path d="M350.5 555.34H354" stroke="#231F20" stroke-width="1" fill="none"/>
<text x="347.1" y="558.34" font-size="8.4" text-anchor="end" fill="#231F20" stroke-width="0.12" textLength="4.02" lengthAdjust="spacingAndGlyphs">8</text>
<path d="M350.5 535.8H354" stroke="#231F20" stroke-width="1" fill="none"/>
<text x="347.1" y="538.8" font-size="8.4" text-anchor="end" fill="#231F20" stroke-width="0.12" textLength="8.03" lengthAdjust="spacingAndGlyphs">10</text>
<path d="M367.3 633.5V637.1" stroke="#231F20" stroke-width="1" fill="none"/>
<text x="367.3" y="647.1" font-size="8.4" text-anchor="middle" fill="#231F20" stroke-width="0.12" textLength="4.02" lengthAdjust="spacingAndGlyphs">0</text>
<path d="M388.2 633.5V637.1" stroke="#231F20" stroke-width="1" fill="none"/>
<text x="388.2" y="647.1" font-size="8.4" text-anchor="middle" fill="#231F20" stroke-width="0.12" textLength="4.02" lengthAdjust="spacingAndGlyphs">2</text>
<path d="M409.1 633.5V637.1" stroke="#231F20" stroke-width="1" fill="none"/>
<text x="409.1" y="647.1" font-size="8.4" text-anchor="middle" fill="#231F20" stroke-width="0.12" textLength="4.02" lengthAdjust="spacingAndGlyphs">4</text>
<path d="M430 633.5V637.1" stroke="#231F20" stroke-width="1" fill="none"/>
<text x="430" y="647.1" font-size="8.4" text-anchor="middle" fill="#231F20" stroke-width="0.12" textLength="4.02" lengthAdjust="spacingAndGlyphs">6</text>
<path d="M450.9 633.5V637.1" stroke="#231F20" stroke-width="1" fill="none"/>
<text x="450.9" y="647.1" font-size="8.4" text-anchor="middle" fill="#231F20" stroke-width="0.12" textLength="4.02" lengthAdjust="spacingAndGlyphs">8</text>
<path d="M471.8 633.5V637.1" stroke="#231F20" stroke-width="1" fill="none"/>
<text x="471.8" y="647.1" font-size="8.4" text-anchor="middle" fill="#231F20" stroke-width="0.12" textLength="8.03" lengthAdjust="spacingAndGlyphs">10</text>
<path d="M492.7 633.5V637.1" stroke="#231F20" stroke-width="1" fill="none"/>
<text x="492.7" y="647.1" font-size="8.4" text-anchor="middle" fill="#231F20" stroke-width="0.12" textLength="8.03" lengthAdjust="spacingAndGlyphs">12</text>
<text x="0" y="0" font-size="10.3" text-anchor="middle" fill="#231F20" stroke-width="0.12" textLength="122.7" lengthAdjust="spacingAndGlyphs" transform="translate(332 583.2) rotate(-90)">Grip force (g/g body weight)</text>
<text x="322.4" y="523.3" font-size="13.3" text-anchor="start" fill="#231F20" stroke-width="0.05" textLength="8.4" lengthAdjust="spacingAndGlyphs">H</text>
<text x="402" y="662.5" font-size="10.6" text-anchor="start" fill="#231F20" stroke-width="0.12" textLength="57.6" lengthAdjust="spacingAndGlyphs">Time (weeks)</text>
<path d="M367.3 576.15V578.1M365.3 576.15H369.3M365.3 578.1H369.3" stroke="#6AA8DA" stroke-width="0.85" fill="none"/>
<path d="M388.2 572.93V574.88M386.2 572.93H390.2M386.2 574.88H390.2" stroke="#6AA8DA" stroke-width="0.85" fill="none"/>
<path d="M409.1 577.42V580.35M407.1 577.42H411.1M407.1 580.35H411.1" stroke="#6AA8DA" stroke-width="0.85" fill="none"/>
<path d="M430 577.62V579.57M428 577.62H432M428 579.57H432" stroke="#6AA8DA" stroke-width="0.85" fill="none"/>
<path d="M450.9 579.96V582.89M448.9 579.96H452.9M448.9 582.89H452.9" stroke="#6AA8DA" stroke-width="0.85" fill="none"/>
<path d="M471.8 580.94V582.89M469.8 580.94H473.8M469.8 582.89H473.8" stroke="#6AA8DA" stroke-width="0.85" fill="none"/>
<path d="M492.7 579.18V581.13M490.7 579.18H494.7M490.7 581.13H494.7" stroke="#6AA8DA" stroke-width="0.85" fill="none"/>
<path d="M367.3 577.13 L388.2 573.9 L409.1 578.89 L430 578.59 L450.9 581.43 L471.8 581.91 L492.7 580.16" stroke="#6AA8DA" stroke-width="1.15" fill="none" stroke-linejoin="round"/>
<polygon points="367.3,574.31 370.12,577.13 367.3,579.94 364.48,577.13" fill="#6AA8DA"/>
<polygon points="388.2,571.09 391.02,573.9 388.2,576.72 385.38,573.9" fill="#6AA8DA"/>
<polygon points="409.1,576.07 411.92,578.89 409.1,581.7 406.28,578.89" fill="#6AA8DA"/>
<polygon points="430,575.78 432.82,578.59 430,581.41 427.18,578.59" fill="#6AA8DA"/>
<polygon points="450.9,578.61 453.72,581.43 450.9,584.24 448.08,581.43" fill="#6AA8DA"/>
<polygon points="471.8,579.1 474.62,581.91 471.8,584.73 468.98,581.91" fill="#6AA8DA"/>
<polygon points="492.7,577.34 495.52,580.16 492.7,582.97 489.88,580.16" fill="#6AA8DA"/>
<path d="M367.3 567.55V569.51M365.3 567.55H369.3M365.3 569.51H369.3" stroke="#E0962E" stroke-width="0.85" fill="none"/>
<path d="M388.2 561.98V567.85M386.2 561.98H390.2M386.2 567.85H390.2" stroke="#E0962E" stroke-width="0.85" fill="none"/>
<path d="M409.1 565.7V567.65M407.1 565.7H411.1M407.1 567.65H411.1" stroke="#E0962E" stroke-width="0.85" fill="none"/>
<path d="M430 566.67V570.58M428 566.67H432M428 570.58H432" stroke="#E0962E" stroke-width="0.85" fill="none"/>
<path d="M450.9 570.19V572.14M448.9 570.19H452.9M448.9 572.14H452.9" stroke="#E0962E" stroke-width="0.85" fill="none"/>
<path d="M471.8 573.22V575.17M469.8 573.22H473.8M469.8 575.17H473.8" stroke="#E0962E" stroke-width="0.85" fill="none"/>
<path d="M492.7 569.02V575.86M490.7 569.02H494.7M490.7 575.86H494.7" stroke="#E0962E" stroke-width="0.85" fill="none"/>
<path d="M367.3 568.53 L388.2 564.91 L409.1 566.67 L430 568.63 L450.9 571.17 L471.8 574.2 L492.7 572.44" stroke="#E0962E" stroke-width="1.15" fill="none" stroke-linejoin="round"/>
<circle cx="367.3" cy="568.53" r="2.45" fill="#E0962E"/>
<circle cx="388.2" cy="564.91" r="2.45" fill="#E0962E"/>
<circle cx="409.1" cy="566.67" r="2.45" fill="#E0962E"/>
<circle cx="430" cy="568.63" r="2.45" fill="#E0962E"/>
<circle cx="450.9" cy="571.17" r="2.45" fill="#E0962E"/>
<circle cx="471.8" cy="574.2" r="2.45" fill="#E0962E"/>
<circle cx="492.7" cy="572.44" r="2.45" fill="#E0962E"/>
<path d="M367.3 586.41V588.36M365.3 586.41H369.3M365.3 588.36H369.3" stroke="#5C3166" stroke-width="0.85" fill="none"/>
<path d="M388.2 584.55V586.51M386.2 584.55H390.2M386.2 586.51H390.2" stroke="#5C3166" stroke-width="0.85" fill="none"/>
<path d="M409.1 585.82V587.78M407.1 585.82H411.1M407.1 587.78H411.1" stroke="#5C3166" stroke-width="0.85" fill="none"/>
<path d="M430 588.56V590.51M428 588.56H432M428 590.51H432" stroke="#5C3166" stroke-width="0.85" fill="none"/>
<path d="M450.9 589.05V591M448.9 589.05H452.9M448.9 591H452.9" stroke="#5C3166" stroke-width="0.85" fill="none"/>
<path d="M471.8 589.44V591.39M469.8 589.44H473.8M469.8 591.39H473.8" stroke="#5C3166" stroke-width="0.85" fill="none"/>
<path d="M492.7 588.66V590.61M490.7 588.66H494.7M490.7 590.61H494.7" stroke="#5C3166" stroke-width="0.85" fill="none"/>
<path d="M367.3 587.39 L388.2 585.53 L409.1 586.8 L430 589.53 L450.9 590.02 L471.8 590.41 L492.7 589.63" stroke="#5C3166" stroke-width="1.15" fill="none" stroke-linejoin="round"/>
<polygon points="367.3,584.69 370,589.41 364.61,589.41" fill="#5C3166"/>
<polygon points="388.2,582.83 390.89,587.55 385.5,587.55" fill="#5C3166"/>
<polygon points="409.1,584.1 411.8,588.82 406.41,588.82" fill="#5C3166"/>
<polygon points="430,586.84 432.69,591.56 427.31,591.56" fill="#5C3166"/>
<polygon points="450.9,587.33 453.59,592.04 448.2,592.04" fill="#5C3166"/>
<polygon points="471.8,587.72 474.5,592.44 469.11,592.44" fill="#5C3166"/>
<polygon points="492.7,586.94 495.39,591.65 490,591.65" fill="#5C3166"/>
<path d="M367.3 577.42V579.37M365.3 577.42H369.3M365.3 579.37H369.3" stroke="#A2283C" stroke-width="0.85" fill="none"/>
<path d="M388.2 576.15V578.1M386.2 576.15H390.2M386.2 578.1H390.2" stroke="#A2283C" stroke-width="0.85" fill="none"/>
<path d="M409.1 575.56V577.52M407.1 575.56H411.1M407.1 577.52H411.1" stroke="#A2283C" stroke-width="0.85" fill="none"/>
<path d="M430 577.42V579.37M428 577.42H432M428 579.37H432" stroke="#A2283C" stroke-width="0.85" fill="none"/>
<path d="M450.9 576.83V578.79M448.9 576.83H452.9M448.9 578.79H452.9" stroke="#A2283C" stroke-width="0.85" fill="none"/>
<path d="M471.8 578.69V580.64M469.8 578.69H473.8M469.8 580.64H473.8" stroke="#A2283C" stroke-width="0.85" fill="none"/>
<path d="M492.7 576.15V578.1M490.7 576.15H494.7M490.7 578.1H494.7" stroke="#A2283C" stroke-width="0.85" fill="none"/>
<path d="M367.3 578.4 L388.2 577.13 L409.1 576.54 L430 578.4 L450.9 577.81 L471.8 579.67 L492.7 577.13" stroke="#A2283C" stroke-width="1.15" fill="none" stroke-linejoin="round"/>
<rect x="364.85" y="575.95" width="4.9" height="4.9" fill="#A2283C"/>
<rect x="385.75" y="574.68" width="4.9" height="4.9" fill="#A2283C"/>
<rect x="406.65" y="574.09" width="4.9" height="4.9" fill="#A2283C"/>
<rect x="427.55" y="575.95" width="4.9" height="4.9" fill="#A2283C"/>
<rect x="448.45" y="575.36" width="4.9" height="4.9" fill="#A2283C"/>
<rect x="469.35" y="577.22" width="4.9" height="4.9" fill="#A2283C"/>
<rect x="490.25" y="574.68" width="4.9" height="4.9" fill="#A2283C"/>
<path d="M367.3 576.83V578.79M365.3 576.83H369.3M365.3 578.79H369.3" stroke="#E39A35" stroke-width="0.85" fill="none"/>
<path d="M388.2 574.88V576.83M386.2 574.88H390.2M386.2 576.83H390.2" stroke="#E39A35" stroke-width="0.85" fill="none"/>
<path d="M409.1 576.83V578.79M407.1 576.83H411.1M407.1 578.79H411.1" stroke="#E39A35" stroke-width="0.85" fill="none"/>
<path d="M430 577.81V579.76M428 577.81H432M428 579.76H432" stroke="#E39A35" stroke-width="0.85" fill="none"/>
<path d="M450.9 579.28V581.23M448.9 579.28H452.9M448.9 581.23H452.9" stroke="#E39A35" stroke-width="0.85" fill="none"/>
<path d="M471.8 580.74V582.7M469.8 580.74H473.8M469.8 582.7H473.8" stroke="#E39A35" stroke-width="0.85" fill="none"/>
<path d="M492.7 578.79V580.74M490.7 578.79H494.7M490.7 580.74H494.7" stroke="#E39A35" stroke-width="0.85" fill="none"/>
<path d="M367.3 577.81 L388.2 575.86 L409.1 577.81 L430 578.79 L450.9 580.25 L471.8 581.72 L492.7 579.76" stroke="#E39A35" stroke-width="1.15" fill="none" stroke-linejoin="round"/>
<polygon points="367.3,575.45 369.66,577.81 367.3,580.17 364.94,577.81" fill="#fff" stroke="#E39A35" stroke-width="1.1"/>
<polygon points="388.2,573.5 390.56,575.86 388.2,578.21 385.84,575.86" fill="#fff" stroke="#E39A35" stroke-width="1.1"/>
<polygon points="409.1,575.45 411.46,577.81 409.1,580.17 406.74,577.81" fill="#fff" stroke="#E39A35" stroke-width="1.1"/>
<polygon points="430,576.43 432.36,578.79 430,581.15 427.64,578.79" fill="#fff" stroke="#E39A35" stroke-width="1.1"/>
<polygon points="450.9,577.9 453.26,580.25 450.9,582.61 448.54,580.25" fill="#fff" stroke="#E39A35" stroke-width="1.1"/>
<polygon points="471.8,579.36 474.16,581.72 471.8,584.08 469.44,581.72" fill="#fff" stroke="#E39A35" stroke-width="1.1"/>
<polygon points="492.7,577.41 495.06,579.76 492.7,582.12 490.34,579.76" fill="#fff" stroke="#E39A35" stroke-width="1.1"/>
<path d="M367.3 575.56V577.52M365.3 575.56H369.3M365.3 577.52H369.3" stroke="#6E3F78" stroke-width="0.85" fill="none"/>
<path d="M388.2 570.19V572.14M386.2 570.19H390.2M386.2 572.14H390.2" stroke="#6E3F78" stroke-width="0.85" fill="none"/>
<path d="M409.1 573.81V575.76M407.1 573.81H411.1M407.1 575.76H411.1" stroke="#6E3F78" stroke-width="0.85" fill="none"/>
<path d="M430 578.1V580.06M428 578.1H432M428 580.06H432" stroke="#6E3F78" stroke-width="0.85" fill="none"/>
<path d="M450.9 577.42V579.37M448.9 577.42H452.9M448.9 579.37H452.9" stroke="#6E3F78" stroke-width="0.85" fill="none"/>
<path d="M471.8 577.91V579.86M469.8 577.91H473.8M469.8 579.86H473.8" stroke="#6E3F78" stroke-width="0.85" fill="none"/>
<path d="M492.7 578.3V580.25M490.7 578.3H494.7M490.7 580.25H494.7" stroke="#6E3F78" stroke-width="0.85" fill="none"/>
<path d="M367.3 576.54 L388.2 571.17 L409.1 574.78 L430 579.08 L450.9 578.4 L471.8 578.89 L492.7 579.28" stroke="#6E3F78" stroke-width="1.15" fill="none" stroke-linejoin="round"/>
<circle cx="367.3" cy="576.54" r="2.05" fill="#fff" stroke="#6E3F78" stroke-width="1.1"/>
<circle cx="388.2" cy="571.17" r="2.05" fill="#fff" stroke="#6E3F78" stroke-width="1.1"/>
<circle cx="409.1" cy="574.78" r="2.05" fill="#fff" stroke="#6E3F78" stroke-width="1.1"/>
<circle cx="430" cy="579.08" r="2.05" fill="#fff" stroke="#6E3F78" stroke-width="1.1"/>
<circle cx="450.9" cy="578.4" r="2.05" fill="#fff" stroke="#6E3F78" stroke-width="1.1"/>
<circle cx="471.8" cy="578.89" r="2.05" fill="#fff" stroke="#6E3F78" stroke-width="1.1"/>
<circle cx="492.7" cy="579.28" r="2.05" fill="#fff" stroke="#6E3F78" stroke-width="1.1"/>
<path d="M367.3 585.82V587.78M365.3 585.82H369.3M365.3 587.78H369.3" stroke="#B97A3C" stroke-width="0.85" fill="none"/>
<path d="M388.2 585.82V587.78M386.2 585.82H390.2M386.2 587.78H390.2" stroke="#B97A3C" stroke-width="0.85" fill="none"/>
<path d="M409.1 586.41V588.36M407.1 586.41H411.1M407.1 588.36H411.1" stroke="#B97A3C" stroke-width="0.85" fill="none"/>
<path d="M430 588.17V590.12M428 588.17H432M428 590.12H432" stroke="#B97A3C" stroke-width="0.85" fill="none"/>
<path d="M450.9 589.05V591M448.9 589.05H452.9M448.9 591H452.9" stroke="#B97A3C" stroke-width="0.85" fill="none"/>
<path d="M471.8 589.05V591M469.8 589.05H473.8M469.8 591H473.8" stroke="#B97A3C" stroke-width="0.85" fill="none"/>
<path d="M492.7 590.51V592.47M490.7 590.51H494.7M490.7 592.47H494.7" stroke="#B97A3C" stroke-width="0.85" fill="none"/>
<path d="M367.3 586.8 L388.2 586.8 L409.1 587.39 L430 589.14 L450.9 590.02 L471.8 590.02 L492.7 591.49" stroke="#B97A3C" stroke-width="1.15" fill="none" stroke-linejoin="round"/>
<rect x="365.25" y="584.75" width="4.1" height="4.1" fill="#fff" stroke="#B97A3C" stroke-width="1.1"/>
<rect x="386.15" y="584.75" width="4.1" height="4.1" fill="#fff" stroke="#B97A3C" stroke-width="1.1"/>
<rect x="407.05" y="585.34" width="4.1" height="4.1" fill="#fff" stroke="#B97A3C" stroke-width="1.1"/>
<rect x="427.95" y="587.09" width="4.1" height="4.1" fill="#fff" stroke="#B97A3C" stroke-width="1.1"/>
<rect x="448.85" y="587.97" width="4.1" height="4.1" fill="#fff" stroke="#B97A3C" stroke-width="1.1"/>
<rect x="469.75" y="587.97" width="4.1" height="4.1" fill="#fff" stroke="#B97A3C" stroke-width="1.1"/>
<rect x="490.65" y="589.44" width="4.1" height="4.1" fill="#fff" stroke="#B97A3C" stroke-width="1.1"/>
<path d="M367.3 587.29V589.24M365.3 587.29H369.3M365.3 589.24H369.3" stroke="#3D5A8C" stroke-width="0.85" fill="none"/>
<path d="M388.2 584.06V586.02M386.2 584.06H390.2M386.2 586.02H390.2" stroke="#3D5A8C" stroke-width="0.85" fill="none"/>
<path d="M409.1 585.43V587.39M407.1 585.43H411.1M407.1 587.39H411.1" stroke="#3D5A8C" stroke-width="0.85" fill="none"/>
<path d="M430 586.41V588.36M428 586.41H432M428 588.36H432" stroke="#3D5A8C" stroke-width="0.85" fill="none"/>
<path d="M450.9 588.17V590.12M448.9 588.17H452.9M448.9 590.12H452.9" stroke="#3D5A8C" stroke-width="0.85" fill="none"/>
<path d="M471.8 588.17V590.12M469.8 588.17H473.8M469.8 590.12H473.8" stroke="#3D5A8C" stroke-width="0.85" fill="none"/>
<path d="M492.7 591.2V593.15M490.7 591.2H494.7M490.7 593.15H494.7" stroke="#3D5A8C" stroke-width="0.85" fill="none"/>
<path d="M367.3 588.26 L388.2 585.04 L409.1 586.41 L430 587.39 L450.9 589.14 L471.8 589.14 L492.7 592.17" stroke="#3D5A8C" stroke-width="1.15" fill="none" stroke-linejoin="round"/>
<polygon points="367.3,585.91 369.66,590.03 364.94,590.03" fill="#fff" stroke="#3D5A8C" stroke-width="1.1"/>
<polygon points="388.2,582.68 390.56,586.81 385.84,586.81" fill="#fff" stroke="#3D5A8C" stroke-width="1.1"/>
<polygon points="409.1,584.05 411.46,588.18 406.74,588.18" fill="#fff" stroke="#3D5A8C" stroke-width="1.1"/>
<polygon points="430,585.03 432.36,589.15 427.64,589.15" fill="#fff" stroke="#3D5A8C" stroke-width="1.1"/>
<polygon points="450.9,586.79 453.26,590.91 448.54,590.91" fill="#fff" stroke="#3D5A8C" stroke-width="1.1"/>
<polygon points="471.8,586.79 474.16,590.91 469.44,590.91" fill="#fff" stroke="#3D5A8C" stroke-width="1.1"/>
<polygon points="492.7,589.82 495.06,593.94 490.34,593.94" fill="#fff" stroke="#3D5A8C" stroke-width="1.1"/>
<polygon points="348.3,669.84 351.06,672.6 348.3,675.36 345.54,672.6" fill="#6AA8DA"/>
<circle cx="348.3" cy="685.1" r="2.6" fill="#E0962E"/>
<polygon points="348.3,695.07 350.83,699.5 345.77,699.5" fill="#5C3166"/>
<rect x="345.9" y="707.8" width="4.8" height="4.8" fill="#A2283C"/>
<text x="354.3" y="675.3" font-size="8.4" text-anchor="start" fill="#231F20" stroke-width="0.12" textLength="66.7" lengthAdjust="spacingAndGlyphs">AA Morphine 0 min</text>
<text x="354.3" y="687.8" font-size="8.4" text-anchor="start" fill="#231F20" stroke-width="0.12" textLength="70.5" lengthAdjust="spacingAndGlyphs">AA Morphine 30 min</text>
<text x="354.3" y="700.3" font-size="8.4" text-anchor="start" fill="#231F20" stroke-width="0.12" textLength="64.6" lengthAdjust="spacingAndGlyphs">SS Morphine 0 min</text>
<text x="354.3" y="712.9" font-size="8.4" text-anchor="start" fill="#231F20" stroke-width="0.12" textLength="68.7" lengthAdjust="spacingAndGlyphs">SS Morphine 30 min</text>
<path d="M437.3 672.6H446.9" stroke="#E39A35" stroke-width="1.1"/>
<polygon points="442.1,669.73 444.98,672.6 442.1,675.48 439.23,672.6" fill="#fff" stroke="#E39A35" stroke-width="1.1"/>
<path d="M437.3 685.1H446.9" stroke="#6E3F78" stroke-width="1.1"/>
<circle cx="442.1" cy="685.1" r="2.5" fill="#fff" stroke="#6E3F78" stroke-width="1.1"/>
<path d="M437.3 697.6H446.9" stroke="#B97A3C" stroke-width="1.1"/>
<rect x="439.6" y="695.1" width="5" height="5" fill="#fff" stroke="#B97A3C" stroke-width="1.1"/>
<path d="M437.3 710.2H446.9" stroke="#3D5A8C" stroke-width="1.1"/>
<polygon points="442.1,707.33 444.98,712.36 439.23,712.36" fill="#fff" stroke="#3D5A8C" stroke-width="1.1"/>
<text x="450.2" y="675.3" font-size="8.4" text-anchor="start" fill="#231F20" stroke-width="0.12" textLength="53.7" lengthAdjust="spacingAndGlyphs">AA Saline 0 min</text>
<text x="450.2" y="687.8" font-size="8.4" text-anchor="start" fill="#231F20" stroke-width="0.12" textLength="57.8" lengthAdjust="spacingAndGlyphs">AA Saline 30 min</text>
<text x="450.2" y="700.3" font-size="8.4" text-anchor="start" fill="#231F20" stroke-width="0.12" textLength="51.7" lengthAdjust="spacingAndGlyphs">SS Saline 0 min</text>
<text x="450.2" y="712.9" font-size="8.4" text-anchor="start" fill="#231F20" stroke-width="0.12" textLength="55.7" lengthAdjust="spacingAndGlyphs">SS Saline 30 min</text>
<rect x="0" y="0" width="1.1" height="723" fill="#000"/>
<rect x="518.9" y="0" width="1.1" height="723" fill="#000"/>
<rect x="0" y="0" width="520" height="1.8" fill="#5f5f5f"/>
<rect x="0" y="721.2" width="520" height="1.8" fill="#5f5f5f"/>
</svg>
</body></html>
